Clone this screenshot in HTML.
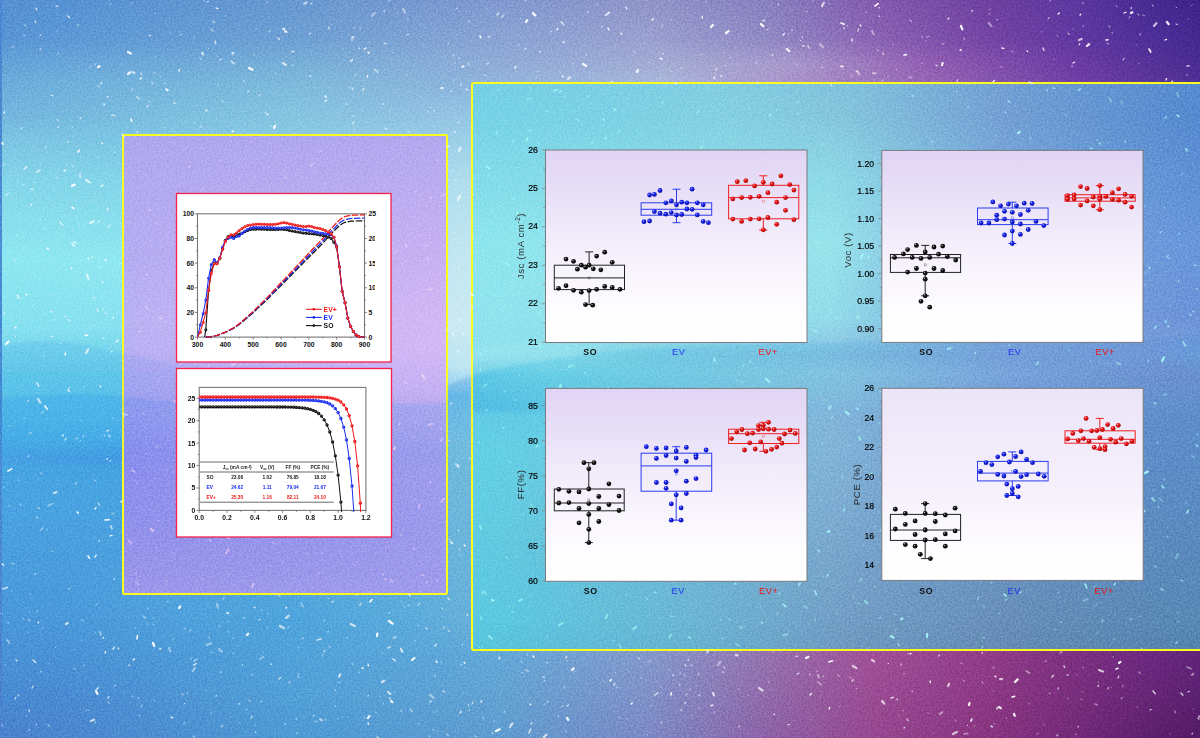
<!DOCTYPE html>
<html><head><meta charset="utf-8"><title>Figure</title>
<style>
html,body{margin:0;padding:0;}
body{width:1200px;height:738px;overflow:hidden;position:relative;font-family:"Liberation Sans",sans-serif;background:#4a8ad0;}
#lp{position:absolute;left:122px;top:134px;width:322px;height:457px;border:2px solid #fbfb1e;border-radius:2px;}
#rp{position:absolute;left:471px;top:82px;width:760px;height:565px;border:2px solid #fbfb1e;border-radius:2px;}

</style></head><body>
<div id="bg" style="position:absolute;left:0px;top:0px;width:1200px;height:738px;overflow:hidden;">
<div style="position:absolute;left:0;top:0;width:1200px;height:738px;background:linear-gradient(90deg,#5690d2 0px,#5692d4 60px,#6898d0 300px,#8098d0 500px,#9094c8 650px,#8880c0 770px,#845cb0 870px,#6e40a0 990px,#5c38a0 1075px,#44288e 1160px,#3e2488 1200px);"></div>
<div style="position:absolute;left:0;top:0;width:1200px;height:738px;background:linear-gradient(90deg,#5894d4 0px,#5c98d6 60px,#6ea0d4 300px,#8aa4d4 500px,#9aa0d0 650px,#9088c4 770px,#8a64b4 870px,#7444a4 990px,#6038a0 1075px,#4c2e98 1160px,#44288e 1200px);-webkit-mask-image:linear-gradient(180deg,rgba(0,0,0,0) 0px,#000 38px);mask-image:linear-gradient(180deg,rgba(0,0,0,0) 0px,#000 38px);"></div>
<div style="position:absolute;left:0;top:0;width:1200px;height:738px;background:linear-gradient(90deg,#64a4d8 0px,#68a6da 60px,#78b0d8 300px,#90acd8 500px,#a4acd4 665px,#a898cc 795px,#9460b4 925px,#6c3ca4 1075px,#543296 1160px,#4a2c92 1200px);-webkit-mask-image:linear-gradient(180deg,rgba(0,0,0,0) 38px,#000 65px);mask-image:linear-gradient(180deg,rgba(0,0,0,0) 38px,#000 65px);"></div>
<div style="position:absolute;left:0;top:0;width:1200px;height:738px;background:linear-gradient(90deg,#6cacdc 0px,#6eb0dc 60px,#7ebadc 300px,#8cb4dc 460px,#aab8dc 665px,#aa90c8 795px,#9668b4 925px,#7040a6 1075px,#5a3498 1160px,#523298 1200px);-webkit-mask-image:linear-gradient(180deg,rgba(0,0,0,0) 65px,#000 84px);mask-image:linear-gradient(180deg,rgba(0,0,0,0) 65px,#000 84px);"></div>
<div style="position:absolute;left:0;top:0;width:1200px;height:738px;background:linear-gradient(90deg,#72b4de 0px,#74b8de 60px,#84c4e0 290px,#90c0e2 420px,#94c4e4 460px,#94c4e4 1200px);-webkit-mask-image:linear-gradient(180deg,rgba(0,0,0,0) 84px,#000 113px);mask-image:linear-gradient(180deg,rgba(0,0,0,0) 84px,#000 113px);"></div>
<div style="position:absolute;left:0;top:0;width:1200px;height:738px;background:linear-gradient(90deg,#7cc4e4 0px,#7cc6e4 122px,#98cee6 440px,#9cd0e8 460px,#9cd0e8 1200px);-webkit-mask-image:linear-gradient(180deg,rgba(0,0,0,0) 113px,#000 140px);mask-image:linear-gradient(180deg,rgba(0,0,0,0) 113px,#000 140px);"></div>
<div style="position:absolute;left:0;top:0;width:1200px;height:738px;background:linear-gradient(90deg,#84d6ea 0px,#84d6ea 122px,#acdcee 440px,#b0deee 460px,#b0deee 1200px);-webkit-mask-image:linear-gradient(180deg,rgba(0,0,0,0) 140px,#000 182px);mask-image:linear-gradient(180deg,rgba(0,0,0,0) 140px,#000 182px);"></div>
<div style="position:absolute;left:0;top:0;width:1200px;height:738px;background:linear-gradient(90deg,#8ee8f2 0px,#90e8f2 122px,#c0e6f2 440px,#c4e8f2 460px,#c4e8f2 1200px);-webkit-mask-image:linear-gradient(180deg,rgba(0,0,0,0) 182px,#000 262px);mask-image:linear-gradient(180deg,rgba(0,0,0,0) 182px,#000 262px);"></div>
<div style="position:absolute;left:0;top:0;width:1200px;height:738px;background:linear-gradient(90deg,#84e0f0 0px,#88e0f0 122px,#c8e8f2 440px,#cceaf2 460px,#cceaf2 1200px);-webkit-mask-image:linear-gradient(180deg,rgba(0,0,0,0) 262px,#000 330px);mask-image:linear-gradient(180deg,rgba(0,0,0,0) 262px,#000 330px);"></div>
<div style="position:absolute;left:0;top:0;width:1200px;height:738px;background:linear-gradient(90deg,#66cfea 0px,#6ad0ea 122px,#b4e2f0 440px,#b8e4f2 460px,#b8e4f2 1200px);-webkit-mask-image:linear-gradient(180deg,rgba(0,0,0,0) 330px,#000 367px);mask-image:linear-gradient(180deg,rgba(0,0,0,0) 330px,#000 367px);"></div>
<div style="position:absolute;left:0;top:0;width:1200px;height:738px;background:linear-gradient(90deg,#5cc2ea 0px,#5ec2ea 122px,#74c0e8 440px,#78c2e8 460px,#78c2e8 1200px);-webkit-mask-image:linear-gradient(180deg,rgba(0,0,0,0) 367px,#000 395px);mask-image:linear-gradient(180deg,rgba(0,0,0,0) 367px,#000 395px);"></div>
<div style="position:absolute;left:0;top:0;width:1200px;height:738px;background:linear-gradient(90deg,#4aaee6 0px,#4aaee6 122px,#76bee0 440px,#78c0e0 460px,#78c0e0 1200px);-webkit-mask-image:linear-gradient(180deg,rgba(0,0,0,0) 395px,#000 440px);mask-image:linear-gradient(180deg,rgba(0,0,0,0) 395px,#000 440px);"></div>
<div style="position:absolute;left:0;top:0;width:1200px;height:738px;background:linear-gradient(90deg,#48a2e4 0px,#459ae2 122px,#72bade 440px,#74bcde 460px,#74bcde 1200px);-webkit-mask-image:linear-gradient(180deg,rgba(0,0,0,0) 440px,#000 458px);mask-image:linear-gradient(180deg,rgba(0,0,0,0) 440px,#000 458px);"></div>
<div style="position:absolute;left:0;top:0;width:1200px;height:738px;background:linear-gradient(90deg,#48a6e2 0px,#46a4e0 122px,#6eb8dc 440px,#70badc 460px,#70badc 1200px);-webkit-mask-image:linear-gradient(180deg,rgba(0,0,0,0) 458px,#000 470px);mask-image:linear-gradient(180deg,rgba(0,0,0,0) 458px,#000 470px);"></div>
<div style="position:absolute;left:0;top:0;width:1200px;height:738px;background:linear-gradient(90deg,#4aa2e0 0px,#4aa2e0 60px,#4aa2e0 122px,#6ab4da 440px,#6cb6dc 460px,#6cb6dc 1200px);-webkit-mask-image:linear-gradient(180deg,rgba(0,0,0,0) 470px,#000 518px);mask-image:linear-gradient(180deg,rgba(0,0,0,0) 470px,#000 518px);"></div>
<div style="position:absolute;left:0;top:0;width:1200px;height:738px;background:linear-gradient(90deg,#4a98da 0px,#4a98da 60px,#50a0dc 160px,#4ea4dc 290px,#5cacdc 420px,#66b0da 460px,#66acd8 560px,#8498cc 650px,#9474b0 760px,#a05098 870px,#903c88 990px,#7c3080 1075px,#6a2880 1160px,#602478 1200px);-webkit-mask-image:linear-gradient(180deg,rgba(0,0,0,0) 518px,#000 618px);mask-image:linear-gradient(180deg,rgba(0,0,0,0) 518px,#000 618px);"></div>
<div style="position:absolute;left:0;top:0;width:1200px;height:738px;background:linear-gradient(90deg,#4a92d6 0px,#4a92d6 60px,#50a2da 290px,#62a8d8 500px,#8498cc 650px,#9474b0 760px,#a05098 870px,#903c88 990px,#7c3080 1075px,#6a2880 1160px,#602478 1200px);-webkit-mask-image:linear-gradient(180deg,rgba(0,0,0,0) 618px,#000 655px);mask-image:linear-gradient(180deg,rgba(0,0,0,0) 618px,#000 655px);"></div>
<div style="position:absolute;left:0;top:0;width:1200px;height:738px;background:linear-gradient(90deg,#488ad2 0px,#4a8ad2 60px,#52a0d8 300px,#62a2d2 500px,#8090c8 650px,#906cac 760px,#9a4c94 870px,#8c3884 990px,#782e7c 1075px,#642474 1160px,#5a2070 1200px);-webkit-mask-image:linear-gradient(180deg,rgba(0,0,0,0) 655px,#000 698px);mask-image:linear-gradient(180deg,rgba(0,0,0,0) 655px,#000 698px);"></div>
<div style="position:absolute;left:0;top:0;width:1200px;height:738px;background:linear-gradient(90deg,#4a80cc 0px,#4e9ad4 300px,#5e9cd0 500px,#7c88c4 650px,#8c64a8 760px,#964890 870px,#883480 990px,#722a78 1075px,#5a1e6a 1160px,#541a64 1200px);-webkit-mask-image:linear-gradient(180deg,rgba(0,0,0,0) 698px,#000 738px);mask-image:linear-gradient(180deg,rgba(0,0,0,0) 698px,#000 738px);"></div>
</div>
<div id="lpf" style="position:absolute;left:124px;top:136px;width:322px;height:457px;overflow:hidden;">
<div style="position:absolute;left:0;top:0;width:322px;height:457px;background:linear-gradient(90deg,#aea6ee 0px,#b2a8ee 322px);"></div>
<div style="position:absolute;left:0;top:0;width:322px;height:457px;background:linear-gradient(90deg,#b0a8f0 0px,#b6aaf0 322px);-webkit-mask-image:linear-gradient(180deg,rgba(0,0,0,0) 0px,#000 21px);mask-image:linear-gradient(180deg,rgba(0,0,0,0) 0px,#000 21px);"></div>
<div style="position:absolute;left:0;top:0;width:322px;height:457px;background:linear-gradient(90deg,#b4acf2 0px,#c0b0f2 161px,#c8b0f2 322px);-webkit-mask-image:linear-gradient(180deg,rgba(0,0,0,0) 21px,#000 114px);mask-image:linear-gradient(180deg,rgba(0,0,0,0) 21px,#000 114px);"></div>
<div style="position:absolute;left:0;top:0;width:322px;height:457px;background:linear-gradient(90deg,#bab2f4 0px,#c8b4f4 161px,#d4b8f4 322px);-webkit-mask-image:linear-gradient(180deg,rgba(0,0,0,0) 114px,#000 186px);mask-image:linear-gradient(180deg,rgba(0,0,0,0) 114px,#000 186px);"></div>
<div style="position:absolute;left:0;top:0;width:322px;height:457px;background:linear-gradient(90deg,#b8b0f4 0px,#c8b4f4 161px,#d4b8f6 322px);-webkit-mask-image:linear-gradient(180deg,rgba(0,0,0,0) 186px,#000 216px);mask-image:linear-gradient(180deg,rgba(0,0,0,0) 186px,#000 216px);"></div>
<div style="position:absolute;left:0;top:0;width:322px;height:457px;background:linear-gradient(90deg,#a4a2f0 0px,#b4aaf0 161px,#c4b0f2 322px);-webkit-mask-image:linear-gradient(180deg,rgba(0,0,0,0) 216px,#000 259px);mask-image:linear-gradient(180deg,rgba(0,0,0,0) 216px,#000 259px);"></div>
<div style="position:absolute;left:0;top:0;width:322px;height:457px;background:linear-gradient(90deg,#8c8eee 0px,#9696ec 161px,#a09eec 322px);-webkit-mask-image:linear-gradient(180deg,rgba(0,0,0,0) 259px,#000 316px);mask-image:linear-gradient(180deg,rgba(0,0,0,0) 259px,#000 316px);"></div>
<div style="position:absolute;left:0;top:0;width:322px;height:457px;background:linear-gradient(90deg,#9090ec 0px,#9c9aec 322px);-webkit-mask-image:linear-gradient(180deg,rgba(0,0,0,0) 316px,#000 384px);mask-image:linear-gradient(180deg,rgba(0,0,0,0) 316px,#000 384px);"></div>
<div style="position:absolute;left:0;top:0;width:322px;height:457px;background:linear-gradient(90deg,#9894ea 0px,#9896ea 166px,#9e9aec 322px);-webkit-mask-image:linear-gradient(180deg,rgba(0,0,0,0) 384px,#000 432px);mask-image:linear-gradient(180deg,rgba(0,0,0,0) 384px,#000 432px);"></div>
<div style="position:absolute;left:0;top:0;width:322px;height:457px;background:linear-gradient(90deg,#9c98ec 0px,#a09cec 322px);-webkit-mask-image:linear-gradient(180deg,rgba(0,0,0,0) 432px,#000 457px);mask-image:linear-gradient(180deg,rgba(0,0,0,0) 432px,#000 457px);"></div>
</div>
<div id="rpf" style="position:absolute;left:473px;top:84px;width:727px;height:565px;overflow:hidden;">
<div style="position:absolute;left:0;top:0;width:727px;height:565px;background:linear-gradient(90deg,#74d0e4 0px,#82cee2 247px,#82c2dc 372px,#72a0d4 527px,#568ad0 727px);"></div>
<div style="position:absolute;left:0;top:0;width:727px;height:565px;background:linear-gradient(90deg,#76d2e6 0px,#76d2e6 37px,#84d0e2 247px,#84c4dc 372px,#74a0d4 527px,#588cd0 697px,#568ad0 727px);-webkit-mask-image:linear-gradient(180deg,rgba(0,0,0,0) 0px,#000 29px);mask-image:linear-gradient(180deg,rgba(0,0,0,0) 0px,#000 29px);"></div>
<div style="position:absolute;left:0;top:0;width:727px;height:565px;background:linear-gradient(90deg,#82dcea 0px,#8edae8 357px,#86c8e2 427px,#78a8da 527px,#6292d6 702px,#6090d6 727px);-webkit-mask-image:linear-gradient(180deg,rgba(0,0,0,0) 29px,#000 96px);mask-image:linear-gradient(180deg,rgba(0,0,0,0) 29px,#000 96px);"></div>
<div style="position:absolute;left:0;top:0;width:727px;height:565px;background:linear-gradient(90deg,#8ee6ee 0px,#98e4ec 357px,#8ccce6 427px,#7eacde 527px,#6a98dc 702px,#6896dc 727px);-webkit-mask-image:linear-gradient(180deg,rgba(0,0,0,0) 96px,#000 161px);mask-image:linear-gradient(180deg,rgba(0,0,0,0) 96px,#000 161px);"></div>
<div style="position:absolute;left:0;top:0;width:727px;height:565px;background:linear-gradient(90deg,#90e4ee 0px,#92dcea 357px,#84c4e2 427px,#7aa8dc 527px,#6e94d8 702px,#6c92d8 727px);-webkit-mask-image:linear-gradient(180deg,rgba(0,0,0,0) 161px,#000 236px);mask-image:linear-gradient(180deg,rgba(0,0,0,0) 161px,#000 236px);"></div>
<div style="position:absolute;left:0;top:0;width:727px;height:565px;background:linear-gradient(90deg,#90e2ee 0px,#8adeec 87px,#7cd0e4 167px,#80bee0 357px,#78a0d8 527px,#7098d8 687px,#689cd8 727px);-webkit-mask-image:linear-gradient(180deg,rgba(0,0,0,0) 236px,#000 271px);mask-image:linear-gradient(180deg,rgba(0,0,0,0) 236px,#000 271px);"></div>
<div style="position:absolute;left:0;top:0;width:727px;height:565px;background:linear-gradient(90deg,#62cae6 0px,#6cd0e6 67px,#70d0e4 127px,#88c4e0 372px,#7aa4dc 537px,#6c90d0 702px,#6c90d0 727px);-webkit-mask-image:linear-gradient(180deg,rgba(0,0,0,0) 271px,#000 291px);mask-image:linear-gradient(180deg,rgba(0,0,0,0) 271px,#000 291px);"></div>
<div style="position:absolute;left:0;top:0;width:727px;height:565px;background:linear-gradient(90deg,#52bce2 0px,#5cc4e4 87px,#70c0e0 227px,#80b8dc 357px,#6c9ad2 527px,#6090cc 702px,#6090cc 727px);-webkit-mask-image:linear-gradient(180deg,rgba(0,0,0,0) 291px,#000 324px);mask-image:linear-gradient(180deg,rgba(0,0,0,0) 291px,#000 324px);"></div>
<div style="position:absolute;left:0;top:0;width:727px;height:565px;background:linear-gradient(90deg,#62cce6 0px,#64cce6 87px,#72c0e0 227px,#82b6da 357px,#6c98d0 527px,#5e8eca 702px,#5e8eca 727px);-webkit-mask-image:linear-gradient(180deg,rgba(0,0,0,0) 324px,#000 332px);mask-image:linear-gradient(180deg,rgba(0,0,0,0) 324px,#000 332px);"></div>
<div style="position:absolute;left:0;top:0;width:727px;height:565px;background:linear-gradient(90deg,#64d0e4 0px,#64d0e4 27px,#82b4d8 357px,#6c96cc 527px,#5c8cc8 702px,#5c8cc8 727px);-webkit-mask-image:linear-gradient(180deg,rgba(0,0,0,0) 332px,#000 371px);mask-image:linear-gradient(180deg,rgba(0,0,0,0) 332px,#000 371px);"></div>
<div style="position:absolute;left:0;top:0;width:727px;height:565px;background:linear-gradient(90deg,#60cce2 0px,#7aa8ce 357px,#6a92c2 527px,#5a8abe 702px,#5a8abe 727px);-webkit-mask-image:linear-gradient(180deg,rgba(0,0,0,0) 371px,#000 456px);mask-image:linear-gradient(180deg,rgba(0,0,0,0) 371px,#000 456px);"></div>
<div style="position:absolute;left:0;top:0;width:727px;height:565px;background:linear-gradient(90deg,#5cc8e0 0px,#5cc8e0 33px,#6cb4d4 227px,#729cc4 377px,#688eb8 537px,#5888b4 697px,#5888b4 727px);-webkit-mask-image:linear-gradient(180deg,rgba(0,0,0,0) 456px,#000 539px);mask-image:linear-gradient(180deg,rgba(0,0,0,0) 456px,#000 539px);"></div>
<div style="position:absolute;left:0;top:0;width:727px;height:565px;background:linear-gradient(90deg,#58c4de 0px,#68b0d0 227px,#6e98c0 377px,#648ab4 537px,#5282b0 727px);-webkit-mask-image:linear-gradient(180deg,rgba(0,0,0,0) 539px,#000 565px);mask-image:linear-gradient(180deg,rgba(0,0,0,0) 539px,#000 565px);"></div>
</div>
<div style="position:absolute;left:0;top:0;width:1.6px;height:738px;background:linear-gradient(180deg,#4a86d0,#4a8cd4 40%,#4a88d2 70%,#4a80cc)"></div>
<div id="lp"></div><div id="rp"></div>
<svg width="1200" height="738" viewBox="0 0 1200 738" style="position:absolute;left:0;top:0">
<defs>
<radialGradient id="gk" cx="0.36" cy="0.32" r="0.7"><stop offset="0" stop-color="#cfcfcf"/><stop offset="0.28" stop-color="#1a1a1a"/><stop offset="1" stop-color="#000"/></radialGradient>
<radialGradient id="gb" cx="0.36" cy="0.32" r="0.7"><stop offset="0" stop-color="#c8ccff"/><stop offset="0.28" stop-color="#1a28f0"/><stop offset="1" stop-color="#0a10a8"/></radialGradient>
<radialGradient id="gr" cx="0.36" cy="0.32" r="0.7"><stop offset="0" stop-color="#ffd0d0"/><stop offset="0.28" stop-color="#f01818"/><stop offset="1" stop-color="#a80808"/></radialGradient>
<linearGradient id="pf0" x1="0" y1="0" x2="0" y2="1"><stop offset="0" stop-color="#e0d4f4"/><stop offset="0.55" stop-color="#f6f1fc"/><stop offset="0.85" stop-color="#fefdff"/><stop offset="1" stop-color="#ffffff"/></linearGradient>
<linearGradient id="pf1" x1="0" y1="0" x2="0" y2="1"><stop offset="0" stop-color="#e0d4f4"/><stop offset="0.55" stop-color="#f6f1fc"/><stop offset="0.85" stop-color="#fefdff"/><stop offset="1" stop-color="#ffffff"/></linearGradient>
<linearGradient id="pf2" x1="0" y1="0" x2="0" y2="1"><stop offset="0" stop-color="#e0d4f4"/><stop offset="0.55" stop-color="#f6f1fc"/><stop offset="0.85" stop-color="#fefdff"/><stop offset="1" stop-color="#ffffff"/></linearGradient>
<linearGradient id="pf3" x1="0" y1="0" x2="0" y2="1"><stop offset="0" stop-color="#ece4f8"/><stop offset="0.55" stop-color="#f6f1fc"/><stop offset="0.85" stop-color="#fefdff"/><stop offset="1" stop-color="#ffffff"/></linearGradient>
</defs>
<defs><linearGradient id="wd" x1="0" y1="0" x2="0" y2="1"><stop offset="0" stop-color="#1e78e4" stop-opacity="0.18"/><stop offset="0.5" stop-color="#1e78e4" stop-opacity="0.07"/><stop offset="1" stop-color="#1e7ee0" stop-opacity="0"/></linearGradient><linearGradient id="wdr" x1="0" y1="0" x2="0" y2="1"><stop offset="0" stop-color="#1098e0" stop-opacity="0.12"/><stop offset="0.55" stop-color="#1098e0" stop-opacity="0.05"/><stop offset="1" stop-color="#10a0e0" stop-opacity="0"/></linearGradient><linearGradient id="wd2" x1="0" y1="0" x2="0" y2="1"><stop offset="0" stop-color="#2a7ee0" stop-opacity="0.14"/><stop offset="1" stop-color="#2a6ee0" stop-opacity="0"/></linearGradient><linearGradient id="wl" x1="0" y1="1" x2="0" y2="0"><stop offset="0" stop-color="#ffffff" stop-opacity="0.12"/><stop offset="1" stop-color="#ffffff" stop-opacity="0"/></linearGradient><filter id="wb" x="-5%" y="-20%" width="110%" height="140%"><feGaussianBlur stdDeviation="1.6"/></filter><linearGradient id="hg" x1="471" y1="0" x2="1200" y2="0" gradientUnits="userSpaceOnUse"><stop offset="0" stop-color="#fff"/><stop offset="0.45" stop-color="#bbb"/><stop offset="0.8" stop-color="#444"/><stop offset="1" stop-color="#333"/></linearGradient><mask id="mh" maskUnits="userSpaceOnUse" x="0" y="0" width="1200" height="738"><rect x="0" y="0" width="1200" height="738" fill="url(#hg)"/></mask><filter id="grain" x="0" y="0" width="100%" height="100%" color-interpolation-filters="sRGB"><feTurbulence type="fractalNoise" baseFrequency="0.55" numOctaves="3" seed="3"/><feColorMatrix type="matrix" values="2.4 0 0 0 -0.7  2.4 0 0 0 -0.7  2.4 0 0 0 -0.7  0 0 0 0 1"/></filter></defs><g filter="url(#wb)"><path d="M448 386 L471 376 C500 367 540 360 607 352 C680 345 740 344 807 343 C900 341 950 341 1000 341 C1080 343 1150 341 1200 334 L1200 312 C1100 318 1000 320 900 320 C760 320 600 330 448 352 Z" fill="url(#wl)"/></g><g filter="url(#wb)"><path d="M0 346 C30 340 60 340 90 346 C105 349 115 352 124 354 C150 360 170 364 178 366 L178 410 L0 410 Z" fill="url(#wd2)"/></g><g filter="url(#wb)"><path d="M0 400 C40 394 90 393 124 397 C190 404 250 405 300 402 C350 399 410 406 446 403 L448 386 L471 376 L471 480 L0 480 Z" fill="url(#wd)"/></g><g mask="url(#mh)" filter="url(#wb)"><path d="M471 376 C500 367 540 360 607 352 C680 345 740 344 807 343 C900 341 950 341 1000 341 C1080 343 1150 341 1200 334 L1200 380 L471 410 Z" fill="url(#wdr)"/></g>
</svg>
<svg width="1200" height="738" viewBox="0 0 1200 738" style="position:absolute;left:0;top:0;mix-blend-mode:overlay;opacity:0.11"><rect x="0" y="0" width="1200" height="738" filter="url(#grain)"/></svg>
<svg width="1200" height="738" viewBox="0 0 1200 738" style="position:absolute;left:0;top:0">
<g id="speck"><path d="M389 111l1.1 -1.4M790 9l0.5 0.5M974 727l0.9 -1.6M896 69l1.6 1.4M615 47l0.9 -2.0M261 135l0.6 -1.0M92 683l0.7 -0.4M773 652l1.2 -0.5M460 556l0.1 -0.8M465 667l0.9 1.1M394 8l0.1 0.3M418 625l0.8 1.4M1193 709l0.5 -0.0M24 418l1.2 -0.3M155 13l0.8 0.8M219 627l1.0 -1.9M829 3l1.0 1.0M400 602l1.2 -1.0M784 58l1.6 0.7M57 31l0.4 1.1M472 644l0.5 -0.7M1037 734l1.7 -0.7M796 64l1.4 1.5M267 627l1.0 1.7M75 176l0.2 -0.1M612 706l0.3 0.0M94 538l0.8 0.4M45 724l0.3 0.1M525 63l1.4 0.8M404 606l0.7 1.7M1170 734l0.3 0.4M989 10l1.5 -1.3M147 625l0.3 -1.8M423 45l0.6 0.6M407 19l1.8 0.9M120 533l0.8 -0.9M458 531l0.8 0.4M933 733l0.3 0.6M17 236l0.6 -1.6M527 654l0.7 1.7M22 200l0.3 -0.4M730 73l0.2 0.2M691 715l1.7 1.2M572 24l1.3 0.3M1082 692l1.1 -0.8M652 691l0.7 -0.4M519 44l0.8 1.7M446 379l1.4 1.4M711 705l0.4 -0.7M135 627l0.7 1.4M290 29l0.2 -0.6M16 461l0.7 -0.3M216 55l1.2 1.3M112 654l0.2 -0.4M574 672l1.6 -0.7M155 57l1.3 -0.3M157 135l2.1 0.5M458 343l0.4 -1.0M661 687l1.2 0.6M397 13l1.4 -1.4M463 693l0.6 0.6M657 681l0.5 0.4M473 194l0.5 1.3M159 648l0.3 0.6M1076 675l0.7 -0.7M472 219l1.3 -1.4M462 193l0.3 0.6M123 416l1.5 0.5M1191 6l1.5 -1.3M441 663l0.9 -1.9M81 640l0.9 0.9M532 2l0.7 0.3M109 4l0.5 0.6M1188 19l0.8 -0.1M1057 35l0.7 2.0M486 9l1.1 -0.9M8 371l0.6 -0.6M788 35l1.0 -1.8M414 641l1.3 -0.5M40 164l0.5 0.4M376 60l0.1 -0.2M393 93l1.5 -1.4M504 660l0.2 -0.4M993 691l0.8 0.5M153 618l0.7 -0.5M626 719l1.7 -0.3M463 297l0.6 -1.1M232 639l0.9 -1.4M38 479l0.3 -0.3M169 32l1.3 1.8M615 672l1.2 1.7M748 695l0.6 0.3M530 698l0.4 -0.5M603 681l1.8 1.2M624 663l0.3 0.0M373 38l0.2 -0.2M115 516l0.2 0.1M160 77l1.6 -0.9M463 370l0.8 1.7M651 705l0.9 1.2M459 548l1.2 1.0M559 71l1.4 1.1M346 5l0.9 0.5M1122 687l0.3 -0.5M47 529l0.7 1.4M663 665l0.7 0.3M131 4l1.3 -1.5M5 665l0.7 -0.4M690 679l0.2 -0.2M137 39l0.7 -0.4M49 663l0.8 0.8M1054 59l0.6 0.7M282 680l0.3 0.2M669 2l1.2 -0.8M98 158l0.7 -1.9M29 115l1.1 1.2M576 54l0.4 -1.0M0 614l1.9 -0.7M22 248l0.5 0.6M11 591l1.2 -0.7M267 613l1.5 0.6M854 680l0.4 1.5M256 29l1.0 -1.0M1111 687l0.4 0.4M81 420l0.7 1.1M1073 29l0.5 0.2M78 66l1.2 0.3M74 650l1.1 -0.6M291 108l0.2 -0.4M1138 64l1.0 -0.9M239 25l0.4 0.7M839 707l0.9 -0.8M520 19l0.9 -1.3M455 323l1.2 1.4M806 12l1.7 -0.6M119 79l0.6 0.3M1136 45l0.5 0.2M636 67l0.4 -0.9M672 31l0.7 -0.7M696 686l0.6 -1.3" stroke="#ffffff" stroke-opacity="0.45" stroke-width="0.9" stroke-linecap="round" fill="none"/><path d="M103 309l1.0 -0.4M888 663l0.7 0.8M97 310l1.1 1.8M867 649l0.8 1.1M617 688l0.5 -0.8M25 25l0.6 1.0M522 673l0.3 -0.5M132 90l0.6 -1.2M1138 14l0.4 1.0M41 473l1.2 0.8M882 81l1.1 -1.3M331 24l0.3 0.2M699 708l0.3 0.6M218 85l0.4 0.5M137 133l0.5 -1.6M298 647l0.4 0.3M24 35l0.1 0.8M58 54l0.3 -0.8M1048 19l1.4 -1.6M1176 24l1.5 0.4M3 165l1.2 -1.2M472 306l0.3 1.7M149 101l0.8 0.9M18 696l0.6 -1.2M338 719l0.1 -0.2M468 704l0.7 1.8M897 700l0.1 -1.4M909 77l0.3 -0.2M120 224l0.5 -0.2M448 630l1.6 1.5M1131 9l0.3 -1.7M619 718l0.2 -0.1M111 4l0.4 -0.4M724 667l0.9 1.4M453 56l1.1 -1.5M222 727l0.3 -1.8M42 529l0.9 -1.3M223 599l1.1 -0.9M1123 60l1.1 -1.8M454 233l0.5 -0.5M485 75l1.0 1.0M389 613l0.6 -1.0M912 691l0.6 0.8M111 352l1.4 -0.8M1152 5l1.2 1.1M2 725l0.7 1.1M152 83l1.3 0.7M92 258l0.1 -1.5M449 539l1.0 0.8M184 704l1.0 -0.6M259 96l0.9 -1.5M37 517l0.7 1.3M904 674l0.1 -0.3M701 54l0.6 0.6M154 700l0.6 0.6M681 710l0.2 -0.4M1081 699l0.2 0.4M1108 689l0.3 -1.4M182 694l1.2 0.7M35 182l0.5 0.1M180 32l0.2 -0.3M767 30l1.2 -1.1M54 320l0.7 -0.4M800 40l0.8 0.9M562 707l0.5 -0.9M547 702l1.1 -0.7M406 75l0.9 -0.4M30 433l1.2 -0.1M200 58l0.8 1.4M459 58l0.7 0.6M407 35l1.9 -0.8M847 26l0.2 -0.5M831 84l0.9 2.0M40 36l0.8 -1.5M874 80l0.1 0.2M80 441l0.4 -0.3M385 44l1.1 -0.4M98 309l0.4 0.5M462 645l0.7 -0.4M262 610l0.2 0.2M249 700l1.2 1.3M359 672l0.1 0.5M61 343l0.1 0.3M38 508l1.3 0.3M109 227l0.8 -2.0M460 713l1.3 -1.1M101 84l0.8 -1.9M82 620l0.9 1.0M207 2l1.6 -0.8M910 20l1.4 1.5M460 713l0.7 -1.8M103 338l1.1 1.0M1068 33l1.2 1.6M357 595l0.8 -0.0M638 658l1.8 0.9M29 730l0.8 -0.4M255 725l0.2 0.2M48 725l1.4 0.8M602 27l0.3 -1.1M394 692l0.4 0.3M353 116l0.9 0.0M472 704l0.8 -1.8M469 711l0.8 -0.8M649 62l0.3 0.3M138 698l0.8 0.1M354 28l0.5 -0.6M352 37l2.1 0.0M4 314l0.1 -1.9M244 81l0.1 0.9M255 732l0.8 0.3M722 672l1.7 0.2M36 724l0.2 1.1M51 95l1.9 0.7M88 710l0.4 0.3M42 413l1.0 -1.3M76 484l0.5 -1.3M967 725l0.6 0.6M908 654l0.4 -0.6M78 512l0.5 0.3M792 31l0.1 -1.0M544 681l0.8 -0.5M997 20l0.3 -0.7M982 682l1.0 1.0M449 440l0.3 0.9M309 34l1.6 -0.7M302 639l1.2 -1.0M21 129l1.2 -1.5M329 88l0.2 -0.1M324 620l0.8 1.0M802 37l0.9 0.5M544 737l0.1 0.3M401 711l0.8 0.4" stroke="#ffffff" stroke-opacity="0.95" stroke-width="0.9" stroke-linecap="round" fill="none"/><path d="M370 602l2.0 -2.5M471 294l2.3 1.4M841 66l1.9 0.7M1106 40l1.9 -0.3M105 520l4.2 -0.3M841 23l3.1 1.3M829 662l3.4 -1.2M72 207l1.8 1.6M971 721l0.8 -2.0M875 6l3.1 -2.4M227 613l1.5 0.3M88 556l1.6 2.2M339 677l1.3 -2.8M462 67l1.7 -0.8M610 681l1.2 -1.3M45 406l2.2 3.1M166 89l1.9 1.5M8 471l3.8 -2.1M480 36l0.8 1.7M78 152l1.3 -1.8M137 639l0.3 -3.1M904 55l2.4 -0.4M1012 697l2.6 -0.6M1116 669l1.9 -0.7M131 119l0.7 2.4M671 695l0.2 -2.2M85 335l2.5 0.5M1149 49l1.8 3.0" stroke="#ffffff" stroke-opacity="0.95" stroke-width="1.6" stroke-linecap="round" fill="none"/><path d="M743 366l0.8 -1.1M802 564l0.7 -0.6M842 478l0.6 -1.5M592 161l0.4 -0.9M983 638l1.5 -0.6M983 319l1.9 -1.0M908 170l0.3 -0.2M1165 322l1.9 0.3M1060 541l0.3 0.5M1145 285l0.3 0.3M797 114l1.5 -0.6M1061 622l0.3 0.3M1070 550l0.3 -0.5M502 310l0.4 -0.2M1009 345l0.6 0.8M756 308l0.1 1.8M822 444l0.9 -1.3M1047 448l0.6 0.5M1047 91l0.6 -1.6M1148 360l0.8 1.9M1050 397l0.2 -0.1M603 260l0.2 0.3M895 630l0.6 0.3M894 614l0.9 0.5M1141 648l1.0 0.5M1069 350l0.3 0.2M797 103l1.3 -1.0M1052 447l0.4 -0.0M722 638l1.2 0.8M1033 155l1.3 0.6M898 499l0.7 -0.3M498 90l0.8 0.6M960 299l0.9 0.0M853 597l0.3 -0.4M1181 580l1.6 1.2M1129 488l1.5 -1.4M703 317l0.4 -1.0M757 125l0.3 0.1M1058 324l1.0 -0.8M768 423l0.8 0.8M591 241l0.9 1.0M1051 506l0.1 -0.3M506 557l1.4 1.1M1108 143l0.5 -0.2M815 620l0.6 -0.5M741 382l1.9 0.1M546 111l1.9 0.2M492 211l1.4 -1.7M990 329l0.3 0.3M998 562l0.7 1.0M1038 448l1.7 -0.6M761 622l1.5 1.4M946 439l0.2 0.4M678 562l0.2 0.6M480 354l1.5 -1.1M668 536l0.5 0.3M840 318l0.6 0.3M859 405l0.3 -0.2M1019 529l0.4 1.9M631 510l0.6 0.5M1090 361l0.4 -0.2M808 341l0.4 0.2M880 392l0.8 -0.4M683 200l0.4 -0.8M1102 622l0.8 -2.0M575 295l0.3 0.3M646 598l1.3 1.2M744 406l0.9 0.6M1128 260l1.7 -1.1M585 372l0.6 2.1M809 624l0.1 0.4M1197 434l0.7 0.8M802 127l1.5 -0.9M668 169l0.5 -0.9M1190 314l1.2 1.6M512 611l1.5 1.3M1130 620l1.4 -1.4M692 257l0.7 1.0M978 597l0.0 2.2M658 571l0.2 1.6M935 177l0.4 -0.4M1193 311l1.1 1.1M669 228l0.5 -0.4M1167 257l1.3 -1.8M1057 236l1.1 -0.7M989 421l1.0 -0.6M831 418l1.5 -0.9M1094 294l0.6 0.5M845 242l0.5 0.2M567 347l0.9 1.6M945 420l0.3 -0.2M745 219l1.4 -0.7M991 538l1.1 -1.1M1160 233l1.6 -1.5M759 409l0.4 0.4M1102 514l1.1 0.7M1053 88l2.0 0.3M670 390l1.3 0.6M749 108l0.2 -0.4M912 95l1.5 1.6M899 114l0.3 0.5M1155 566l1.1 0.9M960 285l1.5 0.7M844 505l0.1 0.4M941 415l0.1 -0.2M718 193l1.0 0.5M1194 265l2.1 0.4M1097 140l0.6 0.2M850 156l0.6 0.7M784 236l0.5 -0.2M722 213l0.6 0.8M783 224l0.5 0.5M618 132l1.5 -1.0M951 418l0.4 0.5M1091 559l0.2 -0.1M1178 282l0.8 -1.4M630 208l0.5 0.5M917 470l1.0 -0.4M575 345l0.9 -0.5" stroke="#a6f8f8" stroke-opacity="0.65" stroke-width="1.3" stroke-linecap="round" fill="none"/><path d="M98 222l1.3 -1.1M772 55l1.2 -0.5M279 679l1.5 -1.5M78 25l0.5 -0.2M8 623l0.3 -0.2M426 628l1.1 1.1M41 530l0.2 -0.3M778 5l0.4 -0.9M31 189l2.0 0.1M7 640l1.2 0.7M108 698l1.0 -1.3M41 672l0.2 -0.5M9 643l0.4 -0.9M35 574l0.6 -0.3M492 733l0.8 0.6M251 718l1.1 -1.7M114 579l0.5 -0.4M487 64l1.3 -0.8M118 648l0.7 0.8M531 724l1.0 -1.4M699 695l0.7 0.5M110 461l0.3 -0.4M259 620l1.0 -0.7M567 706l1.4 -1.0M385 128l1.5 0.5M359 48l0.4 0.5M1067 675l1.2 -0.0M65 316l0.4 0.3M1083 3l0.2 0.3M352 88l0.7 1.6M685 665l1.0 1.1M661 723l0.4 -0.7M939 656l0.2 -1.1M324 652l0.9 -1.5M51 311l0.5 1.2M564 688l0.2 -0.6M254 607l1.2 0.7M69 589l0.3 -0.5M29 710l0.4 1.6M883 53l0.6 1.5M566 658l0.8 -1.7M296 719l0.4 -0.4M51 336l1.2 0.8M443 691l1.6 1.0M757 83l0.8 -0.8M808 46l0.8 1.1M543 677l1.4 0.6M430 702l1.3 -1.1M141 73l0.6 1.6M788 725l1.4 -0.6M1150 710l1.1 -0.6M739 727l0.5 -1.0M463 334l1.2 -0.8M368 696l0.5 -0.6M65 440l1.1 -1.8M587 12l1.1 0.5M58 127l0.4 0.4M680 673l0.6 0.2M200 127l1.2 -0.5M248 92l0.5 -0.8M1118 678l0.8 -1.8M17 295l1.6 0.8M716 70l0.2 -1.5M858 31l0.4 -2.1M558 716l0.2 0.3M547 663l0.3 -0.5M448 598l1.2 1.5M810 674l0.1 0.6M1188 692l1.4 -0.6M483 718l0.5 0.2M936 65l1.2 0.9M115 686l0.4 -0.6M109 435l0.9 1.9M879 16l0.4 0.4M297 733l0.3 0.2M852 681l1.0 -1.3M418 605l0.5 -0.1M1079 45l0.7 -1.4M901 664l0.3 1.0M107 97l1.4 -0.8M1058 689l0.3 -1.2M215 41l1.0 0.7M797 674l1.9 -0.8M40 49l0.9 0.1M1198 718l0.9 1.0M278 38l1.6 1.5M16 660l1.0 0.8M328 632l0.3 -0.5M35 21l0.6 1.6M1199 716l0.8 1.1M688 660l0.4 -0.5M36 8l1.0 1.9M663 54l0.3 -0.3M147 107l0.8 -1.4M285 724l0.4 0.3M857 72l0.2 -1.7M706 650l1.4 0.8M904 728l0.6 -0.7M332 602l1.3 -0.8M1057 735l0.7 0.9M56 6l1.7 0.4M377 737l1.6 0.6M335 690l0.3 0.2M311 4l0.9 -0.6M15 699l0.6 -1.3M451 404l0.7 -1.1M149 36l1.7 -0.8M329 27l0.0 1.9M1078 727l0.3 -0.7M1192 734l0.6 -0.8M454 80l0.2 0.3M879 8l0.6 -0.3M32 688l1.2 -1.6M461 665l0.3 -0.5M907 719l1.1 1.7M458 351l0.7 0.8" stroke="#ffffff" stroke-opacity="0.7" stroke-width="1.3" stroke-linecap="round" fill="none"/><path d="M1144 510l0.6 1.6M564 249l1.7 0.8M568 411l0.6 -1.0M481 619l0.3 -1.8M740 627l1.8 0.8M735 500l0.7 1.4M644 276l0.2 -0.4M1149 267l0.7 1.8M779 594l0.5 -0.7M480 369l0.8 1.8M1125 142l0.5 -0.9M735 584l0.9 -0.9M675 202l0.4 -0.2M849 267l0.2 0.4M482 592l1.0 1.7M1019 538l0.9 0.5M958 306l0.3 1.5M818 550l1.2 1.7M619 239l0.1 -0.2M1176 643l1.1 -0.8M822 144l0.1 0.8M552 408l1.3 1.0M868 258l0.9 -2.0M936 577l0.3 -0.5M786 478l2.1 -0.1M572 550l0.5 -1.0M1000 527l0.7 -0.9M1197 289l0.2 -0.4M1023 185l0.3 -0.4M1030 138l0.3 0.6M560 190l0.1 -0.2M541 251l0.9 -0.6M588 96l1.2 0.2M685 558l0.4 0.5M1114 585l1.3 -1.7M750 362l0.7 0.4M789 258l1.1 0.8M647 496l0.8 0.8M1049 280l0.8 -1.1M1179 234l0.2 -0.4M486 410l0.7 0.3M1017 182l0.3 0.6M947 302l1.1 -1.1M614 477l1.0 1.8M923 314l0.9 1.2M603 119l1.4 1.5M563 198l0.5 -1.1M1141 235l1.0 1.3M560 92l0.9 -1.1M500 206l0.4 -0.2M748 343l1.1 -0.7M1066 243l0.7 -1.0M655 592l0.9 0.9M1002 542l0.5 1.2M796 175l0.8 -1.0M693 325l1.5 -0.6M1079 90l1.4 -1.4M1168 326l0.7 0.8M481 295l1.2 -0.8M975 353l0.8 0.2M515 400l0.5 0.0M821 500l0.3 0.7M902 497l1.8 -1.1M496 132l0.9 1.2M1005 112l0.3 0.2M657 177l0.8 1.4M754 515l1.4 -0.5M1020 545l1.3 -1.3M736 399l0.9 -1.2M827 576l1.2 -1.2M946 389l1.3 0.6M705 532l0.7 -0.3M730 491l0.1 0.1M1020 593l1.0 -0.9M1064 271l0.7 -0.5M608 387l0.7 1.6M800 197l1.6 1.1M662 103l1.0 -1.0M1094 247l1.3 1.3M786 268l0.9 1.3M1196 445l1.7 1.0M687 239l0.9 -1.2M774 271l1.1 -1.3" stroke="#a6f8f8" stroke-opacity="0.9" stroke-width="1.3" stroke-linecap="round" fill="none"/><path d="M721 76l0.4 0.2M652 20l1.4 -1.3M363 90l0.7 -1.3M325 96l1.3 1.3M1124 13l2.0 -0.7M97 689l1.2 -1.2M1166 80l0.6 -1.4M107 459l0.3 -0.4M99 541l0.3 -0.2M447 147l1.9 -0.9M179 71l0.3 -1.7M47 248l1.7 1.1M239 704l0.1 -0.3M711 706l1.8 -1.0M763 21l1.5 -0.8M346 104l0.5 0.2M68 16l1.4 1.4M133 660l1.5 -1.2M810 695l1.5 -1.4M685 703l0.3 -0.3M292 52l1.4 -0.7M774 714l0.2 0.4M993 82l1.5 -1.4M216 696l0.4 -0.2M216 8l1.9 0.7M88 258l0.5 1.1M525 49l0.6 -0.2M206 111l1.0 -1.1M783 35l1.5 -1.6M515 68l0.8 -1.6M102 143l0.6 0.5M436 661l1.3 1.2M960 50l1.3 -0.0M68 142l0.1 0.4M110 536l1.9 -0.7M530 704l0.9 0.9M991 726l1.3 0.9M611 82l0.9 -0.4M77 512l1.3 1.4M972 11l0.4 -0.3M608 28l0.8 1.9M562 76l1.2 0.8M310 76l0.5 0.2M451 91l0.3 0.2M15 328l1.2 -1.2M102 282l1.0 0.4M68 390l1.3 1.2M362 668l1.4 0.2M860 25l0.9 0.8M1027 51l0.5 0.4M844 28l0.2 0.2M467 615l0.4 0.2M948 19l0.8 -0.9M982 653l0.4 -0.2M364 49l1.9 -1.0M100 386l0.6 0.9M435 646l1.0 -1.6M481 702l0.6 -1.2M383 104l0.3 -0.1M286 31l0.9 1.2M38 622l0.4 1.0M105 260l0.7 0.9M26 295l1.1 -0.9M140 79l1.5 -1.3M455 132l0.2 0.2M353 123l0.9 -0.9M829 709l0.7 -1.6M796 656l1.1 0.5M65 355l0.4 -2.0M104 104l0.2 0.9M533 656l1.2 1.4M464 545l1.2 1.0M1080 15l0.7 -0.7M621 33l0.5 1.4M4 113l0.5 -1.2M852 41l0.1 -2.2M232 53l1.9 -0.1M1073 63l1.5 -0.8M325 101l1.5 -0.9M702 18l0.5 -1.6M1058 14l1.4 -1.0M384 11l0.3 0.2M995 676l0.9 0.8M434 111l0.3 -0.5M31 205l0.8 -0.7M660 58l1.9 1.1M105 653l0.6 -1.4M103 638l0.5 -0.4M28 401l0.1 -0.2M368 664l0.4 1.9M367 77l0.7 -1.4M930 681l0.5 1.5M368 52l1.1 1.2M464 662l0.8 1.2M673 675l0.2 0.4M997 709l0.3 -1.4M351 61l1.5 -1.2M286 608l0.6 -0.6M461 84l0.0 0.8M71 268l0.9 0.5M220 60l1.1 -0.5M283 29l1.4 -0.3M466 89l1.6 1.0M95 509l1.0 -1.3M557 30l0.7 -1.7M267 115l1.1 -0.4M113 318l0.5 -1.0M803 46l1.0 -0.2M409 594l1.0 1.7M1172 81l0.3 0.6M1098 686l0.3 -0.4M2 564l1.7 1.2M675 83l1.6 0.8M64 171l1.8 -0.8M94 298l0.4 -0.4M1165 40l1.5 -0.6M540 52l0.0 -0.3M631 704l1.3 -1.0M626 7l0.8 1.9M171 717l1.9 0.9M121 502l1.3 -1.2M714 77l0.6 1.6M910 654l1.0 -0.6M271 664l0.3 0.2M1002 48l1.9 0.3M215 43l0.6 0.3M232 132l1.7 -1.1M63 435l0.0 0.9M174 103l0.9 0.4M368 723l0.6 1.1M458 465l0.5 1.0M499 659l0.6 -1.6M80 118l0.7 0.3M129 665l0.2 0.2M160 649l0.5 -0.4M563 42l1.3 0.3" stroke="#ffffff" stroke-opacity="0.95" stroke-width="1.3" stroke-linecap="round" fill="none"/><path d="M178 186l0.4 -0.1M250 311l0.4 -0.5M223 174l0.8 0.1M306 554l1.1 0.7M241 207l0.3 -0.5M143 278l1.3 1.0M190 487l0.3 -0.1M404 305l0.8 -0.2M247 533l1.2 0.8M194 344l0.2 1.7M197 589l0.2 -1.5M364 344l0.5 1.2M217 253l1.5 -1.6M414 500l1.9 -0.8M437 160l1.2 1.2M336 495l1.6 -0.6M378 250l0.1 0.6M407 226l0.9 -1.3M192 188l0.7 -0.5M168 374l0.4 -0.9M421 235l0.3 -0.2M366 424l0.4 0.5M270 565l0.4 0.3M284 241l1.9 0.9M344 400l1.7 1.3M282 561l1.0 1.8M235 585l0.5 -0.3M268 347l0.4 0.7M125 222l0.7 0.9M368 419l0.1 0.3M252 403l0.7 0.3M150 240l0.5 0.9M332 512l0.9 1.5" stroke="#f6d0f8" stroke-opacity="0.35" stroke-width="1.3" stroke-linecap="round" fill="none"/><path d="M173 553l0.5 -0.2M370 184l0.4 1.0M173 472l0.2 0.4M275 302l0.5 -0.1M424 345l1.6 1.1M419 159l0.1 -0.3M376 188l1.7 1.1M265 532l1.1 1.6M166 582l1.4 -0.6M426 413l0.7 -1.0M273 461l1.5 -1.4M350 227l0.5 -0.5M388 547l0.2 -0.5M419 358l0.4 0.2M434 289l0.2 -0.3M323 287l1.0 0.7M355 356l1.6 -0.7M420 342l1.5 0.8M440 218l0.3 0.6M310 536l1.3 0.4M322 554l0.3 -0.6M132 251l1.5 1.6M274 304l0.1 -2.0M228 409l0.5 -0.6M208 365l1.3 1.6M144 510l0.7 -0.1M405 261l1.4 0.7M362 348l0.5 -1.2M263 375l0.9 -1.9M288 480l1.0 -0.7M142 148l0.5 0.6M415 422l1.3 1.0M347 295l1.6 -0.9M363 422l1.2 -0.7M354 565l1.5 0.7M228 574l1.3 0.7M203 148l0.3 -0.5M259 260l0.6 -0.9M392 354l0.7 -1.3M209 336l0.4 -0.7M136 224l0.4 -0.2M143 413l1.7 1.4M128 358l0.6 0.5M422 320l0.3 0.4M312 280l1.3 -0.8M181 253l0.7 -0.6" stroke="#f6d0f8" stroke-opacity="0.75" stroke-width="0.9" stroke-linecap="round" fill="none"/><path d="M948 349l2.6 -1.1M506 263l2.4 2.0M657 180l1.9 1.1M1016 490l1.5 -1.8M480 526l1.1 2.6M865 601l1.8 2.3M1037 364l1.0 -1.6M653 184l1.0 1.4M814 330l2.7 1.7M1186 149l1.1 1.7M861 277l2.7 0.7M989 178l2.4 -1.5M1138 198l1.7 -3.2M689 637l1.2 1.0M706 491l2.6 -2.5M720 409l1.4 -0.7M559 625l3.5 -1.9M489 636l3.1 2.8M1133 168l3.4 -1.5M606 618l1.2 -3.1M799 585l1.0 -1.9M554 91l2.4 -1.3M1041 192l1.4 2.3M1162 486l1.6 1.6M628 441l2.2 -3.4M1152 498l2.4 2.9M1183 342l2.2 3.2M517 212l1.7 3.9M714 358l1.1 3.0M1000 434l1.5 -0.9M770 116l0.6 -1.5M519 601l2.7 -1.7M569 367l3.6 -1.8M637 509l4.5 0.1" stroke="#a6f8f8" stroke-opacity="0.65" stroke-width="2.2" stroke-linecap="round" fill="none"/><path d="M1135 533l1.5 0.6M780 389l1.9 0.0M570 604l0.2 1.9M1178 363l0.6 -1.4M739 319l0.4 -1.1M777 306l0.8 -0.1M947 289l0.2 -0.4M1062 385l0.6 -0.3M1036 472l0.3 0.7M1070 224l0.5 0.5M911 474l1.5 -1.6M611 301l0.8 0.1M841 326l0.3 0.6M1100 541l1.3 -1.0M1077 439l0.3 -0.2M615 156l1.9 -0.7M1003 313l0.5 1.0M1048 556l0.3 0.2M1012 270l0.6 0.6M1120 115l1.0 0.6M623 314l0.4 0.2M1071 339l0.9 -1.7M566 600l0.3 0.5M946 515l1.3 0.1M1070 90l0.2 0.1M1166 197l0.1 -0.4M888 626l1.4 0.6M1009 279l1.1 -0.7M1173 178l0.3 0.2M676 99l0.9 -1.0M1030 589l1.6 1.0M796 558l1.4 -1.2M990 118l0.7 -0.9M1037 563l1.0 1.4M583 473l1.0 -0.6M715 279l0.7 2.0M1087 495l0.8 -0.4M789 126l0.4 -0.5M631 276l0.5 0.5M1130 334l1.5 1.1M1148 375l0.1 0.1M666 589l1.0 -1.2M578 313l0.7 0.4M652 437l0.3 -0.4M1116 361l1.5 1.5M743 344l1.1 -1.4M1124 496l1.5 -1.6M1044 290l0.7 -0.8M523 149l1.7 1.2M540 103l0.8 -0.1M559 307l1.4 1.1M630 295l0.5 0.9M1115 428l0.7 -1.7M777 455l0.7 1.2M536 644l0.9 -1.9M712 370l0.4 -2.1M1129 299l0.7 -1.2M1131 648l0.3 -0.1M948 287l0.6 -0.4M862 546l1.8 -1.2M985 169l0.1 -0.2M778 216l0.2 -0.1M971 343l0.9 -0.6M1073 131l1.0 0.5M1181 146l0.3 -0.5M643 239l1.3 0.8M913 428l0.4 0.6M585 511l0.3 -0.5M619 502l1.5 -1.2M865 132l1.6 -0.8M599 318l0.8 0.5M481 117l2.1 -0.2M887 384l0.8 -1.1M972 157l0.3 0.3M1199 579l0.1 0.2M1098 169l1.0 0.4M628 495l1.0 1.2M575 417l0.8 0.8M580 220l1.2 -1.0M662 317l0.8 0.8M874 413l1.5 1.1M1176 278l0.2 -0.3M1187 253l0.4 0.5M578 107l1.0 -0.4M805 396l1.9 1.0M476 338l0.4 0.6M1163 383l0.5 -0.6M567 355l1.8 -1.0M1190 523l1.1 -0.7M607 628l0.1 1.8M1096 529l0.9 1.3" stroke="#a6f8f8" stroke-opacity="0.4" stroke-width="0.9" stroke-linecap="round" fill="none"/><path d="M968 108l0.1 -2.1M819 392l0.3 0.0M992 431l0.5 -1.4M720 245l0.9 -1.0M567 254l0.4 -0.6M1071 439l0.8 -1.5M1178 621l0.9 1.3M734 455l1.0 -1.7M858 603l1.7 0.8M916 484l0.8 1.1M1090 639l0.3 0.2M804 523l0.6 1.2M845 496l0.8 -0.5M924 150l1.5 1.5M796 181l1.3 -1.0M504 391l1.6 0.2M568 204l0.3 -0.4M484 261l1.3 -1.4M880 531l1.1 -0.7M804 266l0.2 -0.7M609 87l0.7 -0.3M519 375l0.6 0.7M1165 321l1.9 -1.0M564 97l1.6 -1.3M539 345l0.8 -1.2M879 618l1.6 -0.7M826 101l0.9 -1.3M552 478l1.1 0.6M529 87l1.6 0.8M799 349l0.1 0.4M619 218l0.2 -0.5M500 187l0.5 -0.3M1164 208l0.5 -0.9M479 284l0.8 0.9M931 142l2.0 -0.6M991 583l1.1 -0.1M657 604l0.8 0.8M581 275l1.2 -1.5M479 647l1.3 1.0M875 533l0.1 -0.2M788 630l0.3 0.3M848 446l1.0 -0.9M479 373l0.2 -0.1M968 85l0.2 -0.3M666 86l0.2 -1.0M772 256l0.3 -0.1M625 555l0.8 1.1M1168 258l1.2 0.4M1158 506l0.9 1.5M1031 538l1.7 0.9M1097 604l0.3 -0.6M871 419l1.6 -1.1M594 268l0.7 -1.1M857 302l0.1 -0.3M1039 521l1.1 1.1M867 386l0.9 -1.2M1076 296l1.1 -1.1M1011 524l0.6 -0.5M958 461l0.5 -0.4M613 640l0.3 0.3M959 476l1.4 -1.4M548 135l0.9 -0.7M513 199l1.2 -0.1M1167 537l0.9 -0.5M1114 639l0.1 0.8M646 274l1.0 -1.2M554 112l0.4 0.6M999 613l1.1 1.0M1073 283l0.8 -1.4M874 586l1.0 1.1M614 111l0.6 -0.5M853 100l0.7 0.6M766 88l1.2 -0.8M915 515l1.0 0.3M1089 296l1.5 1.0M808 511l0.4 -0.2M744 343l0.7 0.4M640 410l0.5 0.7M982 648l1.0 -1.4M695 236l0.5 -0.6M832 138l0.3 0.2M911 456l0.5 0.6M620 272l0.1 -0.2M825 318l1.2 -1.4M933 538l1.0 1.9M479 597l0.3 0.4M1017 206l0.1 -0.2M1180 245l0.8 0.5M784 578l1.3 1.3M1170 306l0.1 -0.7M531 102l0.4 0.3M824 400l0.7 -0.2M930 236l0.5 -1.0M479 443l0.6 -1.4M613 641l0.4 0.1M704 255l0.9 -1.0M879 423l0.0 1.1M1055 580l1.2 0.8M547 418l1.6 1.4M1062 173l0.2 0.2M1157 442l1.3 1.1M946 547l1.2 -1.2M595 308l1.3 -1.7M479 484l0.5 -0.3" stroke="#a6f8f8" stroke-opacity="0.9" stroke-width="0.9" stroke-linecap="round" fill="none"/><path d="M33 660l2.5 2.3M37 383l1.7 3.2M284 29l1.3 3.2M113 649l1.4 -1.9M107 431l1.4 -0.6M1064 666l0.7 1.5M320 719l1.9 1.5M95 557l1.1 -2.0M529 733l1.6 -3.8M101 186l1.9 -0.8M655 695l2.9 -2.5M111 526l1.0 2.6M1181 693l1.7 2.1M317 640l4.1 -1.0M24 169l2.6 -2.1M561 22l2.8 2.6M107 210l0.9 -1.5M1029 82l3.4 1.5M3 589l4.2 -1.6M393 659l2.4 1.7M873 73l2.3 0.3M116 342l2.4 -1.6M707 653l1.2 -2.5M37 172l2.9 -1.9M1153 691l2.2 2.7M231 61l3.0 2.7M497 15l1.5 -1.8M194 665l2.2 -1.4M1187 66l2.0 -0.1M388 648l2.2 -1.1M72 243l2.4 3.1M304 4l2.8 -1.7M1043 48l0.8 2.3M891 698l2.4 -0.7M1052 677l1.2 -1.6" stroke="#ffffff" stroke-opacity="0.7" stroke-width="1.6" stroke-linecap="round" fill="none"/><path d="M609 183l1.8 0.9M831 499l1.1 -0.4M927 448l1.4 1.1M509 605l1.2 1.3M957 195l0.6 -0.6M731 233l1.4 -0.6M1107 364l1.4 -1.1M530 596l1.4 -0.8M862 163l0.1 -0.2M980 294l1.6 -0.7M511 209l1.0 1.7M1113 390l0.4 -0.6M587 487l0.6 0.4M1007 306l0.9 0.5M776 97l1.0 -1.3M710 135l0.2 0.2M1097 634l0.4 -1.1M1068 344l0.2 -0.3M811 119l1.5 -1.2M966 554l1.0 -1.3M961 115l0.2 0.4M913 423l0.8 1.4M547 637l1.8 -1.1M971 215l0.4 0.3M492 323l1.4 1.2M585 525l0.5 -0.6M776 614l1.5 -1.1M705 321l1.5 0.6M707 511l0.4 -0.4M522 515l1.4 -1.6M1150 548l1.4 -1.2M766 134l0.2 -0.1M1171 645l0.3 0.3M702 313l1.4 -0.5M830 134l0.8 -0.9M771 221l2.0 0.2M856 297l1.5 0.8M778 323l0.7 -1.6M564 182l0.1 0.5M816 161l0.4 -0.1M703 163l1.4 0.6M635 432l1.8 -0.7M755 172l0.1 1.0M989 319l1.7 1.4M861 180l0.6 -0.0M1166 141l1.4 -1.4M568 557l0.2 0.2M837 613l0.0 1.3M603 164l0.2 -0.8M811 372l0.3 -0.4M874 527l1.8 -1.2M812 296l1.6 -0.3M823 577l0.9 -0.5M906 439l0.8 0.3M855 237l1.2 -1.5M612 397l0.2 -0.0M724 424l1.3 -0.1M624 174l0.6 0.3M1018 278l0.6 1.7M880 536l0.8 0.3M620 237l0.1 -0.4M686 299l0.1 0.2M742 187l0.5 2.1M586 138l1.6 -0.8M701 193l1.1 1.3M766 144l1.5 1.3M828 362l0.7 0.4M774 366l0.3 0.3M810 328l1.6 1.3M834 177l1.2 1.6M857 124l1.2 1.4M998 567l0.4 0.6M994 136l1.8 -1.2M669 184l0.6 -0.4M1088 542l0.8 -2.0M944 501l0.4 0.3M861 263l1.7 0.7M657 510l0.1 0.4M1002 640l0.2 -0.2M910 144l1.3 -1.1M680 302l0.1 -1.1M545 639l0.2 -0.4M914 376l0.5 -0.2M1046 559l0.5 -1.2M504 626l1.2 0.6M533 140l0.3 -0.2M923 472l0.1 -1.7M1094 605l1.2 1.6M987 467l1.1 0.5M994 537l1.3 -0.5M516 557l0.8 -1.1M1182 175l0.3 -1.8M1041 444l0.6 0.6M919 563l0.9 -1.0M807 226l0.7 -1.0M1032 188l1.7 1.2M1078 90l0.1 0.4M981 582l0.1 -1.2M744 626l0.4 0.1M795 646l0.9 -1.1" stroke="#a6f8f8" stroke-opacity="0.65" stroke-width="0.9" stroke-linecap="round" fill="none"/><path d="M100 632l0.8 2.8M60 222l2.4 3.1M614 685l0.8 -1.4M112 115l2.5 0.7M718 665l2.3 -3.3M430 695l3.4 2.9M1192 675l1.3 -1.3M403 9l2.0 3.5M394 638l1.6 -0.9M137 97l2.1 1.6M74 242l2.4 1.0M872 31l1.6 3.2M360 605l1.0 -1.6M502 17l1.3 -1.3M818 675l0.9 2.3M372 16l2.8 -2.9M375 70l2.6 1.9M352 40l0.5 -2.7M858 72l1.3 2.2M820 44l2.9 3.2M169 648l1.3 3.3M940 714l2.0 -1.7M989 23l2.3 3.2M456 464l2.4 3.0M193 671l1.8 -3.1M80 174l0.1 3.7M217 604l0.9 3.7M18 297l0.9 1.4M124 414l2.7 1.0M219 649l2.8 2.6M207 645l3.9 -1.6" stroke="#ffffff" stroke-opacity="0.45" stroke-width="2.2" stroke-linecap="round" fill="none"/><path d="M194 37l1.0 1.0M90 67l1.6 -1.3M459 550l0.8 -0.4M84 387l0.6 0.4M42 46l0.4 -0.4M52 551l0.7 0.4M922 36l0.6 1.2M823 677l0.6 -1.4M567 661l0.2 -0.1M95 65l0.9 -1.5M101 436l0.2 0.4M292 65l1.2 0.7M452 171l0.8 -0.3M963 680l1.4 1.4M86 711l0.7 -1.0M768 681l1.5 1.3M126 15l0.2 0.2M1041 32l0.4 -0.2M475 736l1.3 0.7M230 717l0.3 0.1M488 37l0.4 -0.8M139 715l1.1 1.3M471 552l1.0 1.1M435 677l0.2 -1.9M811 719l0.1 0.2M15 158l0.1 0.2M29 612l0.5 -0.4M42 628l0.9 0.1M96 605l1.5 -1.3M446 330l1.2 -0.8M263 652l0.4 0.3M246 710l1.1 -0.6M525 1l1.3 -1.2M456 9l1.6 -0.7M55 648l1.1 -1.1M392 52l0.7 1.0M1068 698l0.7 0.7M78 224l1.0 0.8M1049 693l1.3 0.8M419 603l1.7 1.0M354 130l0.6 -0.8M1121 699l1.2 -1.6M408 605l1.0 0.1M122 463l0.2 -0.4M1076 734l0.5 0.8M242 666l0.6 -1.6M23 618l1.1 1.1M888 77l0.3 -0.2M1044 725l0.2 -0.3M634 51l0.5 1.0M74 668l1.2 1.6M29 619l0.2 2.0M544 705l0.6 -1.2M738 689l1.0 0.6M343 49l0.2 -0.1M9 506l0.9 -0.6M66 164l1.2 0.4M270 126l1.3 0.5M928 713l0.3 0.3M1129 18l1.1 -1.6M521 661l0.7 1.7M1006 718l0.6 -0.7M322 656l0.5 -1.2M30 680l0.4 0.4M328 598l0.7 0.8M28 633l0.3 -0.2M237 646l0.4 -0.4M107 165l0.3 0.4M83 666l1.4 -1.3M494 722l0.1 -1.3M681 710l1.3 1.2M239 723l0.2 0.1M857 689l0.1 -0.8M536 78l0.6 -0.9M180 35l1.8 -1.0M1116 6l1.2 0.5M206 690l0.5 0.4M288 628l1.0 -1.3M95 633l0.3 -0.2M809 48l0.5 0.8M208 49l0.7 -0.8M352 663l0.7 1.4M153 624l0.8 1.2M72 128l0.8 -1.4M459 171l0.2 0.2M989 14l1.0 -0.6M1176 7l0.7 0.7M458 530l0.6 0.3M68 388l2.1 -0.1M566 731l0.0 0.8M152 81l0.1 0.2M108 702l1.6 1.3M26 716l0.5 0.6M725 66l0.2 -0.5M369 42l0.8 -0.1M522 10l0.2 -0.2M338 682l1.7 0.7M550 32l2.0 -0.8M641 678l0.4 0.6M955 720l1.0 0.6M228 631l0.3 1.1M418 723l1.1 1.5M457 35l0.3 -0.6M434 712l0.7 0.4M173 129l0.1 0.2M100 267l1.0 0.4M164 128l0.7 -0.6M33 306l0.8 -1.2M1098 682l0.3 0.4M274 593l0.9 1.7M813 1l0.5 -0.0M380 697l0.1 -0.2M437 711l0.6 -0.3M468 21l1.4 0.6M455 184l0.8 0.2M3 488l0.5 -0.6M455 179l1.0 1.4M114 153l0.6 -1.3M57 177l0.7 1.6M120 264l1.3 -1.1M20 504l0.8 1.2M455 63l0.5 -0.7M225 16l0.4 -0.4M730 57l0.9 1.1M647 735l0.4 -0.5M822 68l0.6 -1.5M93 326l0.5 -0.4M15 336l0.6 1.1M167 602l1.3 -1.1M313 716l1.6 -0.7M430 107l0.5 0.7M382 653l0.5 -0.4M644 44l0.3 -0.8M681 69l0.5 -1.9M65 216l0.1 0.2M228 621l0.6 0.8M1137 707l0.4 -0.0M43 356l0.4 0.4M899 716l0.2 0.1M706 2l0.2 0.6M389 1l0.9 -1.0M26 207l0.1 0.2M191 659l1.1 -0.9M903 711l0.5 -0.6M926 41l0.2 -0.5M957 81l1.1 -1.8M610 658l0.0 0.3M1175 711l0.2 1.8M458 266l1.0 1.8M691 665l1.4 0.5" stroke="#ffffff" stroke-opacity="0.7" stroke-width="0.9" stroke-linecap="round" fill="none"/><path d="M964 734l3.6 -0.6M452 333l2.0 2.7M122 134l2.6 3.3M45 148l1.2 -1.1M301 603l2.0 3.8M468 63l1.0 2.2M818 682l3.1 2.6M410 709l2.2 2.6M194 661l3.3 -2.1M526 670l2.5 1.4M6 195l2.7 -1.7M1060 653l1.7 -1.0M211 29l2.1 2.0M1187 667l4.1 1.8M1095 704l2.0 0.8M143 616l2.2 1.8M289 683l1.1 -1.6M72 165l1.4 1.6M213 21l1.4 1.6M98 86l1.5 0.7M68 319l1.7 1.5M460 321l1.5 -2.2M389 698l1.5 0.8M48 506l3.0 -1.9M279 595l1.0 1.5M98 503l1.7 2.2M1026 671l3.7 2.0M458 122l1.2 1.0M260 659l3.6 -2.4" stroke="#ffffff" stroke-opacity="0.45" stroke-width="1.6" stroke-linecap="round" fill="none"/><path d="M875 103l0.2 0.1M844 171l0.4 0.3M913 218l1.3 -1.5M715 458l0.1 -0.3M983 302l0.6 0.2M628 394l0.4 0.5M832 369l0.3 0.6M962 443l0.7 1.7M812 221l0.6 -1.0M1079 434l0.3 -0.4M987 209l0.3 0.4M1058 593l1.2 -0.8M789 155l0.3 -0.7M866 465l1.2 -0.5M1094 587l1.4 -1.3M942 97l0.3 0.5M703 141l0.8 -1.2M1099 362l0.0 0.3M956 92l0.9 -1.0M543 371l0.2 -0.6M549 614l0.6 0.8M1139 488l0.6 -0.8M1145 272l1.4 -0.0M703 221l0.3 -0.2M712 341l0.4 -0.6M496 627l0.6 -0.7M1065 114l1.3 1.5M626 596l0.9 -1.8M680 203l1.2 0.8M1037 471l1.5 1.4M485 351l0.5 -0.9M1055 630l0.6 -0.4M811 304l1.0 -1.0M604 365l0.5 -0.3M689 624l0.4 0.4M621 84l0.8 1.5M556 517l1.2 1.4M924 216l1.3 1.2M763 557l0.3 -0.5M858 430l1.3 1.0M569 360l0.7 -0.7M622 549l0.8 -0.6M829 340l1.0 1.6M883 567l1.7 1.3M614 336l1.3 1.2M1185 504l1.1 -1.7M781 403l0.8 -1.0M660 156l0.1 -0.3M715 249l0.4 -0.2M720 619l1.6 1.4M659 195l0.4 -0.8M1020 225l1.8 -1.1M1194 582l0.1 -0.3M779 217l1.2 1.2M537 421l0.2 0.2M892 560l0.2 0.4M662 457l1.6 -1.4M895 185l0.6 1.2M1018 211l0.4 -0.3M1108 401l1.2 -1.0M1163 479l1.6 0.7M499 270l1.5 0.6M586 199l0.4 0.7M486 615l0.2 0.2M736 381l1.7 -1.4M582 124l0.6 1.3M532 324l1.1 -0.9M929 104l1.2 -1.0M1115 330l0.7 1.6M482 646l1.0 0.7M1056 301l1.0 1.7M734 207l0.8 -0.5M1140 616l0.0 0.9M1060 597l0.6 0.3M1064 410l1.7 1.2M1144 207l1.3 -1.1M795 522l0.7 -0.3M612 146l1.3 1.6M890 120l0.7 -0.3M1035 498l0.7 -0.9M1153 490l0.5 0.3M956 504l1.3 0.9M551 179l0.8 1.2M966 196l1.0 0.8M946 237l0.8 0.5M796 539l0.9 0.9M543 161l1.6 1.1M1011 469l1.7 -1.3M984 128l0.3 1.3M870 306l1.4 -1.0M808 400l0.6 1.4M706 189l0.3 -0.3M956 518l0.5 1.3M756 487l0.7 -1.6M842 510l0.4 0.3M1178 613l0.6 -0.6M894 549l1.4 -0.9M729 619l1.2 1.5M604 137l1.0 1.7M760 605l0.4 1.0M1104 108l0.2 0.2M866 471l0.6 0.8M961 485l1.1 1.9M563 440l0.9 0.1M777 110l0.1 -0.8M1096 471l0.7 0.9M773 330l0.9 -0.1M912 275l0.6 -0.5M546 291l0.3 0.1M652 223l0.1 0.2M674 534l0.2 0.2" stroke="#a6f8f8" stroke-opacity="0.4" stroke-width="1.3" stroke-linecap="round" fill="none"/><path d="M352 339l1.8 1.9M129 541l2.3 2.6M429 425l3.4 -1.4M406 245l0.8 1.8M441 502l3.2 -3.1M233 201l2.8 -2.0M430 290l1.4 -1.3M361 225l2.4 -2.0M391 580l1.3 1.6M226 553l2.4 -3.6M390 414l1.2 -1.4" stroke="#f6d0f8" stroke-opacity="0.55" stroke-width="2.2" stroke-linecap="round" fill="none"/><path d="M756 62l0.8 1.3M233 653l0.6 0.4M233 55l0.0 -1.1M1139 672l1.1 1.5M204 1l0.1 0.2M993 668l1.0 -0.8M18 480l0.9 0.5M1083 668l0.3 -0.7M537 72l1.4 -0.5M437 731l0.3 0.2M14 260l0.7 0.5M1045 661l1.3 0.1M148 609l0.1 -1.0M30 594l0.2 0.3M252 675l0.7 -0.8M586 54l0.6 1.1M838 675l1.2 1.5M209 637l0.5 1.4M184 724l0.2 -1.7M1001 67l0.6 -0.2M671 71l1.3 0.5M690 689l0.6 0.8M52 504l1.2 -0.4M37 612l1.0 -1.5M132 696l1.1 0.5M325 720l0.7 -0.8M489 38l0.9 -2.0M961 663l0.9 0.5M443 628l1.6 -0.9M12 563l1.7 1.2M220 672l1.9 0.0M573 64l0.5 -0.4M222 101l1.3 0.7M193 736l1.1 1.0M265 113l1.9 0.4M267 3l0.8 -1.3M28 457l1.1 -1.5M877 50l1.6 0.7M375 712l1.2 0.5M856 71l0.5 0.3M269 32l1.5 -1.2M448 43l0.6 0.9M9 426l0.3 -0.3M1072 67l0.3 -1.6M23 185l1.3 -0.7M851 75l0.9 0.2M1109 26l1.0 1.2M447 734l1.3 1.5M698 675l1.2 -1.7M211 713l0.4 1.0M384 44l0.7 -1.2M276 73l0.3 0.8M113 418l0.3 0.3M1112 33l0.4 -0.5M472 237l1.2 0.8M173 639l0.4 -0.2M190 631l0.9 -1.2M184 628l1.2 0.9M408 131l1.3 1.0M469 458l1.2 0.6M360 29l0.6 -1.3M355 76l1.0 -1.6M329 646l0.9 1.0M957 81l0.6 1.5M1123 686l0.1 -0.7M1083 26l0.6 0.3M141 707l0.8 -2.0M12 47l1.9 -0.9M95 723l0.6 -1.1M1107 43l1.7 1.1M335 706l0.3 0.3M76 439l1.4 -1.4M298 674l1.1 0.0M893 45l0.3 -0.5M57 119l1.4 1.5M817 671l0.8 -0.2M429 736l0.7 0.4M1029 704l0.1 -0.3M10 172l0.2 -0.2M1187 75l0.3 -0.3M922 63l0.3 0.4M866 12l0.4 0.3M1050 1l0.3 -0.6M662 27l0.8 -2.0M433 730l0.9 0.4M442 608l0.6 0.8M679 684l0.8 1.6M994 724l0.3 -0.4M383 704l0.4 -1.2M910 77l1.9 0.8M195 122l0.3 0.6M187 693l0.8 0.3M349 88l0.7 -0.8M597 4l0.5 0.6M254 55l0.2 0.2M40 220l0.6 -1.0M1113 657l0.2 -0.3M154 73l0.9 -0.1M211 652l1.2 0.5M428 111l0.0 1.3M364 717l0.9 0.5M850 677l0.5 0.9M714 712l0.5 0.5M105 313l1.4 0.7M927 37l1.6 -0.7M83 437l0.6 -1.3M112 514l1.7 -0.8M686 695l1.4 -1.1M964 38l0.5 1.9M504 713l1.0 -1.9M942 44l1.9 -0.4M94 480l1.2 0.6M669 670l0.6 0.4M649 662l1.2 -1.8M338 113l0.1 -0.2M243 618l1.6 0.0M261 702l1.1 -0.9M684 675l1.2 -0.1M671 20l0.6 -0.0M164 84l1.7 -1.2M1012 51l1.1 0.8M104 435l0.7 0.7M1140 35l0.6 -1.4M44 228l1.2 0.5M1143 15l1.2 0.6M298 676l1.0 1.8M347 638l0.5 -0.5M315 722l2.0 -0.8" stroke="#ffffff" stroke-opacity="0.45" stroke-width="1.3" stroke-linecap="round" fill="none"/><path d="M869 475l3.1 -1.4M1085 584l1.9 4.0M1102 329l1.4 -4.3M606 139l0.0 -1.8M1004 594l2.0 1.9M815 591l1.4 3.4M996 289l1.3 -2.6M857 318l2.3 -1.6M614 109l1.7 0.9M562 303l1.6 -0.7M1074 241l2.8 2.4M783 604l2.7 2.8M859 437l1.5 3.1M1155 328l1.1 -1.4M486 166l3.7 2.5M526 141l1.7 -3.3M1048 491l3.1 -1.8M1041 501l1.8 1.0M989 230l3.0 -1.2M1177 115l1.9 1.7M970 162l2.1 -1.0M631 500l3.9 1.8M829 409l1.7 -2.8M946 430l3.7 2.4M1187 513l1.2 -2.6M633 629l3.3 -2.1" stroke="#a6f8f8" stroke-opacity="0.9" stroke-width="1.6" stroke-linecap="round" fill="none"/><path d="M1119 663l1.3 -1.1M153 643l1.1 3.1M128 74l2.3 -1.9M961 26l1.3 3.3M389 621l3.6 2.6M128 52l2.9 1.6M526 22l1.2 -1.9M98 67l1.5 -0.8M496 731l3.6 -1.7M249 68l3.5 1.8M567 718l1.2 1.8M761 24l2.3 2.2M72 186l2.6 -1.4M247 635l1.2 -1.3M377 636l0.4 -2.3M969 705l0.5 -2.0M726 33l2.6 -1.8M391 701l1.4 1.1M806 658l2.3 -1.1M942 65l0.6 -1.9M1087 46l2.1 -1.8M6 344l2.6 -2.5M96 691l1.4 2.8M583 64l3.1 1.9M637 72l0.8 -1.9M1015 682l2.7 -2.6M533 13l2.2 2.4M368 718l1.3 -1.9M1167 22l1.6 2.2M999 707l1.7 1.1M787 49l2.3 2.2M572 670l1.8 -1.7M412 660l2.3 -1.9M711 27l1.8 -2.0M179 608l1.2 -1.7M1014 714l0.8 1.7M1131 13l1.3 -0.7M274 128l1.0 -2.0" stroke="#ffffff" stroke-opacity="0.95" stroke-width="2.2" stroke-linecap="round" fill="none"/><path d="M901 619l1.4 -0.5M1162 361l1.9 -3.6M1027 539l2.7 -1.2M627 519l1.4 1.4M861 258l1.7 -3.4M1049 423l1.1 -1.3M636 502l1.0 1.2M888 155l1.6 -3.2M898 202l1.0 1.7M828 532l1.3 -1.1M927 637l0.2 -3.2M1145 473l2.8 -1.4M766 379l3.3 2.7M1018 133l1.7 -1.0M1017 274l1.0 -1.2M719 529l2.1 -1.3M492 600l1.3 0.7M923 440l1.8 -1.6M548 543l1.7 1.2M1117 191l2.0 -3.7M920 432l1.0 1.4M891 636l2.5 1.6M560 387l0.6 -2.0M957 510l2.8 0.8M846 412l2.7 2.2M1046 186l2.8 1.3" stroke="#a6f8f8" stroke-opacity="0.9" stroke-width="2.2" stroke-linecap="round" fill="none"/><path d="M325 183l1.4 1.3M220 161l0.5 -0.8M237 511l1.1 -1.0M166 470l0.6 1.0M370 536l0.2 -0.3M339 143l1.5 0.9M279 543l0.2 -0.4M171 339l0.9 0.5M267 169l1.5 -1.3M306 515l0.4 -0.2M435 202l0.2 -1.4M318 160l1.2 0.3M438 163l0.8 0.8M316 531l0.6 1.5M402 573l0.2 -0.0M435 310l0.4 0.5M379 251l0.4 0.8M153 328l0.2 0.2M319 531l0.6 1.4M158 380l0.9 1.7M200 282l0.8 0.4M214 555l1.4 1.3M227 269l1.2 -1.7M220 477l0.2 -0.1M270 288l0.3 -0.4M444 541l0.4 0.2M263 305l0.2 0.1M441 337l1.0 -1.4M340 494l0.4 0.2M287 570l1.3 -0.8M366 365l1.1 0.1M189 262l0.2 0.2M277 146l0.6 0.0M194 195l1.1 1.7M145 454l1.2 -0.6M358 393l1.5 1.0M392 257l1.0 0.6M416 384l0.9 1.6M399 221l0.3 -0.2M416 192l0.1 -2.0M201 226l0.4 -0.2M223 453l1.3 -0.2" stroke="#f6d0f8" stroke-opacity="0.55" stroke-width="0.9" stroke-linecap="round" fill="none"/><path d="M351 624l3.8 2.2M568 79l1.8 -1.8M606 15l3.0 -2.4M202 53l1.2 1.3M2 143l1.2 1.1M86 353l2.2 -3.8M286 618l2.5 -2.2M882 701l2.3 2.7M713 693l0.9 2.4M441 88l1.8 0.1M458 200l1.9 -4.1M759 688l3.6 2.5M459 151l1.6 -3.2M38 399l2.3 3.5M401 649l1.2 2.8M1079 40l2.5 -1.1M451 542l1.2 1.2M1000 679l2.0 0.1M736 655l1.5 0.6M382 682l2.2 -1.3M283 63l2.7 1.8M66 624l1.8 -0.9M853 666l3.4 2.2M510 727l2.3 -3.7M86 180l3.6 2.4M388 692l2.3 1.8M280 626l3.9 2.1M90 223l3.7 -1.8M91 721l3.1 -1.3M87 275l1.4 3.5M1099 670l3.9 1.6M133 72l1.3 1.1M948 686l1.1 -2.3M872 660l2.2 1.4M544 737l2.4 -2.3M953 734l3.8 -1.9M822 6l1.8 -3.2M54 493l2.3 -1.0M1154 26l2.4 -2.9" stroke="#ffffff" stroke-opacity="0.7" stroke-width="2.2" stroke-linecap="round" fill="none"/><path d="M375 418l1.2 -0.8M389 453l1.0 0.7M308 209l1.1 1.3M347 262l1.2 1.5M202 579l0.8 0.6M197 218l1.3 -0.2M204 266l0.7 -1.9M371 570l0.9 -0.1M320 151l1.5 0.2M158 520l0.7 1.5M269 143l0.6 0.2M308 237l1.0 -1.3M289 468l0.7 0.3M316 470l0.4 -0.2M337 494l0.5 -0.4M318 574l1.7 -1.4M196 471l1.0 0.0M129 222l1.3 1.0M364 234l0.5 0.6M272 531l0.5 -0.8M145 267l0.3 -0.4M413 436l0.2 0.9M191 244l1.9 -0.9M430 198l1.8 -0.5M327 255l1.2 -0.5M359 360l0.2 0.1M428 289l0.2 -0.7M310 500l1.0 -1.5M186 148l0.5 -0.4M420 196l0.7 -1.2M384 186l0.5 -0.3M239 179l0.1 -0.9M402 265l0.0 -1.3M229 337l1.5 0.8M222 319l0.4 -0.4M296 516l1.2 1.7M390 466l1.3 -0.9M330 459l0.6 1.6M340 343l1.0 -0.5M136 573l0.1 1.6M202 189l0.4 0.5M334 145l0.2 0.1M401 534l0.5 1.8M346 355l1.7 1.1M157 446l0.9 0.5M286 478l1.0 -1.1M349 364l0.5 0.7" stroke="#f6d0f8" stroke-opacity="0.55" stroke-width="1.3" stroke-linecap="round" fill="none"/><path d="M356 381l1.1 1.7M280 340l1.0 1.1M430 483l0.7 -1.3M176 502l0.6 -1.3M285 178l0.4 -0.8M147 275l0.5 -1.1M366 523l0.0 -0.3M203 481l1.3 0.7M189 167l1.3 -0.9M385 579l1.5 0.7M149 210l1.6 0.2M370 501l1.5 1.1M271 259l1.9 0.8M205 226l0.6 -0.4M261 318l0.4 -0.2M259 302l0.1 -0.2M441 429l0.4 -1.0M310 165l1.4 1.4M413 548l1.4 1.7M161 319l1.8 -1.2M356 331l0.2 -0.1M357 274l1.9 1.0M139 332l1.2 -1.5M437 581l0.6 -1.1M240 377l0.2 -1.4M288 345l1.1 0.6M388 428l0.5 -0.3M231 401l0.4 0.5M253 295l0.4 0.9M310 333l1.8 -1.2M427 258l1.7 1.3M399 425l1.1 -1.9M422 575l1.3 0.1M174 402l1.0 -1.5M344 259l1.4 -1.6M423 375l0.5 1.2M210 540l0.9 1.0M251 142l0.8 0.4M176 372l1.6 0.1M368 417l1.5 1.6M383 574l0.4 0.7M425 246l1.6 -0.7M305 222l0.7 -0.4" stroke="#f6d0f8" stroke-opacity="0.75" stroke-width="1.3" stroke-linecap="round" fill="none"/><path d="M487 175l3.1 1.1M1017 421l2.8 -1.5M608 271l3.7 -2.5M509 461l1.1 1.4M983 606l1.3 1.0M952 256l0.8 1.8M830 311l1.6 -2.0M986 517l2.4 2.6M1005 600l2.6 -1.2M530 504l2.5 2.5M670 616l3.4 0.5M815 241l3.0 2.6M902 508l0.1 -3.4M1159 498l3.3 3.0M533 513l1.9 1.7M1192 456l2.5 1.8M1121 101l1.6 2.9M652 463l4.2 -0.9M556 164l1.6 0.7M538 143l1.5 1.3M988 172l3.4 0.9M921 573l0.7 -1.5M535 338l1.7 0.1" stroke="#a6f8f8" stroke-opacity="0.4" stroke-width="1.6" stroke-linecap="round" fill="none"/><path d="M1010 150l1.9 3.7M880 321l2.2 0.8M1109 98l2.3 3.4M655 260l0.8 -1.6M1004 173l0.8 -1.7M503 428l1.4 -0.7M1084 601l3.4 -1.9M1022 418l4.0 1.2M1177 93l1.2 3.4M529 131l3.2 -0.8M736 644l2.7 1.8M606 304l1.8 -1.9M836 318l1.9 -1.8M804 606l3.2 2.1M860 581l1.4 -2.3M576 119l3.0 1.4M1176 558l1.6 -4.0M808 309l1.8 -2.7M540 348l1.8 -1.8M942 237l3.6 -1.8M619 645l1.8 2.9M591 144l1.6 -2.5M521 288l1.5 -4.0M1164 395l1.6 -0.6M527 99l3.5 -0.7" stroke="#a6f8f8" stroke-opacity="0.4" stroke-width="2.2" stroke-linecap="round" fill="none"/><path d="M132 470l2.5 2.0M301 260l3.2 -1.4M320 345l4.0 -1.4M226 537l3.4 1.3M252 587l1.6 -3.3M385 482l1.1 2.4M204 405l3.6 -1.4M441 441l0.8 -1.9M232 365l2.6 -1.0M219 519l1.5 -2.3" stroke="#f6d0f8" stroke-opacity="0.75" stroke-width="1.6" stroke-linecap="round" fill="none"/><path d="M795 548l2.6 1.9M856 408l2.3 1.5M965 192l0.4 1.8M700 149l3.1 -2.5M602 410l2.4 2.9M1090 148l2.2 0.4M669 638l2.4 -3.7M1099 143l1.5 1.1M484 591l2.5 3.2M1165 118l1.3 -1.2M560 581l2.2 -1.9M898 644l1.5 1.3M844 511l0.6 -2.2M761 351l0.2 1.8M512 141l2.0 0.8M665 225l1.1 -1.7M692 161l2.5 -2.1M741 242l0.1 2.3M1008 101l1.9 1.2M1013 314l1.8 -2.7M484 386l2.5 -1.7M653 208l2.3 1.5M539 315l1.6 0.7M766 333l3.2 -2.1M589 462l2.3 2.6M753 252l2.0 3.9M1154 403l2.0 0.5M992 486l1.4 -2.3M783 635l4.4 -0.6M793 562l2.7 3.2M629 233l0.6 -1.6M536 447l2.4 -1.4M539 314l1.3 -2.5M1117 363l3.2 1.3M989 481l0.4 -1.8M1161 589l2.4 1.0M697 113l1.6 -1.4M651 420l1.9 -1.8M591 455l1.7 0.7M1020 423l0.7 1.6M628 574l1.1 -1.1M1093 484l1.3 -1.5" stroke="#a6f8f8" stroke-opacity="0.65" stroke-width="1.6" stroke-linecap="round" fill="none"/><path d="M230 223l1.4 -0.9M394 140l0.5 0.2M187 545l0.7 1.1M409 401l1.6 -0.7M319 328l0.3 0.2M276 196l0.1 0.2M250 401l1.0 -1.1M280 432l1.2 0.6M395 285l1.1 1.9M229 412l0.6 0.8M172 503l0.8 -0.4M155 217l0.6 -1.1M286 166l0.3 0.9M443 369l0.7 -0.3M217 574l1.2 1.1M395 352l1.2 -1.8M338 269l0.3 0.2M306 527l0.2 -0.1M371 304l0.4 0.3M245 291l1.1 -1.9M346 336l0.9 -0.8M182 369l1.1 -1.5M254 412l0.4 0.3M320 361l0.8 -0.5M383 386l1.8 -0.9M205 517l1.0 0.1M265 254l1.0 1.3M397 363l0.4 0.3M138 491l0.8 1.3M399 287l0.3 0.1M209 329l1.0 1.2M388 218l0.4 0.9M276 344l0.6 -1.0M255 451l0.9 -1.0M261 516l0.9 -0.9M385 547l0.7 1.8M336 261l1.1 0.9M196 147l1.0 -0.5M262 409l0.4 0.4M384 161l0.3 -0.2" stroke="#f6d0f8" stroke-opacity="0.35" stroke-width="0.9" stroke-linecap="round" fill="none"/><path d="M231 526l3.7 -1.1M394 253l3.8 -2.3M377 373l1.0 2.8M272 542l3.4 1.8M263 519l1.3 -3.2M370 592l2.8 1.6M156 222l1.0 2.2M136 481l1.2 1.9M159 317l1.9 1.0M221 333l2.4 -1.4M312 165l3.3 -2.4" stroke="#f6d0f8" stroke-opacity="0.35" stroke-width="1.6" stroke-linecap="round" fill="none"/><path d="M268 403l1.7 -1.2M301 441l2.1 -0.9M151 529l2.1 1.8M375 390l2.9 -3.3M321 334l3.2 2.0M394 449l1.0 -1.3M273 195l2.1 2.1M422 375l2.5 3.6" stroke="#f6d0f8" stroke-opacity="0.75" stroke-width="2.2" stroke-linecap="round" fill="none"/><path d="M315 451l2.1 3.8M426 583l1.0 -1.5M442 196l3.1 -1.5M146 306l1.5 3.1M404 382l2.9 1.2M419 508l0.4 -3.6M367 380l1.1 2.3M207 265l0.7 1.7" stroke="#f6d0f8" stroke-opacity="0.55" stroke-width="1.6" stroke-linecap="round" fill="none"/><path d="M349 399l2.0 1.7M136 582l2.5 2.9" stroke="#f6d0f8" stroke-opacity="0.35" stroke-width="2.2" stroke-linecap="round" fill="none"/></g>
<rect x="176.5" y="193.5" width="214.5" height="168.5" fill="#fff" stroke="#f5204a" stroke-width="1.3"/>
<rect x="197.5" y="213.8" width="167.0" height="123.3" fill="none" stroke="#777" stroke-width="1.1"/>
<line x1="195.0" y1="337.1" x2="197.5" y2="337.1" stroke="#666" stroke-width="0.8"/>
<text x="194.0" y="339.5" text-anchor="end" font-size="6.8" font-weight="bold" fill="#111" font-family="Liberation Sans, sans-serif">0</text>
<line x1="195.0" y1="312.4" x2="197.5" y2="312.4" stroke="#666" stroke-width="0.8"/>
<text x="194.0" y="314.8" text-anchor="end" font-size="6.8" font-weight="bold" fill="#111" font-family="Liberation Sans, sans-serif">20</text>
<line x1="195.0" y1="287.8" x2="197.5" y2="287.8" stroke="#666" stroke-width="0.8"/>
<text x="194.0" y="290.2" text-anchor="end" font-size="6.8" font-weight="bold" fill="#111" font-family="Liberation Sans, sans-serif">40</text>
<line x1="195.0" y1="263.1" x2="197.5" y2="263.1" stroke="#666" stroke-width="0.8"/>
<text x="194.0" y="265.5" text-anchor="end" font-size="6.8" font-weight="bold" fill="#111" font-family="Liberation Sans, sans-serif">60</text>
<line x1="195.0" y1="238.5" x2="197.5" y2="238.5" stroke="#666" stroke-width="0.8"/>
<text x="194.0" y="240.9" text-anchor="end" font-size="6.8" font-weight="bold" fill="#111" font-family="Liberation Sans, sans-serif">80</text>
<line x1="195.0" y1="213.8" x2="197.5" y2="213.8" stroke="#666" stroke-width="0.8"/>
<text x="194.0" y="216.2" text-anchor="end" font-size="6.8" font-weight="bold" fill="#111" font-family="Liberation Sans, sans-serif">100</text>
<line x1="196.0" y1="324.8" x2="197.5" y2="324.8" stroke="#666" stroke-width="0.7"/>
<line x1="196.0" y1="300.1" x2="197.5" y2="300.1" stroke="#666" stroke-width="0.7"/>
<line x1="196.0" y1="275.5" x2="197.5" y2="275.5" stroke="#666" stroke-width="0.7"/>
<line x1="196.0" y1="250.8" x2="197.5" y2="250.8" stroke="#666" stroke-width="0.7"/>
<line x1="196.0" y1="226.1" x2="197.5" y2="226.1" stroke="#666" stroke-width="0.7"/>
<line x1="197.5" y1="337.1" x2="197.5" y2="339.6" stroke="#666" stroke-width="0.8"/>
<text x="197.5" y="346.70000000000005" text-anchor="middle" font-size="6.8" font-weight="bold" fill="#111" font-family="Liberation Sans, sans-serif">300</text>
<line x1="225.3" y1="337.1" x2="225.3" y2="339.6" stroke="#666" stroke-width="0.8"/>
<text x="225.3" y="346.70000000000005" text-anchor="middle" font-size="6.8" font-weight="bold" fill="#111" font-family="Liberation Sans, sans-serif">400</text>
<line x1="253.2" y1="337.1" x2="253.2" y2="339.6" stroke="#666" stroke-width="0.8"/>
<text x="253.2" y="346.70000000000005" text-anchor="middle" font-size="6.8" font-weight="bold" fill="#111" font-family="Liberation Sans, sans-serif">500</text>
<line x1="281.0" y1="337.1" x2="281.0" y2="339.6" stroke="#666" stroke-width="0.8"/>
<text x="281.0" y="346.70000000000005" text-anchor="middle" font-size="6.8" font-weight="bold" fill="#111" font-family="Liberation Sans, sans-serif">600</text>
<line x1="308.8" y1="337.1" x2="308.8" y2="339.6" stroke="#666" stroke-width="0.8"/>
<text x="308.8" y="346.70000000000005" text-anchor="middle" font-size="6.8" font-weight="bold" fill="#111" font-family="Liberation Sans, sans-serif">700</text>
<line x1="336.7" y1="337.1" x2="336.7" y2="339.6" stroke="#666" stroke-width="0.8"/>
<text x="336.7" y="346.70000000000005" text-anchor="middle" font-size="6.8" font-weight="bold" fill="#111" font-family="Liberation Sans, sans-serif">800</text>
<line x1="364.5" y1="337.1" x2="364.5" y2="339.6" stroke="#666" stroke-width="0.8"/>
<text x="364.5" y="346.70000000000005" text-anchor="middle" font-size="6.8" font-weight="bold" fill="#111" font-family="Liberation Sans, sans-serif">900</text>
<line x1="211.4" y1="337.1" x2="211.4" y2="338.6" stroke="#666" stroke-width="0.7"/>
<line x1="239.2" y1="337.1" x2="239.2" y2="338.6" stroke="#666" stroke-width="0.7"/>
<line x1="267.1" y1="337.1" x2="267.1" y2="338.6" stroke="#666" stroke-width="0.7"/>
<line x1="294.9" y1="337.1" x2="294.9" y2="338.6" stroke="#666" stroke-width="0.7"/>
<line x1="322.8" y1="337.1" x2="322.8" y2="338.6" stroke="#666" stroke-width="0.7"/>
<line x1="350.6" y1="337.1" x2="350.6" y2="338.6" stroke="#666" stroke-width="0.7"/>
<clipPath id="rc"><rect x="366" y="205" width="9" height="140"/></clipPath><g clip-path="url(#rc)">
<text x="368.6" y="339.5" font-size="6.8" font-weight="bold" fill="#111" font-family="Liberation Sans, sans-serif">0</text>
<text x="368.6" y="314.8" font-size="6.8" font-weight="bold" fill="#111" font-family="Liberation Sans, sans-serif">5</text>
<text x="368.6" y="290.2" font-size="6.8" font-weight="bold" fill="#111" font-family="Liberation Sans, sans-serif">10</text>
<text x="368.6" y="265.5" font-size="6.8" font-weight="bold" fill="#111" font-family="Liberation Sans, sans-serif">15</text>
<text x="368.6" y="240.9" font-size="6.8" font-weight="bold" fill="#111" font-family="Liberation Sans, sans-serif">20</text>
</g>
<text x="368.6" y="216.2" font-size="6.8" font-weight="bold" fill="#111" font-family="Liberation Sans, sans-serif">25</text>
<line x1="364.5" y1="337.1" x2="367.0" y2="337.1" stroke="#666" stroke-width="0.8"/>
<line x1="364.5" y1="312.4" x2="367.0" y2="312.4" stroke="#666" stroke-width="0.8"/>
<line x1="364.5" y1="287.8" x2="367.0" y2="287.8" stroke="#666" stroke-width="0.8"/>
<line x1="364.5" y1="263.1" x2="367.0" y2="263.1" stroke="#666" stroke-width="0.8"/>
<line x1="364.5" y1="238.5" x2="367.0" y2="238.5" stroke="#666" stroke-width="0.8"/>
<line x1="364.5" y1="213.8" x2="367.0" y2="213.8" stroke="#666" stroke-width="0.8"/>
<line x1="364.5" y1="324.8" x2="366.0" y2="324.8" stroke="#666" stroke-width="0.7"/>
<line x1="364.5" y1="300.1" x2="366.0" y2="300.1" stroke="#666" stroke-width="0.7"/>
<line x1="364.5" y1="275.5" x2="366.0" y2="275.5" stroke="#666" stroke-width="0.7"/>
<line x1="364.5" y1="250.8" x2="366.0" y2="250.8" stroke="#666" stroke-width="0.7"/>
<line x1="364.5" y1="226.1" x2="366.0" y2="226.1" stroke="#666" stroke-width="0.7"/>
<path d="M205.8 337.1 L208.6 336.9 L211.4 336.6 L214.2 336.0 L217.0 335.5 L219.8 334.4 L222.6 333.4 L225.3 332.4 L228.1 331.0 L230.9 329.6 L233.7 328.2 L236.5 326.3 L239.2 324.4 L242.0 322.1 L244.8 319.7 L247.6 317.4 L250.4 315.0 L253.2 312.7 L255.9 310.1 L258.7 307.4 L261.5 304.8 L264.3 302.2 L267.1 299.6 L269.9 296.7 L272.6 293.9 L275.4 291.1 L278.2 288.3 L281.0 285.5 L283.8 282.7 L286.6 279.8 L289.4 277.0 L292.1 274.2 L294.9 271.4 L297.7 268.6 L300.5 265.8 L303.3 262.9 L306.1 260.1 L308.8 257.3 L311.6 254.5 L314.4 251.7 L317.2 248.9 L320.0 246.0 L322.8 243.2 L325.5 240.1 L328.3 237.0 L331.1 233.8 L333.9 231.0 L336.7 228.2 L339.4 225.7 L342.2 223.8 L345.0 222.3 L347.8 221.8 L350.6 221.2 L353.4 221.1 L356.1 221.0 L358.9 220.9 L361.7 220.8 L364.5 220.7" fill="none" stroke="#111" stroke-width="1.25" stroke-dasharray="6.5 1.6"/>
<path d="M205.8 337.1 L208.6 336.9 L211.4 336.6 L214.2 336.0 L217.0 335.4 L219.8 334.4 L222.6 333.3 L225.3 332.3 L228.1 330.9 L230.9 329.4 L233.7 328.0 L236.5 326.1 L239.2 324.1 L242.0 321.7 L244.8 319.3 L247.6 316.9 L250.4 314.5 L253.2 312.1 L255.9 309.4 L258.7 306.7 L261.5 304.1 L264.3 301.4 L267.1 298.7 L269.9 295.8 L272.6 292.9 L275.4 290.0 L278.2 287.2 L281.0 284.3 L283.8 281.4 L286.6 278.5 L289.4 275.6 L292.1 272.7 L294.9 269.9 L297.7 267.0 L300.5 264.1 L303.3 261.2 L306.1 258.3 L308.8 255.5 L311.6 252.6 L314.4 249.7 L317.2 246.8 L320.0 243.9 L322.8 241.0 L325.5 237.8 L328.3 234.6 L331.1 231.4 L333.9 228.6 L336.7 225.7 L339.4 223.1 L342.2 221.1 L345.0 219.7 L347.8 219.1 L350.6 218.5 L353.4 218.4 L356.1 218.3 L358.9 218.2 L361.7 218.1 L364.5 218.0" fill="none" stroke="#1a2cf0" stroke-width="1.25" stroke-dasharray="6.5 1.6"/>
<path d="M205.8 337.1 L208.6 336.9 L211.4 336.6 L214.2 336.0 L217.0 335.4 L219.8 334.3 L222.6 333.2 L225.3 332.2 L228.1 330.7 L230.9 329.2 L233.7 327.7 L236.5 325.8 L239.2 323.8 L242.0 321.3 L244.8 318.9 L247.6 316.4 L250.4 313.9 L253.2 311.5 L255.9 308.7 L258.7 305.9 L261.5 303.2 L264.3 300.4 L267.1 297.6 L269.9 294.7 L272.6 291.7 L275.4 288.8 L278.2 285.8 L281.0 282.8 L283.8 279.9 L286.6 276.9 L289.4 274.0 L292.1 271.0 L294.9 268.1 L297.7 265.1 L300.5 262.1 L303.3 259.2 L306.1 256.2 L308.8 253.3 L311.6 250.3 L314.4 247.3 L317.2 244.4 L320.0 241.4 L322.8 238.5 L325.5 235.2 L328.3 231.9 L331.1 228.6 L333.9 225.6 L336.7 222.7 L339.4 220.0 L342.2 218.0 L345.0 216.5 L347.8 215.9 L350.6 215.3 L353.4 215.2 L356.1 215.1 L358.9 215.0 L361.7 214.9 L364.5 214.8" fill="none" stroke="#f01818" stroke-width="1.25" stroke-dasharray="6.5 1.6"/>
<path d="M204.7 337.1 L205.8 329.7 L208.6 290.2 L211.4 270.5 L214.2 263.1 L217.0 263.1 L219.8 258.2 L222.6 248.3 L225.3 240.3 L228.1 236.6 L230.9 236.0 L233.7 236.6 L236.5 235.4 L239.2 234.1 L242.0 232.9 L244.8 231.7 L247.6 230.4 L250.4 229.6 L253.2 229.2 L255.9 229.2 L258.7 229.1 L261.5 229.2 L264.3 229.2 L267.1 229.4 L269.9 229.6 L272.6 229.6 L275.4 229.6 L278.2 229.4 L281.0 229.2 L283.8 229.5 L286.6 229.8 L289.4 230.4 L292.1 231.1 L294.9 231.6 L297.7 232.0 L300.5 232.5 L303.3 232.9 L306.1 233.2 L308.8 233.5 L311.6 233.8 L314.4 234.1 L317.2 234.6 L320.0 235.0 L322.8 235.5 L325.5 236.0 L328.3 236.9 L331.1 238.5 L333.9 242.2 L336.7 247.1 L339.4 266.8 L342.2 291.5 L345.0 302.6 L347.8 318.0 L350.6 326.6 L353.4 331.6 L356.1 334.9 L358.9 336.5 L361.7 337.0 L364.5 337.1" fill="none" stroke="#111" stroke-width="1.1" stroke-linejoin="round"/>
<circle cx="205.8" cy="329.7" r="1.5" fill="#111"/><circle cx="205.5" cy="329.4" r="0.5" fill="#fff" opacity="0.5"/>
<circle cx="208.6" cy="290.2" r="1.5" fill="#111"/><circle cx="208.3" cy="289.9" r="0.5" fill="#fff" opacity="0.5"/>
<circle cx="211.4" cy="270.5" r="1.5" fill="#111"/><circle cx="211.1" cy="270.2" r="0.5" fill="#fff" opacity="0.5"/>
<circle cx="214.2" cy="263.1" r="1.5" fill="#111"/><circle cx="213.9" cy="262.8" r="0.5" fill="#fff" opacity="0.5"/>
<circle cx="217.0" cy="263.1" r="1.5" fill="#111"/><circle cx="216.7" cy="262.8" r="0.5" fill="#fff" opacity="0.5"/>
<circle cx="219.8" cy="258.2" r="1.5" fill="#111"/><circle cx="219.5" cy="257.9" r="0.5" fill="#fff" opacity="0.5"/>
<circle cx="222.6" cy="248.3" r="1.5" fill="#111"/><circle cx="222.2" cy="248.0" r="0.5" fill="#fff" opacity="0.5"/>
<circle cx="225.3" cy="240.3" r="1.5" fill="#111"/><circle cx="225.0" cy="240.0" r="0.5" fill="#fff" opacity="0.5"/>
<circle cx="228.1" cy="236.6" r="1.5" fill="#111"/><circle cx="227.8" cy="236.3" r="0.5" fill="#fff" opacity="0.5"/>
<circle cx="230.9" cy="236.0" r="1.5" fill="#111"/><circle cx="230.6" cy="235.7" r="0.5" fill="#fff" opacity="0.5"/>
<circle cx="233.7" cy="236.6" r="1.5" fill="#111"/><circle cx="233.4" cy="236.3" r="0.5" fill="#fff" opacity="0.5"/>
<circle cx="236.5" cy="235.4" r="1.5" fill="#111"/><circle cx="236.2" cy="235.1" r="0.5" fill="#fff" opacity="0.5"/>
<circle cx="239.2" cy="234.1" r="1.5" fill="#111"/><circle cx="238.9" cy="233.8" r="0.5" fill="#fff" opacity="0.5"/>
<circle cx="242.0" cy="232.9" r="1.5" fill="#111"/><circle cx="241.7" cy="232.6" r="0.5" fill="#fff" opacity="0.5"/>
<circle cx="244.8" cy="231.7" r="1.5" fill="#111"/><circle cx="244.5" cy="231.4" r="0.5" fill="#fff" opacity="0.5"/>
<circle cx="247.6" cy="230.4" r="1.5" fill="#111"/><circle cx="247.3" cy="230.1" r="0.5" fill="#fff" opacity="0.5"/>
<circle cx="250.4" cy="229.6" r="1.5" fill="#111"/><circle cx="250.1" cy="229.3" r="0.5" fill="#fff" opacity="0.5"/>
<circle cx="253.2" cy="229.2" r="1.5" fill="#111"/><circle cx="252.9" cy="228.9" r="0.5" fill="#fff" opacity="0.5"/>
<circle cx="255.9" cy="229.2" r="1.5" fill="#111"/><circle cx="255.6" cy="228.9" r="0.5" fill="#fff" opacity="0.5"/>
<circle cx="258.7" cy="229.1" r="1.5" fill="#111"/><circle cx="258.4" cy="228.8" r="0.5" fill="#fff" opacity="0.5"/>
<circle cx="261.5" cy="229.2" r="1.5" fill="#111"/><circle cx="261.2" cy="228.9" r="0.5" fill="#fff" opacity="0.5"/>
<circle cx="264.3" cy="229.2" r="1.5" fill="#111"/><circle cx="264.0" cy="228.9" r="0.5" fill="#fff" opacity="0.5"/>
<circle cx="267.1" cy="229.4" r="1.5" fill="#111"/><circle cx="266.8" cy="229.1" r="0.5" fill="#fff" opacity="0.5"/>
<circle cx="269.9" cy="229.6" r="1.5" fill="#111"/><circle cx="269.6" cy="229.3" r="0.5" fill="#fff" opacity="0.5"/>
<circle cx="272.6" cy="229.6" r="1.5" fill="#111"/><circle cx="272.3" cy="229.3" r="0.5" fill="#fff" opacity="0.5"/>
<circle cx="275.4" cy="229.6" r="1.5" fill="#111"/><circle cx="275.1" cy="229.3" r="0.5" fill="#fff" opacity="0.5"/>
<circle cx="278.2" cy="229.4" r="1.5" fill="#111"/><circle cx="277.9" cy="229.1" r="0.5" fill="#fff" opacity="0.5"/>
<circle cx="281.0" cy="229.2" r="1.5" fill="#111"/><circle cx="280.7" cy="228.9" r="0.5" fill="#fff" opacity="0.5"/>
<circle cx="283.8" cy="229.5" r="1.5" fill="#111"/><circle cx="283.5" cy="229.2" r="0.5" fill="#fff" opacity="0.5"/>
<circle cx="286.6" cy="229.8" r="1.5" fill="#111"/><circle cx="286.3" cy="229.5" r="0.5" fill="#fff" opacity="0.5"/>
<circle cx="289.4" cy="230.4" r="1.5" fill="#111"/><circle cx="289.1" cy="230.1" r="0.5" fill="#fff" opacity="0.5"/>
<circle cx="292.1" cy="231.1" r="1.5" fill="#111"/><circle cx="291.8" cy="230.8" r="0.5" fill="#fff" opacity="0.5"/>
<circle cx="294.9" cy="231.6" r="1.5" fill="#111"/><circle cx="294.6" cy="231.3" r="0.5" fill="#fff" opacity="0.5"/>
<circle cx="297.7" cy="232.0" r="1.5" fill="#111"/><circle cx="297.4" cy="231.7" r="0.5" fill="#fff" opacity="0.5"/>
<circle cx="300.5" cy="232.5" r="1.5" fill="#111"/><circle cx="300.2" cy="232.2" r="0.5" fill="#fff" opacity="0.5"/>
<circle cx="303.3" cy="232.9" r="1.5" fill="#111"/><circle cx="303.0" cy="232.6" r="0.5" fill="#fff" opacity="0.5"/>
<circle cx="306.1" cy="233.2" r="1.5" fill="#111"/><circle cx="305.8" cy="232.9" r="0.5" fill="#fff" opacity="0.5"/>
<circle cx="308.8" cy="233.5" r="1.5" fill="#111"/><circle cx="308.5" cy="233.2" r="0.5" fill="#fff" opacity="0.5"/>
<circle cx="311.6" cy="233.8" r="1.5" fill="#111"/><circle cx="311.3" cy="233.5" r="0.5" fill="#fff" opacity="0.5"/>
<circle cx="314.4" cy="234.1" r="1.5" fill="#111"/><circle cx="314.1" cy="233.8" r="0.5" fill="#fff" opacity="0.5"/>
<circle cx="317.2" cy="234.6" r="1.5" fill="#111"/><circle cx="316.9" cy="234.3" r="0.5" fill="#fff" opacity="0.5"/>
<circle cx="320.0" cy="235.0" r="1.5" fill="#111"/><circle cx="319.7" cy="234.7" r="0.5" fill="#fff" opacity="0.5"/>
<circle cx="322.8" cy="235.5" r="1.5" fill="#111"/><circle cx="322.4" cy="235.2" r="0.5" fill="#fff" opacity="0.5"/>
<circle cx="325.5" cy="236.0" r="1.5" fill="#111"/><circle cx="325.2" cy="235.7" r="0.5" fill="#fff" opacity="0.5"/>
<circle cx="328.3" cy="236.9" r="1.5" fill="#111"/><circle cx="328.0" cy="236.6" r="0.5" fill="#fff" opacity="0.5"/>
<circle cx="331.1" cy="238.5" r="1.5" fill="#111"/><circle cx="330.8" cy="238.2" r="0.5" fill="#fff" opacity="0.5"/>
<circle cx="333.9" cy="242.2" r="1.5" fill="#111"/><circle cx="333.6" cy="241.9" r="0.5" fill="#fff" opacity="0.5"/>
<circle cx="336.7" cy="247.1" r="1.5" fill="#111"/><circle cx="336.4" cy="246.8" r="0.5" fill="#fff" opacity="0.5"/>
<circle cx="339.4" cy="266.8" r="1.5" fill="#111"/><circle cx="339.1" cy="266.5" r="0.5" fill="#fff" opacity="0.5"/>
<circle cx="342.2" cy="291.5" r="1.5" fill="#111"/><circle cx="341.9" cy="291.2" r="0.5" fill="#fff" opacity="0.5"/>
<circle cx="345.0" cy="302.6" r="1.5" fill="#111"/><circle cx="344.7" cy="302.3" r="0.5" fill="#fff" opacity="0.5"/>
<circle cx="347.8" cy="318.0" r="1.5" fill="#111"/><circle cx="347.5" cy="317.7" r="0.5" fill="#fff" opacity="0.5"/>
<circle cx="350.6" cy="326.6" r="1.5" fill="#111"/><circle cx="350.3" cy="326.3" r="0.5" fill="#fff" opacity="0.5"/>
<circle cx="353.4" cy="331.6" r="1.5" fill="#111"/><circle cx="353.1" cy="331.3" r="0.5" fill="#fff" opacity="0.5"/>
<circle cx="356.1" cy="334.9" r="1.5" fill="#111"/><circle cx="355.8" cy="334.6" r="0.5" fill="#fff" opacity="0.5"/>
<circle cx="358.9" cy="336.5" r="1.5" fill="#111"/><circle cx="358.6" cy="336.2" r="0.5" fill="#fff" opacity="0.5"/>
<path d="M197.5 337.1 L200.3 324.8 L203.1 313.7 L205.8 300.1 L208.6 277.9 L211.4 264.4 L214.2 259.4 L217.0 263.1 L219.8 257.6 L222.6 247.1 L225.3 240.9 L228.1 238.5 L230.9 237.2 L233.7 238.5 L236.5 236.6 L239.2 236.0 L242.0 233.5 L244.8 231.1 L247.6 229.2 L250.4 228.0 L253.2 227.4 L255.9 227.4 L258.7 227.4 L261.5 227.4 L264.3 227.4 L267.1 227.5 L269.9 227.6 L272.6 227.8 L275.4 228.0 L278.2 228.0 L281.0 228.0 L283.8 227.8 L286.6 227.6 L289.4 227.6 L292.1 227.6 L294.9 228.1 L297.7 228.6 L300.5 229.2 L303.3 229.8 L306.1 230.1 L308.8 230.4 L311.6 231.1 L314.4 231.7 L317.2 232.3 L320.0 232.9 L322.8 233.3 L325.5 233.8 L328.3 234.1 L331.1 234.8 L333.9 237.2 L336.7 245.9 L339.4 266.8 L342.2 291.5 L345.0 302.6 L347.8 318.0 L350.6 326.6 L353.4 331.6 L356.1 334.9 L358.9 336.5 L361.7 337.0 L364.5 337.1" fill="none" stroke="#1a2cf0" stroke-width="1.1" stroke-linejoin="round"/>
<circle cx="200.3" cy="324.8" r="1.5" fill="#1a2cf0"/><circle cx="200.0" cy="324.5" r="0.5" fill="#fff" opacity="0.5"/>
<circle cx="203.1" cy="313.7" r="1.5" fill="#1a2cf0"/><circle cx="202.8" cy="313.4" r="0.5" fill="#fff" opacity="0.5"/>
<circle cx="205.8" cy="300.1" r="1.5" fill="#1a2cf0"/><circle cx="205.5" cy="299.8" r="0.5" fill="#fff" opacity="0.5"/>
<circle cx="208.6" cy="277.9" r="1.5" fill="#1a2cf0"/><circle cx="208.3" cy="277.6" r="0.5" fill="#fff" opacity="0.5"/>
<circle cx="211.4" cy="264.4" r="1.5" fill="#1a2cf0"/><circle cx="211.1" cy="264.1" r="0.5" fill="#fff" opacity="0.5"/>
<circle cx="214.2" cy="259.4" r="1.5" fill="#1a2cf0"/><circle cx="213.9" cy="259.1" r="0.5" fill="#fff" opacity="0.5"/>
<circle cx="217.0" cy="263.1" r="1.5" fill="#1a2cf0"/><circle cx="216.7" cy="262.8" r="0.5" fill="#fff" opacity="0.5"/>
<circle cx="219.8" cy="257.6" r="1.5" fill="#1a2cf0"/><circle cx="219.5" cy="257.3" r="0.5" fill="#fff" opacity="0.5"/>
<circle cx="222.6" cy="247.1" r="1.5" fill="#1a2cf0"/><circle cx="222.2" cy="246.8" r="0.5" fill="#fff" opacity="0.5"/>
<circle cx="225.3" cy="240.9" r="1.5" fill="#1a2cf0"/><circle cx="225.0" cy="240.6" r="0.5" fill="#fff" opacity="0.5"/>
<circle cx="228.1" cy="238.5" r="1.5" fill="#1a2cf0"/><circle cx="227.8" cy="238.2" r="0.5" fill="#fff" opacity="0.5"/>
<circle cx="230.9" cy="237.2" r="1.5" fill="#1a2cf0"/><circle cx="230.6" cy="236.9" r="0.5" fill="#fff" opacity="0.5"/>
<circle cx="233.7" cy="238.5" r="1.5" fill="#1a2cf0"/><circle cx="233.4" cy="238.2" r="0.5" fill="#fff" opacity="0.5"/>
<circle cx="236.5" cy="236.6" r="1.5" fill="#1a2cf0"/><circle cx="236.2" cy="236.3" r="0.5" fill="#fff" opacity="0.5"/>
<circle cx="239.2" cy="236.0" r="1.5" fill="#1a2cf0"/><circle cx="238.9" cy="235.7" r="0.5" fill="#fff" opacity="0.5"/>
<circle cx="242.0" cy="233.5" r="1.5" fill="#1a2cf0"/><circle cx="241.7" cy="233.2" r="0.5" fill="#fff" opacity="0.5"/>
<circle cx="244.8" cy="231.1" r="1.5" fill="#1a2cf0"/><circle cx="244.5" cy="230.8" r="0.5" fill="#fff" opacity="0.5"/>
<circle cx="247.6" cy="229.2" r="1.5" fill="#1a2cf0"/><circle cx="247.3" cy="228.9" r="0.5" fill="#fff" opacity="0.5"/>
<circle cx="250.4" cy="228.0" r="1.5" fill="#1a2cf0"/><circle cx="250.1" cy="227.7" r="0.5" fill="#fff" opacity="0.5"/>
<circle cx="253.2" cy="227.4" r="1.5" fill="#1a2cf0"/><circle cx="252.9" cy="227.1" r="0.5" fill="#fff" opacity="0.5"/>
<circle cx="255.9" cy="227.4" r="1.5" fill="#1a2cf0"/><circle cx="255.6" cy="227.1" r="0.5" fill="#fff" opacity="0.5"/>
<circle cx="258.7" cy="227.4" r="1.5" fill="#1a2cf0"/><circle cx="258.4" cy="227.1" r="0.5" fill="#fff" opacity="0.5"/>
<circle cx="261.5" cy="227.4" r="1.5" fill="#1a2cf0"/><circle cx="261.2" cy="227.1" r="0.5" fill="#fff" opacity="0.5"/>
<circle cx="264.3" cy="227.4" r="1.5" fill="#1a2cf0"/><circle cx="264.0" cy="227.1" r="0.5" fill="#fff" opacity="0.5"/>
<circle cx="267.1" cy="227.5" r="1.5" fill="#1a2cf0"/><circle cx="266.8" cy="227.2" r="0.5" fill="#fff" opacity="0.5"/>
<circle cx="269.9" cy="227.6" r="1.5" fill="#1a2cf0"/><circle cx="269.6" cy="227.3" r="0.5" fill="#fff" opacity="0.5"/>
<circle cx="272.6" cy="227.8" r="1.5" fill="#1a2cf0"/><circle cx="272.3" cy="227.5" r="0.5" fill="#fff" opacity="0.5"/>
<circle cx="275.4" cy="228.0" r="1.5" fill="#1a2cf0"/><circle cx="275.1" cy="227.7" r="0.5" fill="#fff" opacity="0.5"/>
<circle cx="278.2" cy="228.0" r="1.5" fill="#1a2cf0"/><circle cx="277.9" cy="227.7" r="0.5" fill="#fff" opacity="0.5"/>
<circle cx="281.0" cy="228.0" r="1.5" fill="#1a2cf0"/><circle cx="280.7" cy="227.7" r="0.5" fill="#fff" opacity="0.5"/>
<circle cx="283.8" cy="227.8" r="1.5" fill="#1a2cf0"/><circle cx="283.5" cy="227.5" r="0.5" fill="#fff" opacity="0.5"/>
<circle cx="286.6" cy="227.6" r="1.5" fill="#1a2cf0"/><circle cx="286.3" cy="227.3" r="0.5" fill="#fff" opacity="0.5"/>
<circle cx="289.4" cy="227.6" r="1.5" fill="#1a2cf0"/><circle cx="289.1" cy="227.3" r="0.5" fill="#fff" opacity="0.5"/>
<circle cx="292.1" cy="227.6" r="1.5" fill="#1a2cf0"/><circle cx="291.8" cy="227.3" r="0.5" fill="#fff" opacity="0.5"/>
<circle cx="294.9" cy="228.1" r="1.5" fill="#1a2cf0"/><circle cx="294.6" cy="227.8" r="0.5" fill="#fff" opacity="0.5"/>
<circle cx="297.7" cy="228.6" r="1.5" fill="#1a2cf0"/><circle cx="297.4" cy="228.3" r="0.5" fill="#fff" opacity="0.5"/>
<circle cx="300.5" cy="229.2" r="1.5" fill="#1a2cf0"/><circle cx="300.2" cy="228.9" r="0.5" fill="#fff" opacity="0.5"/>
<circle cx="303.3" cy="229.8" r="1.5" fill="#1a2cf0"/><circle cx="303.0" cy="229.5" r="0.5" fill="#fff" opacity="0.5"/>
<circle cx="306.1" cy="230.1" r="1.5" fill="#1a2cf0"/><circle cx="305.8" cy="229.8" r="0.5" fill="#fff" opacity="0.5"/>
<circle cx="308.8" cy="230.4" r="1.5" fill="#1a2cf0"/><circle cx="308.5" cy="230.1" r="0.5" fill="#fff" opacity="0.5"/>
<circle cx="311.6" cy="231.1" r="1.5" fill="#1a2cf0"/><circle cx="311.3" cy="230.8" r="0.5" fill="#fff" opacity="0.5"/>
<circle cx="314.4" cy="231.7" r="1.5" fill="#1a2cf0"/><circle cx="314.1" cy="231.4" r="0.5" fill="#fff" opacity="0.5"/>
<circle cx="317.2" cy="232.3" r="1.5" fill="#1a2cf0"/><circle cx="316.9" cy="232.0" r="0.5" fill="#fff" opacity="0.5"/>
<circle cx="320.0" cy="232.9" r="1.5" fill="#1a2cf0"/><circle cx="319.7" cy="232.6" r="0.5" fill="#fff" opacity="0.5"/>
<circle cx="322.8" cy="233.3" r="1.5" fill="#1a2cf0"/><circle cx="322.4" cy="233.0" r="0.5" fill="#fff" opacity="0.5"/>
<circle cx="325.5" cy="233.8" r="1.5" fill="#1a2cf0"/><circle cx="325.2" cy="233.5" r="0.5" fill="#fff" opacity="0.5"/>
<circle cx="328.3" cy="234.1" r="1.5" fill="#1a2cf0"/><circle cx="328.0" cy="233.8" r="0.5" fill="#fff" opacity="0.5"/>
<circle cx="331.1" cy="234.8" r="1.5" fill="#1a2cf0"/><circle cx="330.8" cy="234.5" r="0.5" fill="#fff" opacity="0.5"/>
<circle cx="333.9" cy="237.2" r="1.5" fill="#1a2cf0"/><circle cx="333.6" cy="236.9" r="0.5" fill="#fff" opacity="0.5"/>
<circle cx="336.7" cy="245.9" r="1.5" fill="#1a2cf0"/><circle cx="336.4" cy="245.6" r="0.5" fill="#fff" opacity="0.5"/>
<circle cx="339.4" cy="266.8" r="1.5" fill="#1a2cf0"/><circle cx="339.1" cy="266.5" r="0.5" fill="#fff" opacity="0.5"/>
<circle cx="342.2" cy="291.5" r="1.5" fill="#1a2cf0"/><circle cx="341.9" cy="291.2" r="0.5" fill="#fff" opacity="0.5"/>
<circle cx="345.0" cy="302.6" r="1.5" fill="#1a2cf0"/><circle cx="344.7" cy="302.3" r="0.5" fill="#fff" opacity="0.5"/>
<circle cx="347.8" cy="318.0" r="1.5" fill="#1a2cf0"/><circle cx="347.5" cy="317.7" r="0.5" fill="#fff" opacity="0.5"/>
<circle cx="350.6" cy="326.6" r="1.5" fill="#1a2cf0"/><circle cx="350.3" cy="326.3" r="0.5" fill="#fff" opacity="0.5"/>
<circle cx="353.4" cy="331.6" r="1.5" fill="#1a2cf0"/><circle cx="353.1" cy="331.3" r="0.5" fill="#fff" opacity="0.5"/>
<circle cx="356.1" cy="334.9" r="1.5" fill="#1a2cf0"/><circle cx="355.8" cy="334.6" r="0.5" fill="#fff" opacity="0.5"/>
<circle cx="358.9" cy="336.5" r="1.5" fill="#1a2cf0"/><circle cx="358.6" cy="336.2" r="0.5" fill="#fff" opacity="0.5"/>
<path d="M197.5 337.1 L200.3 332.2 L203.1 322.3 L205.8 312.4 L208.6 290.2 L211.4 273.0 L214.2 263.7 L217.0 263.7 L219.8 258.2 L222.6 249.6 L225.3 241.5 L228.1 237.2 L230.9 234.8 L233.7 234.8 L236.5 232.9 L239.2 230.4 L242.0 228.6 L244.8 226.7 L247.6 225.5 L250.4 224.9 L253.2 224.5 L255.9 224.2 L258.7 223.9 L261.5 224.2 L264.3 224.3 L267.1 224.4 L269.9 224.4 L272.6 224.4 L275.4 224.2 L278.2 223.7 L281.0 222.9 L283.8 222.4 L286.6 222.9 L289.4 223.7 L292.1 224.3 L294.9 224.9 L297.7 225.5 L300.5 226.1 L303.3 226.6 L306.1 226.4 L308.8 226.1 L311.6 226.6 L314.4 227.4 L317.2 227.9 L320.0 228.6 L322.8 229.5 L325.5 230.4 L328.3 231.9 L331.1 233.8 L333.9 237.2 L336.7 247.1 L339.4 266.8 L342.2 291.5 L345.0 302.6 L347.8 318.0 L350.6 326.6 L353.4 331.6 L356.1 334.9 L358.9 336.5 L361.7 337.0 L364.5 337.1" fill="none" stroke="#f01818" stroke-width="1.1" stroke-linejoin="round"/>
<circle cx="200.3" cy="332.2" r="1.5" fill="#f01818"/><circle cx="200.0" cy="331.9" r="0.5" fill="#fff" opacity="0.5"/>
<circle cx="203.1" cy="322.3" r="1.5" fill="#f01818"/><circle cx="202.8" cy="322.0" r="0.5" fill="#fff" opacity="0.5"/>
<circle cx="205.8" cy="312.4" r="1.5" fill="#f01818"/><circle cx="205.5" cy="312.1" r="0.5" fill="#fff" opacity="0.5"/>
<circle cx="208.6" cy="290.2" r="1.5" fill="#f01818"/><circle cx="208.3" cy="289.9" r="0.5" fill="#fff" opacity="0.5"/>
<circle cx="211.4" cy="273.0" r="1.5" fill="#f01818"/><circle cx="211.1" cy="272.7" r="0.5" fill="#fff" opacity="0.5"/>
<circle cx="214.2" cy="263.7" r="1.5" fill="#f01818"/><circle cx="213.9" cy="263.4" r="0.5" fill="#fff" opacity="0.5"/>
<circle cx="217.0" cy="263.7" r="1.5" fill="#f01818"/><circle cx="216.7" cy="263.4" r="0.5" fill="#fff" opacity="0.5"/>
<circle cx="219.8" cy="258.2" r="1.5" fill="#f01818"/><circle cx="219.5" cy="257.9" r="0.5" fill="#fff" opacity="0.5"/>
<circle cx="222.6" cy="249.6" r="1.5" fill="#f01818"/><circle cx="222.2" cy="249.3" r="0.5" fill="#fff" opacity="0.5"/>
<circle cx="225.3" cy="241.5" r="1.5" fill="#f01818"/><circle cx="225.0" cy="241.2" r="0.5" fill="#fff" opacity="0.5"/>
<circle cx="228.1" cy="237.2" r="1.5" fill="#f01818"/><circle cx="227.8" cy="236.9" r="0.5" fill="#fff" opacity="0.5"/>
<circle cx="230.9" cy="234.8" r="1.5" fill="#f01818"/><circle cx="230.6" cy="234.5" r="0.5" fill="#fff" opacity="0.5"/>
<circle cx="233.7" cy="234.8" r="1.5" fill="#f01818"/><circle cx="233.4" cy="234.5" r="0.5" fill="#fff" opacity="0.5"/>
<circle cx="236.5" cy="232.9" r="1.5" fill="#f01818"/><circle cx="236.2" cy="232.6" r="0.5" fill="#fff" opacity="0.5"/>
<circle cx="239.2" cy="230.4" r="1.5" fill="#f01818"/><circle cx="238.9" cy="230.1" r="0.5" fill="#fff" opacity="0.5"/>
<circle cx="242.0" cy="228.6" r="1.5" fill="#f01818"/><circle cx="241.7" cy="228.3" r="0.5" fill="#fff" opacity="0.5"/>
<circle cx="244.8" cy="226.7" r="1.5" fill="#f01818"/><circle cx="244.5" cy="226.4" r="0.5" fill="#fff" opacity="0.5"/>
<circle cx="247.6" cy="225.5" r="1.5" fill="#f01818"/><circle cx="247.3" cy="225.2" r="0.5" fill="#fff" opacity="0.5"/>
<circle cx="250.4" cy="224.9" r="1.5" fill="#f01818"/><circle cx="250.1" cy="224.6" r="0.5" fill="#fff" opacity="0.5"/>
<circle cx="253.2" cy="224.5" r="1.5" fill="#f01818"/><circle cx="252.9" cy="224.2" r="0.5" fill="#fff" opacity="0.5"/>
<circle cx="255.9" cy="224.2" r="1.5" fill="#f01818"/><circle cx="255.6" cy="223.9" r="0.5" fill="#fff" opacity="0.5"/>
<circle cx="258.7" cy="223.9" r="1.5" fill="#f01818"/><circle cx="258.4" cy="223.6" r="0.5" fill="#fff" opacity="0.5"/>
<circle cx="261.5" cy="224.2" r="1.5" fill="#f01818"/><circle cx="261.2" cy="223.9" r="0.5" fill="#fff" opacity="0.5"/>
<circle cx="264.3" cy="224.3" r="1.5" fill="#f01818"/><circle cx="264.0" cy="224.0" r="0.5" fill="#fff" opacity="0.5"/>
<circle cx="267.1" cy="224.4" r="1.5" fill="#f01818"/><circle cx="266.8" cy="224.1" r="0.5" fill="#fff" opacity="0.5"/>
<circle cx="269.9" cy="224.4" r="1.5" fill="#f01818"/><circle cx="269.6" cy="224.1" r="0.5" fill="#fff" opacity="0.5"/>
<circle cx="272.6" cy="224.4" r="1.5" fill="#f01818"/><circle cx="272.3" cy="224.1" r="0.5" fill="#fff" opacity="0.5"/>
<circle cx="275.4" cy="224.2" r="1.5" fill="#f01818"/><circle cx="275.1" cy="223.9" r="0.5" fill="#fff" opacity="0.5"/>
<circle cx="278.2" cy="223.7" r="1.5" fill="#f01818"/><circle cx="277.9" cy="223.4" r="0.5" fill="#fff" opacity="0.5"/>
<circle cx="281.0" cy="222.9" r="1.5" fill="#f01818"/><circle cx="280.7" cy="222.6" r="0.5" fill="#fff" opacity="0.5"/>
<circle cx="283.8" cy="222.4" r="1.5" fill="#f01818"/><circle cx="283.5" cy="222.1" r="0.5" fill="#fff" opacity="0.5"/>
<circle cx="286.6" cy="222.9" r="1.5" fill="#f01818"/><circle cx="286.3" cy="222.6" r="0.5" fill="#fff" opacity="0.5"/>
<circle cx="289.4" cy="223.7" r="1.5" fill="#f01818"/><circle cx="289.1" cy="223.4" r="0.5" fill="#fff" opacity="0.5"/>
<circle cx="292.1" cy="224.3" r="1.5" fill="#f01818"/><circle cx="291.8" cy="224.0" r="0.5" fill="#fff" opacity="0.5"/>
<circle cx="294.9" cy="224.9" r="1.5" fill="#f01818"/><circle cx="294.6" cy="224.6" r="0.5" fill="#fff" opacity="0.5"/>
<circle cx="297.7" cy="225.5" r="1.5" fill="#f01818"/><circle cx="297.4" cy="225.2" r="0.5" fill="#fff" opacity="0.5"/>
<circle cx="300.5" cy="226.1" r="1.5" fill="#f01818"/><circle cx="300.2" cy="225.8" r="0.5" fill="#fff" opacity="0.5"/>
<circle cx="303.3" cy="226.6" r="1.5" fill="#f01818"/><circle cx="303.0" cy="226.3" r="0.5" fill="#fff" opacity="0.5"/>
<circle cx="306.1" cy="226.4" r="1.5" fill="#f01818"/><circle cx="305.8" cy="226.1" r="0.5" fill="#fff" opacity="0.5"/>
<circle cx="308.8" cy="226.1" r="1.5" fill="#f01818"/><circle cx="308.5" cy="225.8" r="0.5" fill="#fff" opacity="0.5"/>
<circle cx="311.6" cy="226.6" r="1.5" fill="#f01818"/><circle cx="311.3" cy="226.3" r="0.5" fill="#fff" opacity="0.5"/>
<circle cx="314.4" cy="227.4" r="1.5" fill="#f01818"/><circle cx="314.1" cy="227.1" r="0.5" fill="#fff" opacity="0.5"/>
<circle cx="317.2" cy="227.9" r="1.5" fill="#f01818"/><circle cx="316.9" cy="227.6" r="0.5" fill="#fff" opacity="0.5"/>
<circle cx="320.0" cy="228.6" r="1.5" fill="#f01818"/><circle cx="319.7" cy="228.3" r="0.5" fill="#fff" opacity="0.5"/>
<circle cx="322.8" cy="229.5" r="1.5" fill="#f01818"/><circle cx="322.4" cy="229.2" r="0.5" fill="#fff" opacity="0.5"/>
<circle cx="325.5" cy="230.4" r="1.5" fill="#f01818"/><circle cx="325.2" cy="230.1" r="0.5" fill="#fff" opacity="0.5"/>
<circle cx="328.3" cy="231.9" r="1.5" fill="#f01818"/><circle cx="328.0" cy="231.6" r="0.5" fill="#fff" opacity="0.5"/>
<circle cx="331.1" cy="233.8" r="1.5" fill="#f01818"/><circle cx="330.8" cy="233.5" r="0.5" fill="#fff" opacity="0.5"/>
<circle cx="333.9" cy="237.2" r="1.5" fill="#f01818"/><circle cx="333.6" cy="236.9" r="0.5" fill="#fff" opacity="0.5"/>
<circle cx="336.7" cy="247.1" r="1.5" fill="#f01818"/><circle cx="336.4" cy="246.8" r="0.5" fill="#fff" opacity="0.5"/>
<circle cx="339.4" cy="266.8" r="1.5" fill="#f01818"/><circle cx="339.1" cy="266.5" r="0.5" fill="#fff" opacity="0.5"/>
<circle cx="342.2" cy="291.5" r="1.5" fill="#f01818"/><circle cx="341.9" cy="291.2" r="0.5" fill="#fff" opacity="0.5"/>
<circle cx="345.0" cy="302.6" r="1.5" fill="#f01818"/><circle cx="344.7" cy="302.3" r="0.5" fill="#fff" opacity="0.5"/>
<circle cx="347.8" cy="318.0" r="1.5" fill="#f01818"/><circle cx="347.5" cy="317.7" r="0.5" fill="#fff" opacity="0.5"/>
<circle cx="350.6" cy="326.6" r="1.5" fill="#f01818"/><circle cx="350.3" cy="326.3" r="0.5" fill="#fff" opacity="0.5"/>
<circle cx="353.4" cy="331.6" r="1.5" fill="#f01818"/><circle cx="353.1" cy="331.3" r="0.5" fill="#fff" opacity="0.5"/>
<circle cx="356.1" cy="334.9" r="1.5" fill="#f01818"/><circle cx="355.8" cy="334.6" r="0.5" fill="#fff" opacity="0.5"/>
<circle cx="358.9" cy="336.5" r="1.5" fill="#f01818"/><circle cx="358.6" cy="336.2" r="0.5" fill="#fff" opacity="0.5"/>
<line x1="306" y1="309.3" x2="321.6" y2="309.3" stroke="#f01818" stroke-width="1.1"/><circle cx="313.8" cy="309.3" r="1.3" fill="#f01818"/>
<text x="323.6" y="311.7" font-size="6.8" font-weight="bold" fill="#f01818" font-family="Liberation Sans, sans-serif">EV+</text>
<line x1="306" y1="317.4" x2="321.6" y2="317.4" stroke="#1a2cf0" stroke-width="1.1"/><circle cx="313.8" cy="317.4" r="1.3" fill="#1a2cf0"/>
<text x="323.6" y="319.79999999999995" font-size="6.8" font-weight="bold" fill="#1a2cf0" font-family="Liberation Sans, sans-serif">EV</text>
<line x1="306" y1="325.6" x2="321.6" y2="325.6" stroke="#111" stroke-width="1.1"/><circle cx="313.8" cy="325.6" r="1.3" fill="#111"/>
<text x="323.6" y="328.0" font-size="6.8" font-weight="bold" fill="#111" font-family="Liberation Sans, sans-serif">SO</text>
<rect x="176.5" y="368.5" width="215" height="168.5" fill="#fff" stroke="#f5204a" stroke-width="1.3"/>
<rect x="199.2" y="387.4" width="166.7" height="123.0" fill="none" stroke="#777" stroke-width="1.1"/>
<line x1="196.7" y1="510.4" x2="199.2" y2="510.4" stroke="#666" stroke-width="0.8"/>
<text x="195.39999999999998" y="512.8" text-anchor="end" font-size="6.8" font-weight="bold" fill="#111" font-family="Liberation Sans, sans-serif">0</text>
<line x1="196.7" y1="488.0" x2="199.2" y2="488.0" stroke="#666" stroke-width="0.8"/>
<text x="195.39999999999998" y="490.4" text-anchor="end" font-size="6.8" font-weight="bold" fill="#111" font-family="Liberation Sans, sans-serif">5</text>
<line x1="196.7" y1="465.6" x2="199.2" y2="465.6" stroke="#666" stroke-width="0.8"/>
<text x="195.39999999999998" y="468.0" text-anchor="end" font-size="6.8" font-weight="bold" fill="#111" font-family="Liberation Sans, sans-serif">10</text>
<line x1="196.7" y1="443.1" x2="199.2" y2="443.1" stroke="#666" stroke-width="0.8"/>
<text x="195.39999999999998" y="445.5" text-anchor="end" font-size="6.8" font-weight="bold" fill="#111" font-family="Liberation Sans, sans-serif">15</text>
<line x1="196.7" y1="420.7" x2="199.2" y2="420.7" stroke="#666" stroke-width="0.8"/>
<text x="195.39999999999998" y="423.1" text-anchor="end" font-size="6.8" font-weight="bold" fill="#111" font-family="Liberation Sans, sans-serif">20</text>
<line x1="196.7" y1="398.3" x2="199.2" y2="398.3" stroke="#666" stroke-width="0.8"/>
<text x="195.39999999999998" y="400.7" text-anchor="end" font-size="6.8" font-weight="bold" fill="#111" font-family="Liberation Sans, sans-serif">25</text>
<line x1="197.7" y1="499.2" x2="199.2" y2="499.2" stroke="#666" stroke-width="0.7"/>
<line x1="197.7" y1="476.8" x2="199.2" y2="476.8" stroke="#666" stroke-width="0.7"/>
<line x1="197.7" y1="454.4" x2="199.2" y2="454.4" stroke="#666" stroke-width="0.7"/>
<line x1="197.7" y1="431.9" x2="199.2" y2="431.9" stroke="#666" stroke-width="0.7"/>
<line x1="197.7" y1="409.5" x2="199.2" y2="409.5" stroke="#666" stroke-width="0.7"/>
<line x1="199.2" y1="510.4" x2="199.2" y2="512.9" stroke="#666" stroke-width="0.8"/>
<text x="199.2" y="520.4" text-anchor="middle" font-size="6.8" font-weight="bold" fill="#111" font-family="Liberation Sans, sans-serif">0.0</text>
<line x1="227.0" y1="510.4" x2="227.0" y2="512.9" stroke="#666" stroke-width="0.8"/>
<text x="227.0" y="520.4" text-anchor="middle" font-size="6.8" font-weight="bold" fill="#111" font-family="Liberation Sans, sans-serif">0.2</text>
<line x1="254.8" y1="510.4" x2="254.8" y2="512.9" stroke="#666" stroke-width="0.8"/>
<text x="254.8" y="520.4" text-anchor="middle" font-size="6.8" font-weight="bold" fill="#111" font-family="Liberation Sans, sans-serif">0.4</text>
<line x1="282.6" y1="510.4" x2="282.6" y2="512.9" stroke="#666" stroke-width="0.8"/>
<text x="282.6" y="520.4" text-anchor="middle" font-size="6.8" font-weight="bold" fill="#111" font-family="Liberation Sans, sans-serif">0.6</text>
<line x1="310.3" y1="510.4" x2="310.3" y2="512.9" stroke="#666" stroke-width="0.8"/>
<text x="310.3" y="520.4" text-anchor="middle" font-size="6.8" font-weight="bold" fill="#111" font-family="Liberation Sans, sans-serif">0.8</text>
<line x1="338.1" y1="510.4" x2="338.1" y2="512.9" stroke="#666" stroke-width="0.8"/>
<text x="338.1" y="520.4" text-anchor="middle" font-size="6.8" font-weight="bold" fill="#111" font-family="Liberation Sans, sans-serif">1.0</text>
<line x1="365.9" y1="510.4" x2="365.9" y2="512.9" stroke="#666" stroke-width="0.8"/>
<text x="365.9" y="520.4" text-anchor="middle" font-size="6.8" font-weight="bold" fill="#111" font-family="Liberation Sans, sans-serif">1.2</text>
<line x1="213.1" y1="510.4" x2="213.1" y2="511.9" stroke="#666" stroke-width="0.7"/>
<line x1="240.9" y1="510.4" x2="240.9" y2="511.9" stroke="#666" stroke-width="0.7"/>
<line x1="268.7" y1="510.4" x2="268.7" y2="511.9" stroke="#666" stroke-width="0.7"/>
<line x1="296.4" y1="510.4" x2="296.4" y2="511.9" stroke="#666" stroke-width="0.7"/>
<line x1="324.2" y1="510.4" x2="324.2" y2="511.9" stroke="#666" stroke-width="0.7"/>
<line x1="352.0" y1="510.4" x2="352.0" y2="511.9" stroke="#666" stroke-width="0.7"/>
<path d="M200 462H333.7M200 472H333.7M200 502.2H333.7" stroke="#3a3a3a" stroke-width="0.75" fill="none"/>
<text x="237.2" y="469.2" text-anchor="middle" font-size="4.8" font-weight="bold" fill="#222" font-family="Liberation Sans, sans-serif">J<tspan font-size="3" dy="0.8">sc</tspan><tspan dy="-0.8"> (mA cm</tspan><tspan font-size="3" dy="-1.4">-2</tspan><tspan dy="1.4">)</tspan></text>
<text x="267.2" y="469.2" text-anchor="middle" font-size="4.8" font-weight="bold" fill="#222" font-family="Liberation Sans, sans-serif">V<tspan font-size="3" dy="0.8">oc</tspan><tspan dy="-0.8"> (V)</tspan></text>
<text x="292.8" y="469.2" text-anchor="middle" font-size="4.8" font-weight="bold" fill="#222" font-family="Liberation Sans, sans-serif">FF (%)</text>
<text x="319.9" y="469.2" text-anchor="middle" font-size="4.8" font-weight="bold" fill="#222" font-family="Liberation Sans, sans-serif">PCE (%)</text>
<text x="206.5" y="479.1" font-size="4.8" font-weight="bold" fill="#222" font-family="Liberation Sans, sans-serif">SO</text>
<text x="237.2" y="479.1" text-anchor="middle" font-size="4.8" font-weight="bold" fill="#222" font-family="Liberation Sans, sans-serif">23.08</text>
<text x="267.2" y="479.1" text-anchor="middle" font-size="4.8" font-weight="bold" fill="#222" font-family="Liberation Sans, sans-serif">1.02</text>
<text x="292.8" y="479.1" text-anchor="middle" font-size="4.8" font-weight="bold" fill="#222" font-family="Liberation Sans, sans-serif">76.85</text>
<text x="319.9" y="479.1" text-anchor="middle" font-size="4.8" font-weight="bold" fill="#222" font-family="Liberation Sans, sans-serif">18.18</text>
<text x="206.5" y="488.90000000000003" font-size="4.8" font-weight="bold" fill="#1a2cf0" font-family="Liberation Sans, sans-serif">EV</text>
<text x="237.2" y="488.90000000000003" text-anchor="middle" font-size="4.8" font-weight="bold" fill="#1a2cf0" font-family="Liberation Sans, sans-serif">24.62</text>
<text x="267.2" y="488.90000000000003" text-anchor="middle" font-size="4.8" font-weight="bold" fill="#1a2cf0" font-family="Liberation Sans, sans-serif">1.11</text>
<text x="292.8" y="488.90000000000003" text-anchor="middle" font-size="4.8" font-weight="bold" fill="#1a2cf0" font-family="Liberation Sans, sans-serif">79.04</text>
<text x="319.9" y="488.90000000000003" text-anchor="middle" font-size="4.8" font-weight="bold" fill="#1a2cf0" font-family="Liberation Sans, sans-serif">21.67</text>
<text x="206.5" y="498.70000000000005" font-size="4.8" font-weight="bold" fill="#f01818" font-family="Liberation Sans, sans-serif">EV+</text>
<text x="237.2" y="498.70000000000005" text-anchor="middle" font-size="4.8" font-weight="bold" fill="#f01818" font-family="Liberation Sans, sans-serif">25.30</text>
<text x="267.2" y="498.70000000000005" text-anchor="middle" font-size="4.8" font-weight="bold" fill="#f01818" font-family="Liberation Sans, sans-serif">1.16</text>
<text x="292.8" y="498.70000000000005" text-anchor="middle" font-size="4.8" font-weight="bold" fill="#f01818" font-family="Liberation Sans, sans-serif">82.11</text>
<text x="319.9" y="498.70000000000005" text-anchor="middle" font-size="4.8" font-weight="bold" fill="#f01818" font-family="Liberation Sans, sans-serif">24.10</text>
<clipPath id="jc"><rect x="199.2" y="387.4" width="166.7" height="124.5"/></clipPath><g clip-path="url(#jc)">
<path d="M199.2 406.9 L202.0 406.9 L204.8 406.9 L207.5 406.9 L210.3 406.9 L213.1 406.9 L215.9 406.9 L218.6 406.9 L221.4 406.9 L224.2 406.9 L227.0 406.9 L229.8 406.9 L232.5 406.9 L235.3 406.9 L238.1 406.9 L240.9 406.9 L243.7 406.9 L246.4 406.9 L249.2 406.9 L252.0 406.9 L254.8 406.9 L257.5 406.9 L260.3 406.9 L263.1 406.9 L265.9 406.9 L268.7 406.9 L271.4 406.9 L274.2 406.9 L277.0 407.0 L279.8 407.0 L282.6 407.0 L285.3 407.0 L288.1 407.1 L290.9 407.1 L293.7 407.2 L296.4 407.4 L299.2 407.6 L302.0 407.8 L304.8 408.2 L307.6 408.7 L310.3 409.3 L313.1 410.3 L315.9 411.6 L318.7 413.5 L321.4 416.1 L324.2 419.8 L327.0 424.9 L329.8 432.0 L332.6 441.9 L335.3 455.8 L338.1 475.1 L340.9 502.1 L343.7 539.8" fill="none" stroke="#111" stroke-width="1"/>
<circle cx="199.2" cy="406.9" r="1.65" fill="#111"/><circle cx="198.9" cy="406.6" r="0.5" fill="#fff" opacity="0.5"/>
<circle cx="202.0" cy="406.9" r="1.65" fill="#111"/><circle cx="201.7" cy="406.6" r="0.5" fill="#fff" opacity="0.5"/>
<circle cx="204.8" cy="406.9" r="1.65" fill="#111"/><circle cx="204.5" cy="406.6" r="0.5" fill="#fff" opacity="0.5"/>
<circle cx="207.5" cy="406.9" r="1.65" fill="#111"/><circle cx="207.2" cy="406.6" r="0.5" fill="#fff" opacity="0.5"/>
<circle cx="210.3" cy="406.9" r="1.65" fill="#111"/><circle cx="210.0" cy="406.6" r="0.5" fill="#fff" opacity="0.5"/>
<circle cx="213.1" cy="406.9" r="1.65" fill="#111"/><circle cx="212.8" cy="406.6" r="0.5" fill="#fff" opacity="0.5"/>
<circle cx="215.9" cy="406.9" r="1.65" fill="#111"/><circle cx="215.6" cy="406.6" r="0.5" fill="#fff" opacity="0.5"/>
<circle cx="218.6" cy="406.9" r="1.65" fill="#111"/><circle cx="218.3" cy="406.6" r="0.5" fill="#fff" opacity="0.5"/>
<circle cx="221.4" cy="406.9" r="1.65" fill="#111"/><circle cx="221.1" cy="406.6" r="0.5" fill="#fff" opacity="0.5"/>
<circle cx="224.2" cy="406.9" r="1.65" fill="#111"/><circle cx="223.9" cy="406.6" r="0.5" fill="#fff" opacity="0.5"/>
<circle cx="227.0" cy="406.9" r="1.65" fill="#111"/><circle cx="226.7" cy="406.6" r="0.5" fill="#fff" opacity="0.5"/>
<circle cx="229.8" cy="406.9" r="1.65" fill="#111"/><circle cx="229.5" cy="406.6" r="0.5" fill="#fff" opacity="0.5"/>
<circle cx="232.5" cy="406.9" r="1.65" fill="#111"/><circle cx="232.2" cy="406.6" r="0.5" fill="#fff" opacity="0.5"/>
<circle cx="235.3" cy="406.9" r="1.65" fill="#111"/><circle cx="235.0" cy="406.6" r="0.5" fill="#fff" opacity="0.5"/>
<circle cx="238.1" cy="406.9" r="1.65" fill="#111"/><circle cx="237.8" cy="406.6" r="0.5" fill="#fff" opacity="0.5"/>
<circle cx="240.9" cy="406.9" r="1.65" fill="#111"/><circle cx="240.6" cy="406.6" r="0.5" fill="#fff" opacity="0.5"/>
<circle cx="243.7" cy="406.9" r="1.65" fill="#111"/><circle cx="243.4" cy="406.6" r="0.5" fill="#fff" opacity="0.5"/>
<circle cx="246.4" cy="406.9" r="1.65" fill="#111"/><circle cx="246.1" cy="406.6" r="0.5" fill="#fff" opacity="0.5"/>
<circle cx="249.2" cy="406.9" r="1.65" fill="#111"/><circle cx="248.9" cy="406.6" r="0.5" fill="#fff" opacity="0.5"/>
<circle cx="252.0" cy="406.9" r="1.65" fill="#111"/><circle cx="251.7" cy="406.6" r="0.5" fill="#fff" opacity="0.5"/>
<circle cx="254.8" cy="406.9" r="1.65" fill="#111"/><circle cx="254.5" cy="406.6" r="0.5" fill="#fff" opacity="0.5"/>
<circle cx="257.5" cy="406.9" r="1.65" fill="#111"/><circle cx="257.2" cy="406.6" r="0.5" fill="#fff" opacity="0.5"/>
<circle cx="260.3" cy="406.9" r="1.65" fill="#111"/><circle cx="260.0" cy="406.6" r="0.5" fill="#fff" opacity="0.5"/>
<circle cx="263.1" cy="406.9" r="1.65" fill="#111"/><circle cx="262.8" cy="406.6" r="0.5" fill="#fff" opacity="0.5"/>
<circle cx="265.9" cy="406.9" r="1.65" fill="#111"/><circle cx="265.6" cy="406.6" r="0.5" fill="#fff" opacity="0.5"/>
<circle cx="268.7" cy="406.9" r="1.65" fill="#111"/><circle cx="268.4" cy="406.6" r="0.5" fill="#fff" opacity="0.5"/>
<circle cx="271.4" cy="406.9" r="1.65" fill="#111"/><circle cx="271.1" cy="406.6" r="0.5" fill="#fff" opacity="0.5"/>
<circle cx="274.2" cy="406.9" r="1.65" fill="#111"/><circle cx="273.9" cy="406.6" r="0.5" fill="#fff" opacity="0.5"/>
<circle cx="277.0" cy="407.0" r="1.65" fill="#111"/><circle cx="276.7" cy="406.7" r="0.5" fill="#fff" opacity="0.5"/>
<circle cx="279.8" cy="407.0" r="1.65" fill="#111"/><circle cx="279.5" cy="406.7" r="0.5" fill="#fff" opacity="0.5"/>
<circle cx="282.6" cy="407.0" r="1.65" fill="#111"/><circle cx="282.2" cy="406.7" r="0.5" fill="#fff" opacity="0.5"/>
<circle cx="285.3" cy="407.0" r="1.65" fill="#111"/><circle cx="285.0" cy="406.7" r="0.5" fill="#fff" opacity="0.5"/>
<circle cx="288.1" cy="407.1" r="1.65" fill="#111"/><circle cx="287.8" cy="406.8" r="0.5" fill="#fff" opacity="0.5"/>
<circle cx="290.9" cy="407.1" r="1.65" fill="#111"/><circle cx="290.6" cy="406.8" r="0.5" fill="#fff" opacity="0.5"/>
<circle cx="293.7" cy="407.2" r="1.65" fill="#111"/><circle cx="293.4" cy="406.9" r="0.5" fill="#fff" opacity="0.5"/>
<circle cx="296.4" cy="407.4" r="1.65" fill="#111"/><circle cx="296.1" cy="407.1" r="0.5" fill="#fff" opacity="0.5"/>
<circle cx="299.2" cy="407.6" r="1.65" fill="#111"/><circle cx="298.9" cy="407.3" r="0.5" fill="#fff" opacity="0.5"/>
<circle cx="302.0" cy="407.8" r="1.65" fill="#111"/><circle cx="301.7" cy="407.5" r="0.5" fill="#fff" opacity="0.5"/>
<circle cx="304.8" cy="408.2" r="1.65" fill="#111"/><circle cx="304.5" cy="407.9" r="0.5" fill="#fff" opacity="0.5"/>
<circle cx="307.6" cy="408.7" r="1.65" fill="#111"/><circle cx="307.3" cy="408.4" r="0.5" fill="#fff" opacity="0.5"/>
<circle cx="310.3" cy="409.3" r="1.65" fill="#111"/><circle cx="310.0" cy="409.0" r="0.5" fill="#fff" opacity="0.5"/>
<circle cx="313.1" cy="410.3" r="1.65" fill="#111"/><circle cx="312.8" cy="410.0" r="0.5" fill="#fff" opacity="0.5"/>
<circle cx="315.9" cy="411.6" r="1.65" fill="#111"/><circle cx="315.6" cy="411.3" r="0.5" fill="#fff" opacity="0.5"/>
<circle cx="318.7" cy="413.5" r="1.65" fill="#111"/><circle cx="318.4" cy="413.2" r="0.5" fill="#fff" opacity="0.5"/>
<circle cx="321.4" cy="416.1" r="1.65" fill="#111"/><circle cx="321.1" cy="415.8" r="0.5" fill="#fff" opacity="0.5"/>
<circle cx="324.2" cy="419.8" r="1.65" fill="#111"/><circle cx="323.9" cy="419.5" r="0.5" fill="#fff" opacity="0.5"/>
<circle cx="327.0" cy="424.9" r="1.65" fill="#111"/><circle cx="326.7" cy="424.6" r="0.5" fill="#fff" opacity="0.5"/>
<circle cx="329.8" cy="432.0" r="1.65" fill="#111"/><circle cx="329.5" cy="431.7" r="0.5" fill="#fff" opacity="0.5"/>
<circle cx="332.6" cy="441.9" r="1.65" fill="#111"/><circle cx="332.3" cy="441.6" r="0.5" fill="#fff" opacity="0.5"/>
<circle cx="335.3" cy="455.8" r="1.65" fill="#111"/><circle cx="335.0" cy="455.5" r="0.5" fill="#fff" opacity="0.5"/>
<circle cx="338.1" cy="475.1" r="1.65" fill="#111"/><circle cx="337.8" cy="474.8" r="0.5" fill="#fff" opacity="0.5"/>
<circle cx="340.9" cy="502.1" r="1.65" fill="#111"/><circle cx="340.6" cy="501.8" r="0.5" fill="#fff" opacity="0.5"/>
<path d="M199.2 400.0 L202.0 400.0 L204.8 400.0 L207.5 400.0 L210.3 400.0 L213.1 400.0 L215.9 400.0 L218.6 400.0 L221.4 400.0 L224.2 400.0 L227.0 400.0 L229.8 400.0 L232.5 400.0 L235.3 400.0 L238.1 400.0 L240.9 400.0 L243.7 400.0 L246.4 400.0 L249.2 400.0 L252.0 400.0 L254.8 400.0 L257.5 400.0 L260.3 400.0 L263.1 400.0 L265.9 400.0 L268.7 400.0 L271.4 400.0 L274.2 400.0 L277.0 400.0 L279.8 400.0 L282.6 400.0 L285.3 400.0 L288.1 400.0 L290.9 400.0 L293.7 400.0 L296.4 400.0 L299.2 400.1 L302.0 400.1 L304.8 400.1 L307.6 400.2 L310.3 400.3 L313.1 400.4 L315.9 400.6 L318.7 400.9 L321.4 401.3 L324.2 401.8 L327.0 402.7 L329.8 404.0 L332.6 405.8 L335.3 408.6 L338.1 412.6 L340.9 418.5 L343.7 427.1 L346.5 439.8 L349.2 458.5 L352.0 486.0 L354.8 526.3" fill="none" stroke="#1a2cf0" stroke-width="1"/>
<circle cx="199.2" cy="400.0" r="1.65" fill="#1a2cf0"/><circle cx="198.9" cy="399.7" r="0.5" fill="#fff" opacity="0.5"/>
<circle cx="202.0" cy="400.0" r="1.65" fill="#1a2cf0"/><circle cx="201.7" cy="399.7" r="0.5" fill="#fff" opacity="0.5"/>
<circle cx="204.8" cy="400.0" r="1.65" fill="#1a2cf0"/><circle cx="204.5" cy="399.7" r="0.5" fill="#fff" opacity="0.5"/>
<circle cx="207.5" cy="400.0" r="1.65" fill="#1a2cf0"/><circle cx="207.2" cy="399.7" r="0.5" fill="#fff" opacity="0.5"/>
<circle cx="210.3" cy="400.0" r="1.65" fill="#1a2cf0"/><circle cx="210.0" cy="399.7" r="0.5" fill="#fff" opacity="0.5"/>
<circle cx="213.1" cy="400.0" r="1.65" fill="#1a2cf0"/><circle cx="212.8" cy="399.7" r="0.5" fill="#fff" opacity="0.5"/>
<circle cx="215.9" cy="400.0" r="1.65" fill="#1a2cf0"/><circle cx="215.6" cy="399.7" r="0.5" fill="#fff" opacity="0.5"/>
<circle cx="218.6" cy="400.0" r="1.65" fill="#1a2cf0"/><circle cx="218.3" cy="399.7" r="0.5" fill="#fff" opacity="0.5"/>
<circle cx="221.4" cy="400.0" r="1.65" fill="#1a2cf0"/><circle cx="221.1" cy="399.7" r="0.5" fill="#fff" opacity="0.5"/>
<circle cx="224.2" cy="400.0" r="1.65" fill="#1a2cf0"/><circle cx="223.9" cy="399.7" r="0.5" fill="#fff" opacity="0.5"/>
<circle cx="227.0" cy="400.0" r="1.65" fill="#1a2cf0"/><circle cx="226.7" cy="399.7" r="0.5" fill="#fff" opacity="0.5"/>
<circle cx="229.8" cy="400.0" r="1.65" fill="#1a2cf0"/><circle cx="229.5" cy="399.7" r="0.5" fill="#fff" opacity="0.5"/>
<circle cx="232.5" cy="400.0" r="1.65" fill="#1a2cf0"/><circle cx="232.2" cy="399.7" r="0.5" fill="#fff" opacity="0.5"/>
<circle cx="235.3" cy="400.0" r="1.65" fill="#1a2cf0"/><circle cx="235.0" cy="399.7" r="0.5" fill="#fff" opacity="0.5"/>
<circle cx="238.1" cy="400.0" r="1.65" fill="#1a2cf0"/><circle cx="237.8" cy="399.7" r="0.5" fill="#fff" opacity="0.5"/>
<circle cx="240.9" cy="400.0" r="1.65" fill="#1a2cf0"/><circle cx="240.6" cy="399.7" r="0.5" fill="#fff" opacity="0.5"/>
<circle cx="243.7" cy="400.0" r="1.65" fill="#1a2cf0"/><circle cx="243.4" cy="399.7" r="0.5" fill="#fff" opacity="0.5"/>
<circle cx="246.4" cy="400.0" r="1.65" fill="#1a2cf0"/><circle cx="246.1" cy="399.7" r="0.5" fill="#fff" opacity="0.5"/>
<circle cx="249.2" cy="400.0" r="1.65" fill="#1a2cf0"/><circle cx="248.9" cy="399.7" r="0.5" fill="#fff" opacity="0.5"/>
<circle cx="252.0" cy="400.0" r="1.65" fill="#1a2cf0"/><circle cx="251.7" cy="399.7" r="0.5" fill="#fff" opacity="0.5"/>
<circle cx="254.8" cy="400.0" r="1.65" fill="#1a2cf0"/><circle cx="254.5" cy="399.7" r="0.5" fill="#fff" opacity="0.5"/>
<circle cx="257.5" cy="400.0" r="1.65" fill="#1a2cf0"/><circle cx="257.2" cy="399.7" r="0.5" fill="#fff" opacity="0.5"/>
<circle cx="260.3" cy="400.0" r="1.65" fill="#1a2cf0"/><circle cx="260.0" cy="399.7" r="0.5" fill="#fff" opacity="0.5"/>
<circle cx="263.1" cy="400.0" r="1.65" fill="#1a2cf0"/><circle cx="262.8" cy="399.7" r="0.5" fill="#fff" opacity="0.5"/>
<circle cx="265.9" cy="400.0" r="1.65" fill="#1a2cf0"/><circle cx="265.6" cy="399.7" r="0.5" fill="#fff" opacity="0.5"/>
<circle cx="268.7" cy="400.0" r="1.65" fill="#1a2cf0"/><circle cx="268.4" cy="399.7" r="0.5" fill="#fff" opacity="0.5"/>
<circle cx="271.4" cy="400.0" r="1.65" fill="#1a2cf0"/><circle cx="271.1" cy="399.7" r="0.5" fill="#fff" opacity="0.5"/>
<circle cx="274.2" cy="400.0" r="1.65" fill="#1a2cf0"/><circle cx="273.9" cy="399.7" r="0.5" fill="#fff" opacity="0.5"/>
<circle cx="277.0" cy="400.0" r="1.65" fill="#1a2cf0"/><circle cx="276.7" cy="399.7" r="0.5" fill="#fff" opacity="0.5"/>
<circle cx="279.8" cy="400.0" r="1.65" fill="#1a2cf0"/><circle cx="279.5" cy="399.7" r="0.5" fill="#fff" opacity="0.5"/>
<circle cx="282.6" cy="400.0" r="1.65" fill="#1a2cf0"/><circle cx="282.2" cy="399.7" r="0.5" fill="#fff" opacity="0.5"/>
<circle cx="285.3" cy="400.0" r="1.65" fill="#1a2cf0"/><circle cx="285.0" cy="399.7" r="0.5" fill="#fff" opacity="0.5"/>
<circle cx="288.1" cy="400.0" r="1.65" fill="#1a2cf0"/><circle cx="287.8" cy="399.7" r="0.5" fill="#fff" opacity="0.5"/>
<circle cx="290.9" cy="400.0" r="1.65" fill="#1a2cf0"/><circle cx="290.6" cy="399.7" r="0.5" fill="#fff" opacity="0.5"/>
<circle cx="293.7" cy="400.0" r="1.65" fill="#1a2cf0"/><circle cx="293.4" cy="399.7" r="0.5" fill="#fff" opacity="0.5"/>
<circle cx="296.4" cy="400.0" r="1.65" fill="#1a2cf0"/><circle cx="296.1" cy="399.7" r="0.5" fill="#fff" opacity="0.5"/>
<circle cx="299.2" cy="400.1" r="1.65" fill="#1a2cf0"/><circle cx="298.9" cy="399.8" r="0.5" fill="#fff" opacity="0.5"/>
<circle cx="302.0" cy="400.1" r="1.65" fill="#1a2cf0"/><circle cx="301.7" cy="399.8" r="0.5" fill="#fff" opacity="0.5"/>
<circle cx="304.8" cy="400.1" r="1.65" fill="#1a2cf0"/><circle cx="304.5" cy="399.8" r="0.5" fill="#fff" opacity="0.5"/>
<circle cx="307.6" cy="400.2" r="1.65" fill="#1a2cf0"/><circle cx="307.3" cy="399.9" r="0.5" fill="#fff" opacity="0.5"/>
<circle cx="310.3" cy="400.3" r="1.65" fill="#1a2cf0"/><circle cx="310.0" cy="400.0" r="0.5" fill="#fff" opacity="0.5"/>
<circle cx="313.1" cy="400.4" r="1.65" fill="#1a2cf0"/><circle cx="312.8" cy="400.1" r="0.5" fill="#fff" opacity="0.5"/>
<circle cx="315.9" cy="400.6" r="1.65" fill="#1a2cf0"/><circle cx="315.6" cy="400.3" r="0.5" fill="#fff" opacity="0.5"/>
<circle cx="318.7" cy="400.9" r="1.65" fill="#1a2cf0"/><circle cx="318.4" cy="400.6" r="0.5" fill="#fff" opacity="0.5"/>
<circle cx="321.4" cy="401.3" r="1.65" fill="#1a2cf0"/><circle cx="321.1" cy="401.0" r="0.5" fill="#fff" opacity="0.5"/>
<circle cx="324.2" cy="401.8" r="1.65" fill="#1a2cf0"/><circle cx="323.9" cy="401.5" r="0.5" fill="#fff" opacity="0.5"/>
<circle cx="327.0" cy="402.7" r="1.65" fill="#1a2cf0"/><circle cx="326.7" cy="402.4" r="0.5" fill="#fff" opacity="0.5"/>
<circle cx="329.8" cy="404.0" r="1.65" fill="#1a2cf0"/><circle cx="329.5" cy="403.7" r="0.5" fill="#fff" opacity="0.5"/>
<circle cx="332.6" cy="405.8" r="1.65" fill="#1a2cf0"/><circle cx="332.3" cy="405.5" r="0.5" fill="#fff" opacity="0.5"/>
<circle cx="335.3" cy="408.6" r="1.65" fill="#1a2cf0"/><circle cx="335.0" cy="408.3" r="0.5" fill="#fff" opacity="0.5"/>
<circle cx="338.1" cy="412.6" r="1.65" fill="#1a2cf0"/><circle cx="337.8" cy="412.3" r="0.5" fill="#fff" opacity="0.5"/>
<circle cx="340.9" cy="418.5" r="1.65" fill="#1a2cf0"/><circle cx="340.6" cy="418.2" r="0.5" fill="#fff" opacity="0.5"/>
<circle cx="343.7" cy="427.1" r="1.65" fill="#1a2cf0"/><circle cx="343.4" cy="426.8" r="0.5" fill="#fff" opacity="0.5"/>
<circle cx="346.5" cy="439.8" r="1.65" fill="#1a2cf0"/><circle cx="346.2" cy="439.5" r="0.5" fill="#fff" opacity="0.5"/>
<circle cx="349.2" cy="458.5" r="1.65" fill="#1a2cf0"/><circle cx="348.9" cy="458.2" r="0.5" fill="#fff" opacity="0.5"/>
<circle cx="352.0" cy="486.0" r="1.65" fill="#1a2cf0"/><circle cx="351.7" cy="485.7" r="0.5" fill="#fff" opacity="0.5"/>
<path d="M199.2 397.0 L202.0 397.0 L204.8 397.0 L207.5 397.0 L210.3 397.0 L213.1 397.0 L215.9 397.0 L218.6 397.0 L221.4 397.0 L224.2 397.0 L227.0 397.0 L229.8 397.0 L232.5 397.0 L235.3 397.0 L238.1 397.0 L240.9 397.0 L243.7 397.0 L246.4 397.0 L249.2 397.0 L252.0 397.0 L254.8 397.0 L257.5 397.0 L260.3 397.0 L263.1 397.0 L265.9 397.0 L268.7 397.0 L271.4 397.0 L274.2 397.0 L277.0 397.0 L279.8 397.0 L282.6 397.0 L285.3 397.0 L288.1 397.0 L290.9 397.0 L293.7 397.0 L296.4 397.0 L299.2 397.0 L302.0 397.0 L304.8 397.0 L307.6 397.0 L310.3 397.0 L313.1 397.0 L315.9 397.1 L318.7 397.1 L321.4 397.2 L324.2 397.3 L327.0 397.5 L329.8 397.8 L332.6 398.3 L335.3 399.1 L338.1 400.2 L340.9 402.0 L343.7 404.8 L346.5 409.0 L349.2 415.6 L352.0 425.8 L354.8 441.5 L357.6 465.8 L360.3 503.2 L363.1 561.1" fill="none" stroke="#f01818" stroke-width="1"/>
<circle cx="199.2" cy="397.0" r="1.65" fill="#f01818"/><circle cx="198.9" cy="396.7" r="0.5" fill="#fff" opacity="0.5"/>
<circle cx="202.0" cy="397.0" r="1.65" fill="#f01818"/><circle cx="201.7" cy="396.7" r="0.5" fill="#fff" opacity="0.5"/>
<circle cx="204.8" cy="397.0" r="1.65" fill="#f01818"/><circle cx="204.5" cy="396.7" r="0.5" fill="#fff" opacity="0.5"/>
<circle cx="207.5" cy="397.0" r="1.65" fill="#f01818"/><circle cx="207.2" cy="396.7" r="0.5" fill="#fff" opacity="0.5"/>
<circle cx="210.3" cy="397.0" r="1.65" fill="#f01818"/><circle cx="210.0" cy="396.7" r="0.5" fill="#fff" opacity="0.5"/>
<circle cx="213.1" cy="397.0" r="1.65" fill="#f01818"/><circle cx="212.8" cy="396.7" r="0.5" fill="#fff" opacity="0.5"/>
<circle cx="215.9" cy="397.0" r="1.65" fill="#f01818"/><circle cx="215.6" cy="396.7" r="0.5" fill="#fff" opacity="0.5"/>
<circle cx="218.6" cy="397.0" r="1.65" fill="#f01818"/><circle cx="218.3" cy="396.7" r="0.5" fill="#fff" opacity="0.5"/>
<circle cx="221.4" cy="397.0" r="1.65" fill="#f01818"/><circle cx="221.1" cy="396.7" r="0.5" fill="#fff" opacity="0.5"/>
<circle cx="224.2" cy="397.0" r="1.65" fill="#f01818"/><circle cx="223.9" cy="396.7" r="0.5" fill="#fff" opacity="0.5"/>
<circle cx="227.0" cy="397.0" r="1.65" fill="#f01818"/><circle cx="226.7" cy="396.7" r="0.5" fill="#fff" opacity="0.5"/>
<circle cx="229.8" cy="397.0" r="1.65" fill="#f01818"/><circle cx="229.5" cy="396.7" r="0.5" fill="#fff" opacity="0.5"/>
<circle cx="232.5" cy="397.0" r="1.65" fill="#f01818"/><circle cx="232.2" cy="396.7" r="0.5" fill="#fff" opacity="0.5"/>
<circle cx="235.3" cy="397.0" r="1.65" fill="#f01818"/><circle cx="235.0" cy="396.7" r="0.5" fill="#fff" opacity="0.5"/>
<circle cx="238.1" cy="397.0" r="1.65" fill="#f01818"/><circle cx="237.8" cy="396.7" r="0.5" fill="#fff" opacity="0.5"/>
<circle cx="240.9" cy="397.0" r="1.65" fill="#f01818"/><circle cx="240.6" cy="396.7" r="0.5" fill="#fff" opacity="0.5"/>
<circle cx="243.7" cy="397.0" r="1.65" fill="#f01818"/><circle cx="243.4" cy="396.7" r="0.5" fill="#fff" opacity="0.5"/>
<circle cx="246.4" cy="397.0" r="1.65" fill="#f01818"/><circle cx="246.1" cy="396.7" r="0.5" fill="#fff" opacity="0.5"/>
<circle cx="249.2" cy="397.0" r="1.65" fill="#f01818"/><circle cx="248.9" cy="396.7" r="0.5" fill="#fff" opacity="0.5"/>
<circle cx="252.0" cy="397.0" r="1.65" fill="#f01818"/><circle cx="251.7" cy="396.7" r="0.5" fill="#fff" opacity="0.5"/>
<circle cx="254.8" cy="397.0" r="1.65" fill="#f01818"/><circle cx="254.5" cy="396.7" r="0.5" fill="#fff" opacity="0.5"/>
<circle cx="257.5" cy="397.0" r="1.65" fill="#f01818"/><circle cx="257.2" cy="396.7" r="0.5" fill="#fff" opacity="0.5"/>
<circle cx="260.3" cy="397.0" r="1.65" fill="#f01818"/><circle cx="260.0" cy="396.7" r="0.5" fill="#fff" opacity="0.5"/>
<circle cx="263.1" cy="397.0" r="1.65" fill="#f01818"/><circle cx="262.8" cy="396.7" r="0.5" fill="#fff" opacity="0.5"/>
<circle cx="265.9" cy="397.0" r="1.65" fill="#f01818"/><circle cx="265.6" cy="396.7" r="0.5" fill="#fff" opacity="0.5"/>
<circle cx="268.7" cy="397.0" r="1.65" fill="#f01818"/><circle cx="268.4" cy="396.7" r="0.5" fill="#fff" opacity="0.5"/>
<circle cx="271.4" cy="397.0" r="1.65" fill="#f01818"/><circle cx="271.1" cy="396.7" r="0.5" fill="#fff" opacity="0.5"/>
<circle cx="274.2" cy="397.0" r="1.65" fill="#f01818"/><circle cx="273.9" cy="396.7" r="0.5" fill="#fff" opacity="0.5"/>
<circle cx="277.0" cy="397.0" r="1.65" fill="#f01818"/><circle cx="276.7" cy="396.7" r="0.5" fill="#fff" opacity="0.5"/>
<circle cx="279.8" cy="397.0" r="1.65" fill="#f01818"/><circle cx="279.5" cy="396.7" r="0.5" fill="#fff" opacity="0.5"/>
<circle cx="282.6" cy="397.0" r="1.65" fill="#f01818"/><circle cx="282.2" cy="396.7" r="0.5" fill="#fff" opacity="0.5"/>
<circle cx="285.3" cy="397.0" r="1.65" fill="#f01818"/><circle cx="285.0" cy="396.7" r="0.5" fill="#fff" opacity="0.5"/>
<circle cx="288.1" cy="397.0" r="1.65" fill="#f01818"/><circle cx="287.8" cy="396.7" r="0.5" fill="#fff" opacity="0.5"/>
<circle cx="290.9" cy="397.0" r="1.65" fill="#f01818"/><circle cx="290.6" cy="396.7" r="0.5" fill="#fff" opacity="0.5"/>
<circle cx="293.7" cy="397.0" r="1.65" fill="#f01818"/><circle cx="293.4" cy="396.7" r="0.5" fill="#fff" opacity="0.5"/>
<circle cx="296.4" cy="397.0" r="1.65" fill="#f01818"/><circle cx="296.1" cy="396.7" r="0.5" fill="#fff" opacity="0.5"/>
<circle cx="299.2" cy="397.0" r="1.65" fill="#f01818"/><circle cx="298.9" cy="396.7" r="0.5" fill="#fff" opacity="0.5"/>
<circle cx="302.0" cy="397.0" r="1.65" fill="#f01818"/><circle cx="301.7" cy="396.7" r="0.5" fill="#fff" opacity="0.5"/>
<circle cx="304.8" cy="397.0" r="1.65" fill="#f01818"/><circle cx="304.5" cy="396.7" r="0.5" fill="#fff" opacity="0.5"/>
<circle cx="307.6" cy="397.0" r="1.65" fill="#f01818"/><circle cx="307.3" cy="396.7" r="0.5" fill="#fff" opacity="0.5"/>
<circle cx="310.3" cy="397.0" r="1.65" fill="#f01818"/><circle cx="310.0" cy="396.7" r="0.5" fill="#fff" opacity="0.5"/>
<circle cx="313.1" cy="397.0" r="1.65" fill="#f01818"/><circle cx="312.8" cy="396.7" r="0.5" fill="#fff" opacity="0.5"/>
<circle cx="315.9" cy="397.1" r="1.65" fill="#f01818"/><circle cx="315.6" cy="396.8" r="0.5" fill="#fff" opacity="0.5"/>
<circle cx="318.7" cy="397.1" r="1.65" fill="#f01818"/><circle cx="318.4" cy="396.8" r="0.5" fill="#fff" opacity="0.5"/>
<circle cx="321.4" cy="397.2" r="1.65" fill="#f01818"/><circle cx="321.1" cy="396.9" r="0.5" fill="#fff" opacity="0.5"/>
<circle cx="324.2" cy="397.3" r="1.65" fill="#f01818"/><circle cx="323.9" cy="397.0" r="0.5" fill="#fff" opacity="0.5"/>
<circle cx="327.0" cy="397.5" r="1.65" fill="#f01818"/><circle cx="326.7" cy="397.2" r="0.5" fill="#fff" opacity="0.5"/>
<circle cx="329.8" cy="397.8" r="1.65" fill="#f01818"/><circle cx="329.5" cy="397.5" r="0.5" fill="#fff" opacity="0.5"/>
<circle cx="332.6" cy="398.3" r="1.65" fill="#f01818"/><circle cx="332.3" cy="398.0" r="0.5" fill="#fff" opacity="0.5"/>
<circle cx="335.3" cy="399.1" r="1.65" fill="#f01818"/><circle cx="335.0" cy="398.8" r="0.5" fill="#fff" opacity="0.5"/>
<circle cx="338.1" cy="400.2" r="1.65" fill="#f01818"/><circle cx="337.8" cy="399.9" r="0.5" fill="#fff" opacity="0.5"/>
<circle cx="340.9" cy="402.0" r="1.65" fill="#f01818"/><circle cx="340.6" cy="401.7" r="0.5" fill="#fff" opacity="0.5"/>
<circle cx="343.7" cy="404.8" r="1.65" fill="#f01818"/><circle cx="343.4" cy="404.5" r="0.5" fill="#fff" opacity="0.5"/>
<circle cx="346.5" cy="409.0" r="1.65" fill="#f01818"/><circle cx="346.2" cy="408.7" r="0.5" fill="#fff" opacity="0.5"/>
<circle cx="349.2" cy="415.6" r="1.65" fill="#f01818"/><circle cx="348.9" cy="415.3" r="0.5" fill="#fff" opacity="0.5"/>
<circle cx="352.0" cy="425.8" r="1.65" fill="#f01818"/><circle cx="351.7" cy="425.5" r="0.5" fill="#fff" opacity="0.5"/>
<circle cx="354.8" cy="441.5" r="1.65" fill="#f01818"/><circle cx="354.5" cy="441.2" r="0.5" fill="#fff" opacity="0.5"/>
<circle cx="357.6" cy="465.8" r="1.65" fill="#f01818"/><circle cx="357.3" cy="465.5" r="0.5" fill="#fff" opacity="0.5"/>
<circle cx="360.3" cy="503.2" r="1.65" fill="#f01818"/><circle cx="360.0" cy="502.9" r="0.5" fill="#fff" opacity="0.5"/>
</g>
<rect x="545.5" y="150" width="261.5" height="192.5" fill="url(#pf0)" stroke="#7a7a80" stroke-width="1"/>
<line x1="541.9" y1="150" x2="545.5" y2="150" stroke="#85858c" stroke-width="0.8"/>
<text transform="translate(537.9,152.6) scale(0.9,1)" text-anchor="end" font-size="9.7" fill="#000" stroke="#000" stroke-width="0.2" font-family="Liberation Sans, sans-serif">26</text>
<line x1="541.9" y1="188.4" x2="545.5" y2="188.4" stroke="#85858c" stroke-width="0.8"/>
<text transform="translate(537.9,191.0) scale(0.9,1)" text-anchor="end" font-size="9.7" fill="#000" stroke="#000" stroke-width="0.2" font-family="Liberation Sans, sans-serif">25</text>
<line x1="541.9" y1="226.8" x2="545.5" y2="226.8" stroke="#85858c" stroke-width="0.8"/>
<text transform="translate(537.9,229.4) scale(0.9,1)" text-anchor="end" font-size="9.7" fill="#000" stroke="#000" stroke-width="0.2" font-family="Liberation Sans, sans-serif">24</text>
<line x1="541.9" y1="265.3" x2="545.5" y2="265.3" stroke="#85858c" stroke-width="0.8"/>
<text transform="translate(537.9,267.9) scale(0.9,1)" text-anchor="end" font-size="9.7" fill="#000" stroke="#000" stroke-width="0.2" font-family="Liberation Sans, sans-serif">23</text>
<line x1="541.9" y1="303.7" x2="545.5" y2="303.7" stroke="#85858c" stroke-width="0.8"/>
<text transform="translate(537.9,306.3) scale(0.9,1)" text-anchor="end" font-size="9.7" fill="#000" stroke="#000" stroke-width="0.2" font-family="Liberation Sans, sans-serif">22</text>
<line x1="541.9" y1="342.2" x2="545.5" y2="342.2" stroke="#85858c" stroke-width="0.8"/>
<text transform="translate(537.9,344.8) scale(0.9,1)" text-anchor="end" font-size="9.7" fill="#000" stroke="#000" stroke-width="0.2" font-family="Liberation Sans, sans-serif">21</text>
<line x1="543.3" y1="169.2" x2="545.5" y2="169.2" stroke="#85858c" stroke-width="0.8"/>
<line x1="543.3" y1="207.6" x2="545.5" y2="207.6" stroke="#85858c" stroke-width="0.8"/>
<line x1="543.3" y1="246" x2="545.5" y2="246" stroke="#85858c" stroke-width="0.8"/>
<line x1="543.3" y1="284.5" x2="545.5" y2="284.5" stroke="#85858c" stroke-width="0.8"/>
<line x1="543.3" y1="323" x2="545.5" y2="323" stroke="#85858c" stroke-width="0.8"/>
<text transform="translate(523.7,246) rotate(-90)" text-anchor="middle" font-size="9.6" letter-spacing="0.6" fill="#2c2c2c" font-family="Liberation Sans, sans-serif">Jsc (mA cm<tspan font-size="6.5" dy="-4">-2</tspan><tspan dy="4">)</tspan></text>
<text x="590.3" y="355.2" text-anchor="middle" letter-spacing="0.7" fill="#111" font-weight="bold" font-size="8.8" font-family="Liberation Sans, sans-serif">SO</text>
<text x="678.8" y="355.2" text-anchor="middle" letter-spacing="0.7" fill="#2233ee" font-size="9.2" font-family="Liberation Sans, sans-serif">EV</text>
<text x="768.3" y="355.2" text-anchor="middle" letter-spacing="0.7" fill="#ee1111" font-size="9.2" font-family="Liberation Sans, sans-serif">EV+</text>
<g stroke="#222" stroke-width="1" fill="none">
<rect x="554.3" y="265.2" width="70.2" height="24.4"/>
<path d="M554.3 277.9H624.5M589.1 251.9V265.2M589.1 289.6V304.6M585.1 251.9h8M585.1 304.6h8"/>
<rect x="588.1" y="276.9" width="2" height="2" stroke-width="0.5" opacity="0.6"/>
</g>
<circle cx="566.0" cy="259.1" r="2.4" fill="url(#gk)"/>
<circle cx="573.5" cy="261.3" r="2.4" fill="url(#gk)"/>
<circle cx="596.6" cy="256.1" r="2.4" fill="url(#gk)"/>
<circle cx="604.7" cy="252.2" r="2.4" fill="url(#gk)"/>
<circle cx="612.2" cy="262.3" r="2.4" fill="url(#gk)"/>
<circle cx="577.4" cy="269.2" r="2.4" fill="url(#gk)"/>
<circle cx="581.3" cy="265.2" r="2.4" fill="url(#gk)"/>
<circle cx="585.5" cy="267.2" r="2.4" fill="url(#gk)"/>
<circle cx="589.1" cy="265.2" r="2.4" fill="url(#gk)"/>
<circle cx="593.3" cy="268.8" r="2.4" fill="url(#gk)"/>
<circle cx="600.8" cy="269.8" r="2.4" fill="url(#gk)"/>
<circle cx="558.5" cy="288.3" r="2.4" fill="url(#gk)"/>
<circle cx="566.0" cy="285.7" r="2.4" fill="url(#gk)"/>
<circle cx="573.5" cy="290.3" r="2.4" fill="url(#gk)"/>
<circle cx="581.3" cy="292.2" r="2.4" fill="url(#gk)"/>
<circle cx="589.1" cy="290.6" r="2.4" fill="url(#gk)"/>
<circle cx="596.6" cy="289.3" r="2.4" fill="url(#gk)"/>
<circle cx="604.7" cy="286.4" r="2.4" fill="url(#gk)"/>
<circle cx="612.2" cy="287.4" r="2.4" fill="url(#gk)"/>
<circle cx="620.0" cy="289.3" r="2.4" fill="url(#gk)"/>
<circle cx="585.5" cy="304.6" r="2.4" fill="url(#gk)"/>
<circle cx="592.7" cy="305.2" r="2.4" fill="url(#gk)"/>
<g stroke="#2a3cf0" stroke-width="1" fill="none">
<rect x="641.1" y="202.8" width="70.6" height="12.4"/>
<path d="M641.1 209.3H711.7M676.5 189.2V202.8M676.5 215.2V222.7M672.5 189.2h8M672.5 222.7h8"/>
<rect x="675.5" y="208.0" width="2" height="2" stroke-width="0.5" opacity="0.6"/>
</g>
<circle cx="649.6" cy="195.0" r="2.4" fill="url(#gb)"/>
<circle cx="654.4" cy="194.4" r="2.4" fill="url(#gb)"/>
<circle cx="660.0" cy="190.5" r="2.4" fill="url(#gb)"/>
<circle cx="692.1" cy="189.2" r="2.4" fill="url(#gb)"/>
<circle cx="665.8" cy="202.8" r="2.4" fill="url(#gb)"/>
<circle cx="671.3" cy="200.9" r="2.4" fill="url(#gb)"/>
<circle cx="676.5" cy="204.8" r="2.4" fill="url(#gb)"/>
<circle cx="681.7" cy="202.2" r="2.4" fill="url(#gb)"/>
<circle cx="686.9" cy="202.8" r="2.4" fill="url(#gb)"/>
<circle cx="697.3" cy="202.8" r="2.4" fill="url(#gb)"/>
<circle cx="703.2" cy="204.8" r="2.4" fill="url(#gb)"/>
<circle cx="654.4" cy="211.6" r="2.4" fill="url(#gb)"/>
<circle cx="660.0" cy="213.2" r="2.4" fill="url(#gb)"/>
<circle cx="665.8" cy="214.2" r="2.4" fill="url(#gb)"/>
<circle cx="671.3" cy="212.6" r="2.4" fill="url(#gb)"/>
<circle cx="676.5" cy="214.9" r="2.4" fill="url(#gb)"/>
<circle cx="681.7" cy="214.5" r="2.4" fill="url(#gb)"/>
<circle cx="686.9" cy="209.0" r="2.4" fill="url(#gb)"/>
<circle cx="692.1" cy="209.3" r="2.4" fill="url(#gb)"/>
<circle cx="697.3" cy="214.9" r="2.4" fill="url(#gb)"/>
<circle cx="644.0" cy="221.7" r="2.4" fill="url(#gb)"/>
<circle cx="649.6" cy="221.0" r="2.4" fill="url(#gb)"/>
<circle cx="703.2" cy="221.4" r="2.4" fill="url(#gb)"/>
<circle cx="708.4" cy="222.7" r="2.4" fill="url(#gb)"/>
<g stroke="#f02020" stroke-width="1" fill="none">
<rect x="728.6" y="185.3" width="70.2" height="33.5"/>
<path d="M728.6 197.6H798.8M763.3 175.8V185.3M763.3 218.8V230.1M759.3 175.8h8M759.3 230.1h8"/>
<rect x="762.3" y="200.2" width="2" height="2" stroke-width="0.5" opacity="0.6"/>
</g>
<circle cx="737.3" cy="181.7" r="2.4" fill="url(#gr)"/>
<circle cx="745.8" cy="180.7" r="2.4" fill="url(#gr)"/>
<circle cx="754.6" cy="185.9" r="2.4" fill="url(#gr)"/>
<circle cx="763.3" cy="182.3" r="2.4" fill="url(#gr)"/>
<circle cx="772.1" cy="184.0" r="2.4" fill="url(#gr)"/>
<circle cx="780.9" cy="175.8" r="2.4" fill="url(#gr)"/>
<circle cx="789.7" cy="184.6" r="2.4" fill="url(#gr)"/>
<circle cx="793.9" cy="190.1" r="2.4" fill="url(#gr)"/>
<circle cx="732.8" cy="198.9" r="2.4" fill="url(#gr)"/>
<circle cx="741.6" cy="197.6" r="2.4" fill="url(#gr)"/>
<circle cx="750.3" cy="197.3" r="2.4" fill="url(#gr)"/>
<circle cx="759.1" cy="196.3" r="2.4" fill="url(#gr)"/>
<circle cx="767.9" cy="192.7" r="2.4" fill="url(#gr)"/>
<circle cx="776.7" cy="202.2" r="2.4" fill="url(#gr)"/>
<circle cx="785.5" cy="197.6" r="2.4" fill="url(#gr)"/>
<circle cx="785.5" cy="210.3" r="2.4" fill="url(#gr)"/>
<circle cx="732.8" cy="219.1" r="2.4" fill="url(#gr)"/>
<circle cx="741.6" cy="221.4" r="2.4" fill="url(#gr)"/>
<circle cx="750.3" cy="219.1" r="2.4" fill="url(#gr)"/>
<circle cx="759.1" cy="218.8" r="2.4" fill="url(#gr)"/>
<circle cx="767.9" cy="217.5" r="2.4" fill="url(#gr)"/>
<circle cx="776.7" cy="224.3" r="2.4" fill="url(#gr)"/>
<circle cx="793.9" cy="219.7" r="2.4" fill="url(#gr)"/>
<circle cx="763.3" cy="229.8" r="2.4" fill="url(#gr)"/>
<rect x="881.8" y="150.4" width="261.2" height="192.0" fill="url(#pf1)" stroke="#7a7a80" stroke-width="1"/>
<line x1="878.1999999999999" y1="163.6" x2="881.8" y2="163.6" stroke="#85858c" stroke-width="0.8"/>
<text transform="translate(874.2,166.8) scale(0.9,1)" text-anchor="end" font-size="9.7" fill="#000" stroke="#000" stroke-width="0.2" font-family="Liberation Sans, sans-serif">1.20</text>
<line x1="878.1999999999999" y1="191.1" x2="881.8" y2="191.1" stroke="#85858c" stroke-width="0.8"/>
<text transform="translate(874.2,194.3) scale(0.9,1)" text-anchor="end" font-size="9.7" fill="#000" stroke="#000" stroke-width="0.2" font-family="Liberation Sans, sans-serif">1.15</text>
<line x1="878.1999999999999" y1="218.6" x2="881.8" y2="218.6" stroke="#85858c" stroke-width="0.8"/>
<text transform="translate(874.2,221.8) scale(0.9,1)" text-anchor="end" font-size="9.7" fill="#000" stroke="#000" stroke-width="0.2" font-family="Liberation Sans, sans-serif">1.10</text>
<line x1="878.1999999999999" y1="246.1" x2="881.8" y2="246.1" stroke="#85858c" stroke-width="0.8"/>
<text transform="translate(874.2,249.3) scale(0.9,1)" text-anchor="end" font-size="9.7" fill="#000" stroke="#000" stroke-width="0.2" font-family="Liberation Sans, sans-serif">1.05</text>
<line x1="878.1999999999999" y1="273.6" x2="881.8" y2="273.6" stroke="#85858c" stroke-width="0.8"/>
<text transform="translate(874.2,276.8) scale(0.9,1)" text-anchor="end" font-size="9.7" fill="#000" stroke="#000" stroke-width="0.2" font-family="Liberation Sans, sans-serif">1.00</text>
<line x1="878.1999999999999" y1="301.1" x2="881.8" y2="301.1" stroke="#85858c" stroke-width="0.8"/>
<text transform="translate(874.2,304.3) scale(0.9,1)" text-anchor="end" font-size="9.7" fill="#000" stroke="#000" stroke-width="0.2" font-family="Liberation Sans, sans-serif">0.95</text>
<line x1="878.1999999999999" y1="328.6" x2="881.8" y2="328.6" stroke="#85858c" stroke-width="0.8"/>
<text transform="translate(874.2,331.8) scale(0.9,1)" text-anchor="end" font-size="9.7" fill="#000" stroke="#000" stroke-width="0.2" font-family="Liberation Sans, sans-serif">0.90</text>
<line x1="879.5999999999999" y1="177.3" x2="881.8" y2="177.3" stroke="#85858c" stroke-width="0.8"/>
<line x1="879.5999999999999" y1="204.8" x2="881.8" y2="204.8" stroke="#85858c" stroke-width="0.8"/>
<line x1="879.5999999999999" y1="232.3" x2="881.8" y2="232.3" stroke="#85858c" stroke-width="0.8"/>
<line x1="879.5999999999999" y1="259.8" x2="881.8" y2="259.8" stroke="#85858c" stroke-width="0.8"/>
<line x1="879.5999999999999" y1="287.3" x2="881.8" y2="287.3" stroke="#85858c" stroke-width="0.8"/>
<line x1="879.5999999999999" y1="314.8" x2="881.8" y2="314.8" stroke="#85858c" stroke-width="0.8"/>
<text transform="translate(850.7,250) rotate(-90)" text-anchor="middle" font-size="9.6" letter-spacing="0.6" fill="#2c2c2c" font-family="Liberation Sans, sans-serif">Voc (V)</text>
<text x="926.3" y="355.2" text-anchor="middle" letter-spacing="0.7" fill="#111" font-weight="bold" font-size="8.8" font-family="Liberation Sans, sans-serif">SO</text>
<text x="1014.8" y="355.2" text-anchor="middle" letter-spacing="0.7" fill="#2233ee" font-size="9.2" font-family="Liberation Sans, sans-serif">EV</text>
<text x="1105.3" y="355.2" text-anchor="middle" letter-spacing="0.7" fill="#ee1111" font-size="9.2" font-family="Liberation Sans, sans-serif">EV+</text>
<g stroke="#222" stroke-width="1" fill="none">
<rect x="890.4" y="254.5" width="70.2" height="17.9"/>
<path d="M890.4 257.8H960.6M925.2 245.4V254.5M925.2 272.4V295.8M921.2 245.4h8M921.2 295.8h8"/>
<rect x="924.2" y="263.9" width="2" height="2" stroke-width="0.5" opacity="0.6"/>
</g>
<circle cx="894.6" cy="257.4" r="2.4" fill="url(#gk)"/>
<circle cx="903.4" cy="253.9" r="2.4" fill="url(#gk)"/>
<circle cx="907.6" cy="249.6" r="2.4" fill="url(#gk)"/>
<circle cx="916.4" cy="245.4" r="2.4" fill="url(#gk)"/>
<circle cx="912.2" cy="257.4" r="2.4" fill="url(#gk)"/>
<circle cx="921.0" cy="258.4" r="2.4" fill="url(#gk)"/>
<circle cx="925.2" cy="251.9" r="2.4" fill="url(#gk)"/>
<circle cx="929.7" cy="257.4" r="2.4" fill="url(#gk)"/>
<circle cx="934.0" cy="247.0" r="2.4" fill="url(#gk)"/>
<circle cx="938.5" cy="254.2" r="2.4" fill="url(#gk)"/>
<circle cx="942.7" cy="246.1" r="2.4" fill="url(#gk)"/>
<circle cx="947.3" cy="256.5" r="2.4" fill="url(#gk)"/>
<circle cx="955.7" cy="260.0" r="2.4" fill="url(#gk)"/>
<circle cx="907.6" cy="272.1" r="2.4" fill="url(#gk)"/>
<circle cx="916.4" cy="268.5" r="2.4" fill="url(#gk)"/>
<circle cx="925.2" cy="273.1" r="2.4" fill="url(#gk)"/>
<circle cx="934.0" cy="268.5" r="2.4" fill="url(#gk)"/>
<circle cx="942.7" cy="270.5" r="2.4" fill="url(#gk)"/>
<circle cx="925.2" cy="279.2" r="2.4" fill="url(#gk)"/>
<circle cx="925.2" cy="295.8" r="2.4" fill="url(#gk)"/>
<circle cx="921.0" cy="301.3" r="2.4" fill="url(#gk)"/>
<circle cx="929.7" cy="307.2" r="2.4" fill="url(#gk)"/>
<g stroke="#2a3cf0" stroke-width="1" fill="none">
<rect x="977.5" y="208.0" width="70.6" height="16.6"/>
<path d="M977.5 219.7H1048.1M1012.3 202.2V208.0M1012.3 224.6V243.5M1008.3 202.2h8M1008.3 243.5h8"/>
<rect x="1011.3" y="216.8" width="2" height="2" stroke-width="0.5" opacity="0.6"/>
</g>
<circle cx="992.8" cy="201.9" r="2.4" fill="url(#gb)"/>
<circle cx="1000.6" cy="205.8" r="2.4" fill="url(#gb)"/>
<circle cx="1008.4" cy="204.1" r="2.4" fill="url(#gb)"/>
<circle cx="1016.5" cy="205.8" r="2.4" fill="url(#gb)"/>
<circle cx="1024.3" cy="203.2" r="2.4" fill="url(#gb)"/>
<circle cx="1032.1" cy="203.5" r="2.4" fill="url(#gb)"/>
<circle cx="1004.5" cy="211.3" r="2.4" fill="url(#gb)"/>
<circle cx="1012.3" cy="212.3" r="2.4" fill="url(#gb)"/>
<circle cx="1020.4" cy="214.5" r="2.4" fill="url(#gb)"/>
<circle cx="1028.2" cy="210.3" r="2.4" fill="url(#gb)"/>
<circle cx="996.7" cy="215.2" r="2.4" fill="url(#gb)"/>
<circle cx="1004.5" cy="219.1" r="2.4" fill="url(#gb)"/>
<circle cx="996.7" cy="219.7" r="2.4" fill="url(#gb)"/>
<circle cx="981.1" cy="223.0" r="2.4" fill="url(#gb)"/>
<circle cx="988.9" cy="223.0" r="2.4" fill="url(#gb)"/>
<circle cx="1012.3" cy="222.0" r="2.4" fill="url(#gb)"/>
<circle cx="1020.4" cy="224.0" r="2.4" fill="url(#gb)"/>
<circle cx="1036.0" cy="221.4" r="2.4" fill="url(#gb)"/>
<circle cx="1043.8" cy="225.6" r="2.4" fill="url(#gb)"/>
<circle cx="1004.5" cy="235.0" r="2.4" fill="url(#gb)"/>
<circle cx="1012.3" cy="231.1" r="2.4" fill="url(#gb)"/>
<circle cx="1020.4" cy="234.4" r="2.4" fill="url(#gb)"/>
<circle cx="1028.2" cy="229.5" r="2.4" fill="url(#gb)"/>
<circle cx="1012.3" cy="243.5" r="2.4" fill="url(#gb)"/>
<g stroke="#f02020" stroke-width="1" fill="none">
<rect x="1065.0" y="194.7" width="70.2" height="6.5"/>
<path d="M1065.0 197.9H1135.2M1099.8 185.6V194.7M1099.8 201.2V209.7M1095.8 185.6h8M1095.8 209.7h8"/>
<rect x="1098.8" y="196.6" width="2" height="2" stroke-width="0.5" opacity="0.6"/>
</g>
<circle cx="1080.6" cy="186.6" r="2.4" fill="url(#gr)"/>
<circle cx="1087.1" cy="188.5" r="2.4" fill="url(#gr)"/>
<circle cx="1099.8" cy="185.6" r="2.4" fill="url(#gr)"/>
<circle cx="1118.6" cy="188.8" r="2.4" fill="url(#gr)"/>
<circle cx="1067.6" cy="195.7" r="2.4" fill="url(#gr)"/>
<circle cx="1074.1" cy="195.0" r="2.4" fill="url(#gr)"/>
<circle cx="1093.3" cy="197.0" r="2.4" fill="url(#gr)"/>
<circle cx="1099.8" cy="196.3" r="2.4" fill="url(#gr)"/>
<circle cx="1105.9" cy="196.3" r="2.4" fill="url(#gr)"/>
<circle cx="1112.4" cy="192.7" r="2.4" fill="url(#gr)"/>
<circle cx="1125.1" cy="194.4" r="2.4" fill="url(#gr)"/>
<circle cx="1131.6" cy="196.3" r="2.4" fill="url(#gr)"/>
<circle cx="1067.6" cy="199.3" r="2.4" fill="url(#gr)"/>
<circle cx="1074.1" cy="198.9" r="2.4" fill="url(#gr)"/>
<circle cx="1087.1" cy="200.9" r="2.4" fill="url(#gr)"/>
<circle cx="1099.8" cy="199.3" r="2.4" fill="url(#gr)"/>
<circle cx="1112.4" cy="199.3" r="2.4" fill="url(#gr)"/>
<circle cx="1118.6" cy="200.2" r="2.4" fill="url(#gr)"/>
<circle cx="1125.1" cy="202.2" r="2.4" fill="url(#gr)"/>
<circle cx="1080.6" cy="205.1" r="2.4" fill="url(#gr)"/>
<circle cx="1093.3" cy="205.8" r="2.4" fill="url(#gr)"/>
<circle cx="1131.6" cy="207.1" r="2.4" fill="url(#gr)"/>
<circle cx="1099.8" cy="209.7" r="2.4" fill="url(#gr)"/>
<rect x="545.5" y="388.4" width="261.5" height="192.9" fill="url(#pf2)" stroke="#7a7a80" stroke-width="1"/>
<line x1="541.9" y1="405.6" x2="545.5" y2="405.6" stroke="#85858c" stroke-width="0.8"/>
<text transform="translate(537.9,408.6) scale(0.9,1)" text-anchor="end" font-size="9.7" fill="#000" stroke="#000" stroke-width="0.2" font-family="Liberation Sans, sans-serif">85</text>
<line x1="541.9" y1="440.7" x2="545.5" y2="440.7" stroke="#85858c" stroke-width="0.8"/>
<text transform="translate(537.9,443.7) scale(0.9,1)" text-anchor="end" font-size="9.7" fill="#000" stroke="#000" stroke-width="0.2" font-family="Liberation Sans, sans-serif">80</text>
<line x1="541.9" y1="475.9" x2="545.5" y2="475.9" stroke="#85858c" stroke-width="0.8"/>
<text transform="translate(537.9,478.9) scale(0.9,1)" text-anchor="end" font-size="9.7" fill="#000" stroke="#000" stroke-width="0.2" font-family="Liberation Sans, sans-serif">75</text>
<line x1="541.9" y1="511" x2="545.5" y2="511" stroke="#85858c" stroke-width="0.8"/>
<text transform="translate(537.9,514.0) scale(0.9,1)" text-anchor="end" font-size="9.7" fill="#000" stroke="#000" stroke-width="0.2" font-family="Liberation Sans, sans-serif">70</text>
<line x1="541.9" y1="546.2" x2="545.5" y2="546.2" stroke="#85858c" stroke-width="0.8"/>
<text transform="translate(537.9,549.2) scale(0.9,1)" text-anchor="end" font-size="9.7" fill="#000" stroke="#000" stroke-width="0.2" font-family="Liberation Sans, sans-serif">65</text>
<line x1="541.9" y1="581.3" x2="545.5" y2="581.3" stroke="#85858c" stroke-width="0.8"/>
<text transform="translate(537.9,584.3) scale(0.9,1)" text-anchor="end" font-size="9.7" fill="#000" stroke="#000" stroke-width="0.2" font-family="Liberation Sans, sans-serif">60</text>
<line x1="543.3" y1="423.2" x2="545.5" y2="423.2" stroke="#85858c" stroke-width="0.8"/>
<line x1="543.3" y1="458.3" x2="545.5" y2="458.3" stroke="#85858c" stroke-width="0.8"/>
<line x1="543.3" y1="493.5" x2="545.5" y2="493.5" stroke="#85858c" stroke-width="0.8"/>
<line x1="543.3" y1="528.6" x2="545.5" y2="528.6" stroke="#85858c" stroke-width="0.8"/>
<line x1="543.3" y1="563.8" x2="545.5" y2="563.8" stroke="#85858c" stroke-width="0.8"/>
<text transform="translate(523.7,484.4) rotate(-90)" text-anchor="middle" font-size="9.6" letter-spacing="0.6" fill="#2c2c2c" font-family="Liberation Sans, sans-serif">FF(%)</text>
<text x="590.8" y="594.2" text-anchor="middle" letter-spacing="0.7" fill="#111" font-weight="bold" font-size="8.8" font-family="Liberation Sans, sans-serif">SO</text>
<text x="678.3" y="594.2" text-anchor="middle" letter-spacing="0.7" fill="#2233ee" font-size="9.2" font-family="Liberation Sans, sans-serif">EV</text>
<text x="768.8" y="594.2" text-anchor="middle" letter-spacing="0.7" fill="#ee1111" font-size="9.2" font-family="Liberation Sans, sans-serif">EV+</text>
<g stroke="#222" stroke-width="1" fill="none">
<rect x="554.3" y="489.0" width="69.9" height="21.8"/>
<path d="M554.3 503.0H624.2M588.8 462.7V489.0M588.8 510.8V542.6M584.8 462.7h8M584.8 542.6h8"/>
<rect x="587.8" y="499.0" width="2" height="2" stroke-width="0.5" opacity="0.6"/>
</g>
<circle cx="583.9" cy="462.7" r="2.4" fill="url(#gk)"/>
<circle cx="594.0" cy="462.7" r="2.4" fill="url(#gk)"/>
<circle cx="588.8" cy="468.8" r="2.4" fill="url(#gk)"/>
<circle cx="608.9" cy="483.8" r="2.4" fill="url(#gk)"/>
<circle cx="558.8" cy="489.3" r="2.4" fill="url(#gk)"/>
<circle cx="568.9" cy="491.3" r="2.4" fill="url(#gk)"/>
<circle cx="579.0" cy="491.9" r="2.4" fill="url(#gk)"/>
<circle cx="588.8" cy="489.0" r="2.4" fill="url(#gk)"/>
<circle cx="598.8" cy="496.5" r="2.4" fill="url(#gk)"/>
<circle cx="619.0" cy="496.1" r="2.4" fill="url(#gk)"/>
<circle cx="558.8" cy="503.0" r="2.4" fill="url(#gk)"/>
<circle cx="568.9" cy="502.6" r="2.4" fill="url(#gk)"/>
<circle cx="588.8" cy="503.6" r="2.4" fill="url(#gk)"/>
<circle cx="608.9" cy="504.6" r="2.4" fill="url(#gk)"/>
<circle cx="579.0" cy="508.5" r="2.4" fill="url(#gk)"/>
<circle cx="598.8" cy="508.5" r="2.4" fill="url(#gk)"/>
<circle cx="619.0" cy="510.5" r="2.4" fill="url(#gk)"/>
<circle cx="588.8" cy="514.4" r="2.4" fill="url(#gk)"/>
<circle cx="579.0" cy="522.8" r="2.4" fill="url(#gk)"/>
<circle cx="598.8" cy="521.5" r="2.4" fill="url(#gk)"/>
<circle cx="588.8" cy="529.3" r="2.4" fill="url(#gk)"/>
<circle cx="588.8" cy="542.6" r="2.4" fill="url(#gk)"/>
<g stroke="#2a3cf0" stroke-width="1" fill="none">
<rect x="641.1" y="453.2" width="70.6" height="38.0"/>
<path d="M641.1 465.9H711.7M676.2 446.7V453.2M676.2 491.3V520.2M672.2 446.7h8M672.2 520.2h8"/>
<rect x="675.2" y="473.0" width="2" height="2" stroke-width="0.5" opacity="0.6"/>
</g>
<circle cx="646.3" cy="446.7" r="2.4" fill="url(#gb)"/>
<circle cx="656.4" cy="448.4" r="2.4" fill="url(#gb)"/>
<circle cx="666.1" cy="448.0" r="2.4" fill="url(#gb)"/>
<circle cx="686.3" cy="447.4" r="2.4" fill="url(#gb)"/>
<circle cx="706.1" cy="450.0" r="2.4" fill="url(#gb)"/>
<circle cx="676.2" cy="451.0" r="2.4" fill="url(#gb)"/>
<circle cx="666.1" cy="455.5" r="2.4" fill="url(#gb)"/>
<circle cx="656.4" cy="458.4" r="2.4" fill="url(#gb)"/>
<circle cx="676.2" cy="458.1" r="2.4" fill="url(#gb)"/>
<circle cx="696.0" cy="455.2" r="2.4" fill="url(#gb)"/>
<circle cx="696.0" cy="457.5" r="2.4" fill="url(#gb)"/>
<circle cx="686.3" cy="461.4" r="2.4" fill="url(#gb)"/>
<circle cx="676.2" cy="470.8" r="2.4" fill="url(#gb)"/>
<circle cx="656.4" cy="482.5" r="2.4" fill="url(#gb)"/>
<circle cx="666.1" cy="482.5" r="2.4" fill="url(#gb)"/>
<circle cx="686.3" cy="481.2" r="2.4" fill="url(#gb)"/>
<circle cx="696.0" cy="478.6" r="2.4" fill="url(#gb)"/>
<circle cx="666.1" cy="488.3" r="2.4" fill="url(#gb)"/>
<circle cx="676.2" cy="494.8" r="2.4" fill="url(#gb)"/>
<circle cx="686.3" cy="493.5" r="2.4" fill="url(#gb)"/>
<circle cx="671.3" cy="503.9" r="2.4" fill="url(#gb)"/>
<circle cx="681.1" cy="507.9" r="2.4" fill="url(#gb)"/>
<circle cx="671.3" cy="520.2" r="2.4" fill="url(#gb)"/>
<circle cx="681.1" cy="520.2" r="2.4" fill="url(#gb)"/>
<g stroke="#f02020" stroke-width="1" fill="none">
<rect x="728.6" y="429.2" width="70.2" height="14.3"/>
<path d="M728.6 433.7H798.8M763.3 422.3V429.2M763.3 443.5V451.3M759.3 422.3h8M759.3 451.3h8"/>
<rect x="762.3" y="435.6" width="2" height="2" stroke-width="0.5" opacity="0.6"/>
</g>
<circle cx="768.5" cy="422.3" r="2.4" fill="url(#gr)"/>
<circle cx="758.5" cy="425.6" r="2.4" fill="url(#gr)"/>
<circle cx="763.3" cy="425.3" r="2.4" fill="url(#gr)"/>
<circle cx="736.7" cy="431.8" r="2.4" fill="url(#gr)"/>
<circle cx="741.9" cy="429.5" r="2.4" fill="url(#gr)"/>
<circle cx="758.5" cy="429.5" r="2.4" fill="url(#gr)"/>
<circle cx="763.3" cy="428.8" r="2.4" fill="url(#gr)"/>
<circle cx="768.5" cy="429.2" r="2.4" fill="url(#gr)"/>
<circle cx="774.1" cy="429.5" r="2.4" fill="url(#gr)"/>
<circle cx="790.0" cy="430.1" r="2.4" fill="url(#gr)"/>
<circle cx="731.5" cy="438.6" r="2.4" fill="url(#gr)"/>
<circle cx="747.4" cy="433.7" r="2.4" fill="url(#gr)"/>
<circle cx="752.6" cy="433.1" r="2.4" fill="url(#gr)"/>
<circle cx="784.5" cy="434.0" r="2.4" fill="url(#gr)"/>
<circle cx="795.2" cy="433.4" r="2.4" fill="url(#gr)"/>
<circle cx="779.3" cy="438.6" r="2.4" fill="url(#gr)"/>
<circle cx="749.7" cy="442.8" r="2.4" fill="url(#gr)"/>
<circle cx="760.7" cy="441.9" r="2.4" fill="url(#gr)"/>
<circle cx="781.9" cy="443.2" r="2.4" fill="url(#gr)"/>
<circle cx="744.5" cy="450.0" r="2.4" fill="url(#gr)"/>
<circle cx="755.2" cy="449.0" r="2.4" fill="url(#gr)"/>
<circle cx="765.9" cy="451.3" r="2.4" fill="url(#gr)"/>
<circle cx="771.5" cy="449.3" r="2.4" fill="url(#gr)"/>
<circle cx="776.7" cy="447.1" r="2.4" fill="url(#gr)"/>
<rect x="881.8" y="388.3" width="261.4" height="192.1" fill="url(#pf3)" stroke="#7a7a80" stroke-width="1"/>
<line x1="878.1999999999999" y1="388.3" x2="881.8" y2="388.3" stroke="#85858c" stroke-width="0.8"/>
<text transform="translate(874.2,391.0) scale(0.9,1)" text-anchor="end" font-size="9.7" fill="#000" stroke="#000" stroke-width="0.2" font-family="Liberation Sans, sans-serif">26</text>
<line x1="878.1999999999999" y1="417.9" x2="881.8" y2="417.9" stroke="#85858c" stroke-width="0.8"/>
<text transform="translate(874.2,420.6) scale(0.9,1)" text-anchor="end" font-size="9.7" fill="#000" stroke="#000" stroke-width="0.2" font-family="Liberation Sans, sans-serif">24</text>
<line x1="878.1999999999999" y1="447.4" x2="881.8" y2="447.4" stroke="#85858c" stroke-width="0.8"/>
<text transform="translate(874.2,450.1) scale(0.9,1)" text-anchor="end" font-size="9.7" fill="#000" stroke="#000" stroke-width="0.2" font-family="Liberation Sans, sans-serif">22</text>
<line x1="878.1999999999999" y1="477" x2="881.8" y2="477" stroke="#85858c" stroke-width="0.8"/>
<text transform="translate(874.2,479.7) scale(0.9,1)" text-anchor="end" font-size="9.7" fill="#000" stroke="#000" stroke-width="0.2" font-family="Liberation Sans, sans-serif">20</text>
<line x1="878.1999999999999" y1="506.5" x2="881.8" y2="506.5" stroke="#85858c" stroke-width="0.8"/>
<text transform="translate(874.2,509.2) scale(0.9,1)" text-anchor="end" font-size="9.7" fill="#000" stroke="#000" stroke-width="0.2" font-family="Liberation Sans, sans-serif">18</text>
<line x1="878.1999999999999" y1="536.1" x2="881.8" y2="536.1" stroke="#85858c" stroke-width="0.8"/>
<text transform="translate(874.2,538.8) scale(0.9,1)" text-anchor="end" font-size="9.7" fill="#000" stroke="#000" stroke-width="0.2" font-family="Liberation Sans, sans-serif">16</text>
<line x1="878.1999999999999" y1="565.6" x2="881.8" y2="565.6" stroke="#85858c" stroke-width="0.8"/>
<text transform="translate(874.2,568.3) scale(0.9,1)" text-anchor="end" font-size="9.7" fill="#000" stroke="#000" stroke-width="0.2" font-family="Liberation Sans, sans-serif">14</text>
<line x1="879.5999999999999" y1="403.1" x2="881.8" y2="403.1" stroke="#85858c" stroke-width="0.8"/>
<line x1="879.5999999999999" y1="432.7" x2="881.8" y2="432.7" stroke="#85858c" stroke-width="0.8"/>
<line x1="879.5999999999999" y1="462.2" x2="881.8" y2="462.2" stroke="#85858c" stroke-width="0.8"/>
<line x1="879.5999999999999" y1="491.8" x2="881.8" y2="491.8" stroke="#85858c" stroke-width="0.8"/>
<line x1="879.5999999999999" y1="521.3" x2="881.8" y2="521.3" stroke="#85858c" stroke-width="0.8"/>
<line x1="879.5999999999999" y1="550.9" x2="881.8" y2="550.9" stroke="#85858c" stroke-width="0.8"/>
<line x1="879.5999999999999" y1="580.4" x2="881.8" y2="580.4" stroke="#85858c" stroke-width="0.8"/>
<text transform="translate(859.8,484.4) rotate(-90)" text-anchor="middle" font-size="9.6" letter-spacing="0.6" fill="#2c2c2c" font-family="Liberation Sans, sans-serif">PCE (%)</text>
<text x="926.3" y="594.2" text-anchor="middle" letter-spacing="0.7" fill="#111" font-weight="bold" font-size="8.8" font-family="Liberation Sans, sans-serif">SO</text>
<text x="1014.3" y="594.2" text-anchor="middle" letter-spacing="0.7" fill="#2233ee" font-size="9.2" font-family="Liberation Sans, sans-serif">EV</text>
<text x="1104.3" y="594.2" text-anchor="middle" letter-spacing="0.7" fill="#ee1111" font-size="9.2" font-family="Liberation Sans, sans-serif">EV+</text>
<g stroke="#222" stroke-width="1" fill="none">
<rect x="890.4" y="514.4" width="70.2" height="26.0"/>
<path d="M890.4 530.0H960.6M925.2 503.6V514.4M925.2 540.4V558.6M921.2 503.6h8M921.2 558.6h8"/>
<rect x="924.2" y="527.3" width="2" height="2" stroke-width="0.5" opacity="0.6"/>
</g>
<circle cx="925.2" cy="503.6" r="2.4" fill="url(#gk)"/>
<circle cx="895.3" cy="509.2" r="2.4" fill="url(#gk)"/>
<circle cx="955.1" cy="508.2" r="2.4" fill="url(#gk)"/>
<circle cx="905.3" cy="513.4" r="2.4" fill="url(#gk)"/>
<circle cx="925.2" cy="513.4" r="2.4" fill="url(#gk)"/>
<circle cx="935.3" cy="513.7" r="2.4" fill="url(#gk)"/>
<circle cx="945.3" cy="515.0" r="2.4" fill="url(#gk)"/>
<circle cx="915.1" cy="520.9" r="2.4" fill="url(#gk)"/>
<circle cx="935.3" cy="521.5" r="2.4" fill="url(#gk)"/>
<circle cx="905.3" cy="524.4" r="2.4" fill="url(#gk)"/>
<circle cx="895.3" cy="529.0" r="2.4" fill="url(#gk)"/>
<circle cx="925.2" cy="530.0" r="2.4" fill="url(#gk)"/>
<circle cx="955.1" cy="530.9" r="2.4" fill="url(#gk)"/>
<circle cx="915.1" cy="534.5" r="2.4" fill="url(#gk)"/>
<circle cx="945.3" cy="533.9" r="2.4" fill="url(#gk)"/>
<circle cx="925.2" cy="540.0" r="2.4" fill="url(#gk)"/>
<circle cx="935.3" cy="539.7" r="2.4" fill="url(#gk)"/>
<circle cx="905.3" cy="544.6" r="2.4" fill="url(#gk)"/>
<circle cx="915.1" cy="546.2" r="2.4" fill="url(#gk)"/>
<circle cx="945.3" cy="546.2" r="2.4" fill="url(#gk)"/>
<circle cx="920.3" cy="554.3" r="2.4" fill="url(#gk)"/>
<circle cx="930.4" cy="558.6" r="2.4" fill="url(#gk)"/>
<g stroke="#2a3cf0" stroke-width="1" fill="none">
<rect x="977.5" y="461.4" width="70.6" height="19.5"/>
<path d="M977.5 473.1H1048.1M1012.3 451.9V461.4M1012.3 480.9V495.5M1008.3 451.9h8M1008.3 495.5h8"/>
<rect x="1011.3" y="470.4" width="2" height="2" stroke-width="0.5" opacity="0.6"/>
</g>
<circle cx="1021.1" cy="451.9" r="2.4" fill="url(#gb)"/>
<circle cx="1003.9" cy="454.2" r="2.4" fill="url(#gb)"/>
<circle cx="997.7" cy="456.8" r="2.4" fill="url(#gb)"/>
<circle cx="1015.6" cy="456.5" r="2.4" fill="url(#gb)"/>
<circle cx="1009.4" cy="462.0" r="2.4" fill="url(#gb)"/>
<circle cx="1026.6" cy="459.4" r="2.4" fill="url(#gb)"/>
<circle cx="986.0" cy="462.7" r="2.4" fill="url(#gb)"/>
<circle cx="991.8" cy="464.6" r="2.4" fill="url(#gb)"/>
<circle cx="1032.5" cy="462.7" r="2.4" fill="url(#gb)"/>
<circle cx="980.5" cy="471.4" r="2.4" fill="url(#gb)"/>
<circle cx="1015.6" cy="471.4" r="2.4" fill="url(#gb)"/>
<circle cx="997.7" cy="474.4" r="2.4" fill="url(#gb)"/>
<circle cx="1003.9" cy="476.0" r="2.4" fill="url(#gb)"/>
<circle cx="1021.1" cy="476.6" r="2.4" fill="url(#gb)"/>
<circle cx="1026.6" cy="474.7" r="2.4" fill="url(#gb)"/>
<circle cx="1038.3" cy="474.0" r="2.4" fill="url(#gb)"/>
<circle cx="1044.2" cy="476.3" r="2.4" fill="url(#gb)"/>
<circle cx="1006.8" cy="484.1" r="2.4" fill="url(#gb)"/>
<circle cx="1018.2" cy="486.4" r="2.4" fill="url(#gb)"/>
<circle cx="1012.3" cy="488.7" r="2.4" fill="url(#gb)"/>
<circle cx="1006.8" cy="495.5" r="2.4" fill="url(#gb)"/>
<circle cx="1012.3" cy="493.5" r="2.4" fill="url(#gb)"/>
<circle cx="1018.2" cy="496.8" r="2.4" fill="url(#gb)"/>
<g stroke="#f02020" stroke-width="1" fill="none">
<rect x="1065.0" y="430.8" width="70.2" height="12.4"/>
<path d="M1065.0 439.3H1135.2M1099.8 418.4V430.8M1099.8 443.2V449.7M1095.8 418.4h8M1095.8 449.7h8"/>
<rect x="1098.8" y="436.6" width="2" height="2" stroke-width="0.5" opacity="0.6"/>
</g>
<circle cx="1086.1" cy="418.4" r="2.4" fill="url(#gr)"/>
<circle cx="1107.6" cy="424.6" r="2.4" fill="url(#gr)"/>
<circle cx="1118.3" cy="425.3" r="2.4" fill="url(#gr)"/>
<circle cx="1113.1" cy="428.5" r="2.4" fill="url(#gr)"/>
<circle cx="1072.8" cy="433.4" r="2.4" fill="url(#gr)"/>
<circle cx="1080.9" cy="430.8" r="2.4" fill="url(#gr)"/>
<circle cx="1091.6" cy="430.8" r="2.4" fill="url(#gr)"/>
<circle cx="1096.8" cy="430.5" r="2.4" fill="url(#gr)"/>
<circle cx="1102.4" cy="429.5" r="2.4" fill="url(#gr)"/>
<circle cx="1067.6" cy="438.9" r="2.4" fill="url(#gr)"/>
<circle cx="1078.3" cy="440.6" r="2.4" fill="url(#gr)"/>
<circle cx="1083.5" cy="438.6" r="2.4" fill="url(#gr)"/>
<circle cx="1089.0" cy="441.2" r="2.4" fill="url(#gr)"/>
<circle cx="1099.8" cy="437.6" r="2.4" fill="url(#gr)"/>
<circle cx="1110.5" cy="439.3" r="2.4" fill="url(#gr)"/>
<circle cx="1115.7" cy="442.2" r="2.4" fill="url(#gr)"/>
<circle cx="1121.2" cy="438.6" r="2.4" fill="url(#gr)"/>
<circle cx="1126.4" cy="443.8" r="2.4" fill="url(#gr)"/>
<circle cx="1132.0" cy="441.2" r="2.4" fill="url(#gr)"/>
<circle cx="1094.2" cy="447.4" r="2.4" fill="url(#gr)"/>
<circle cx="1099.8" cy="448.7" r="2.4" fill="url(#gr)"/>
<circle cx="1105.0" cy="446.7" r="2.4" fill="url(#gr)"/>
<circle cx="1105.0" cy="449.7" r="2.4" fill="url(#gr)"/>
</svg>
</body></html>
